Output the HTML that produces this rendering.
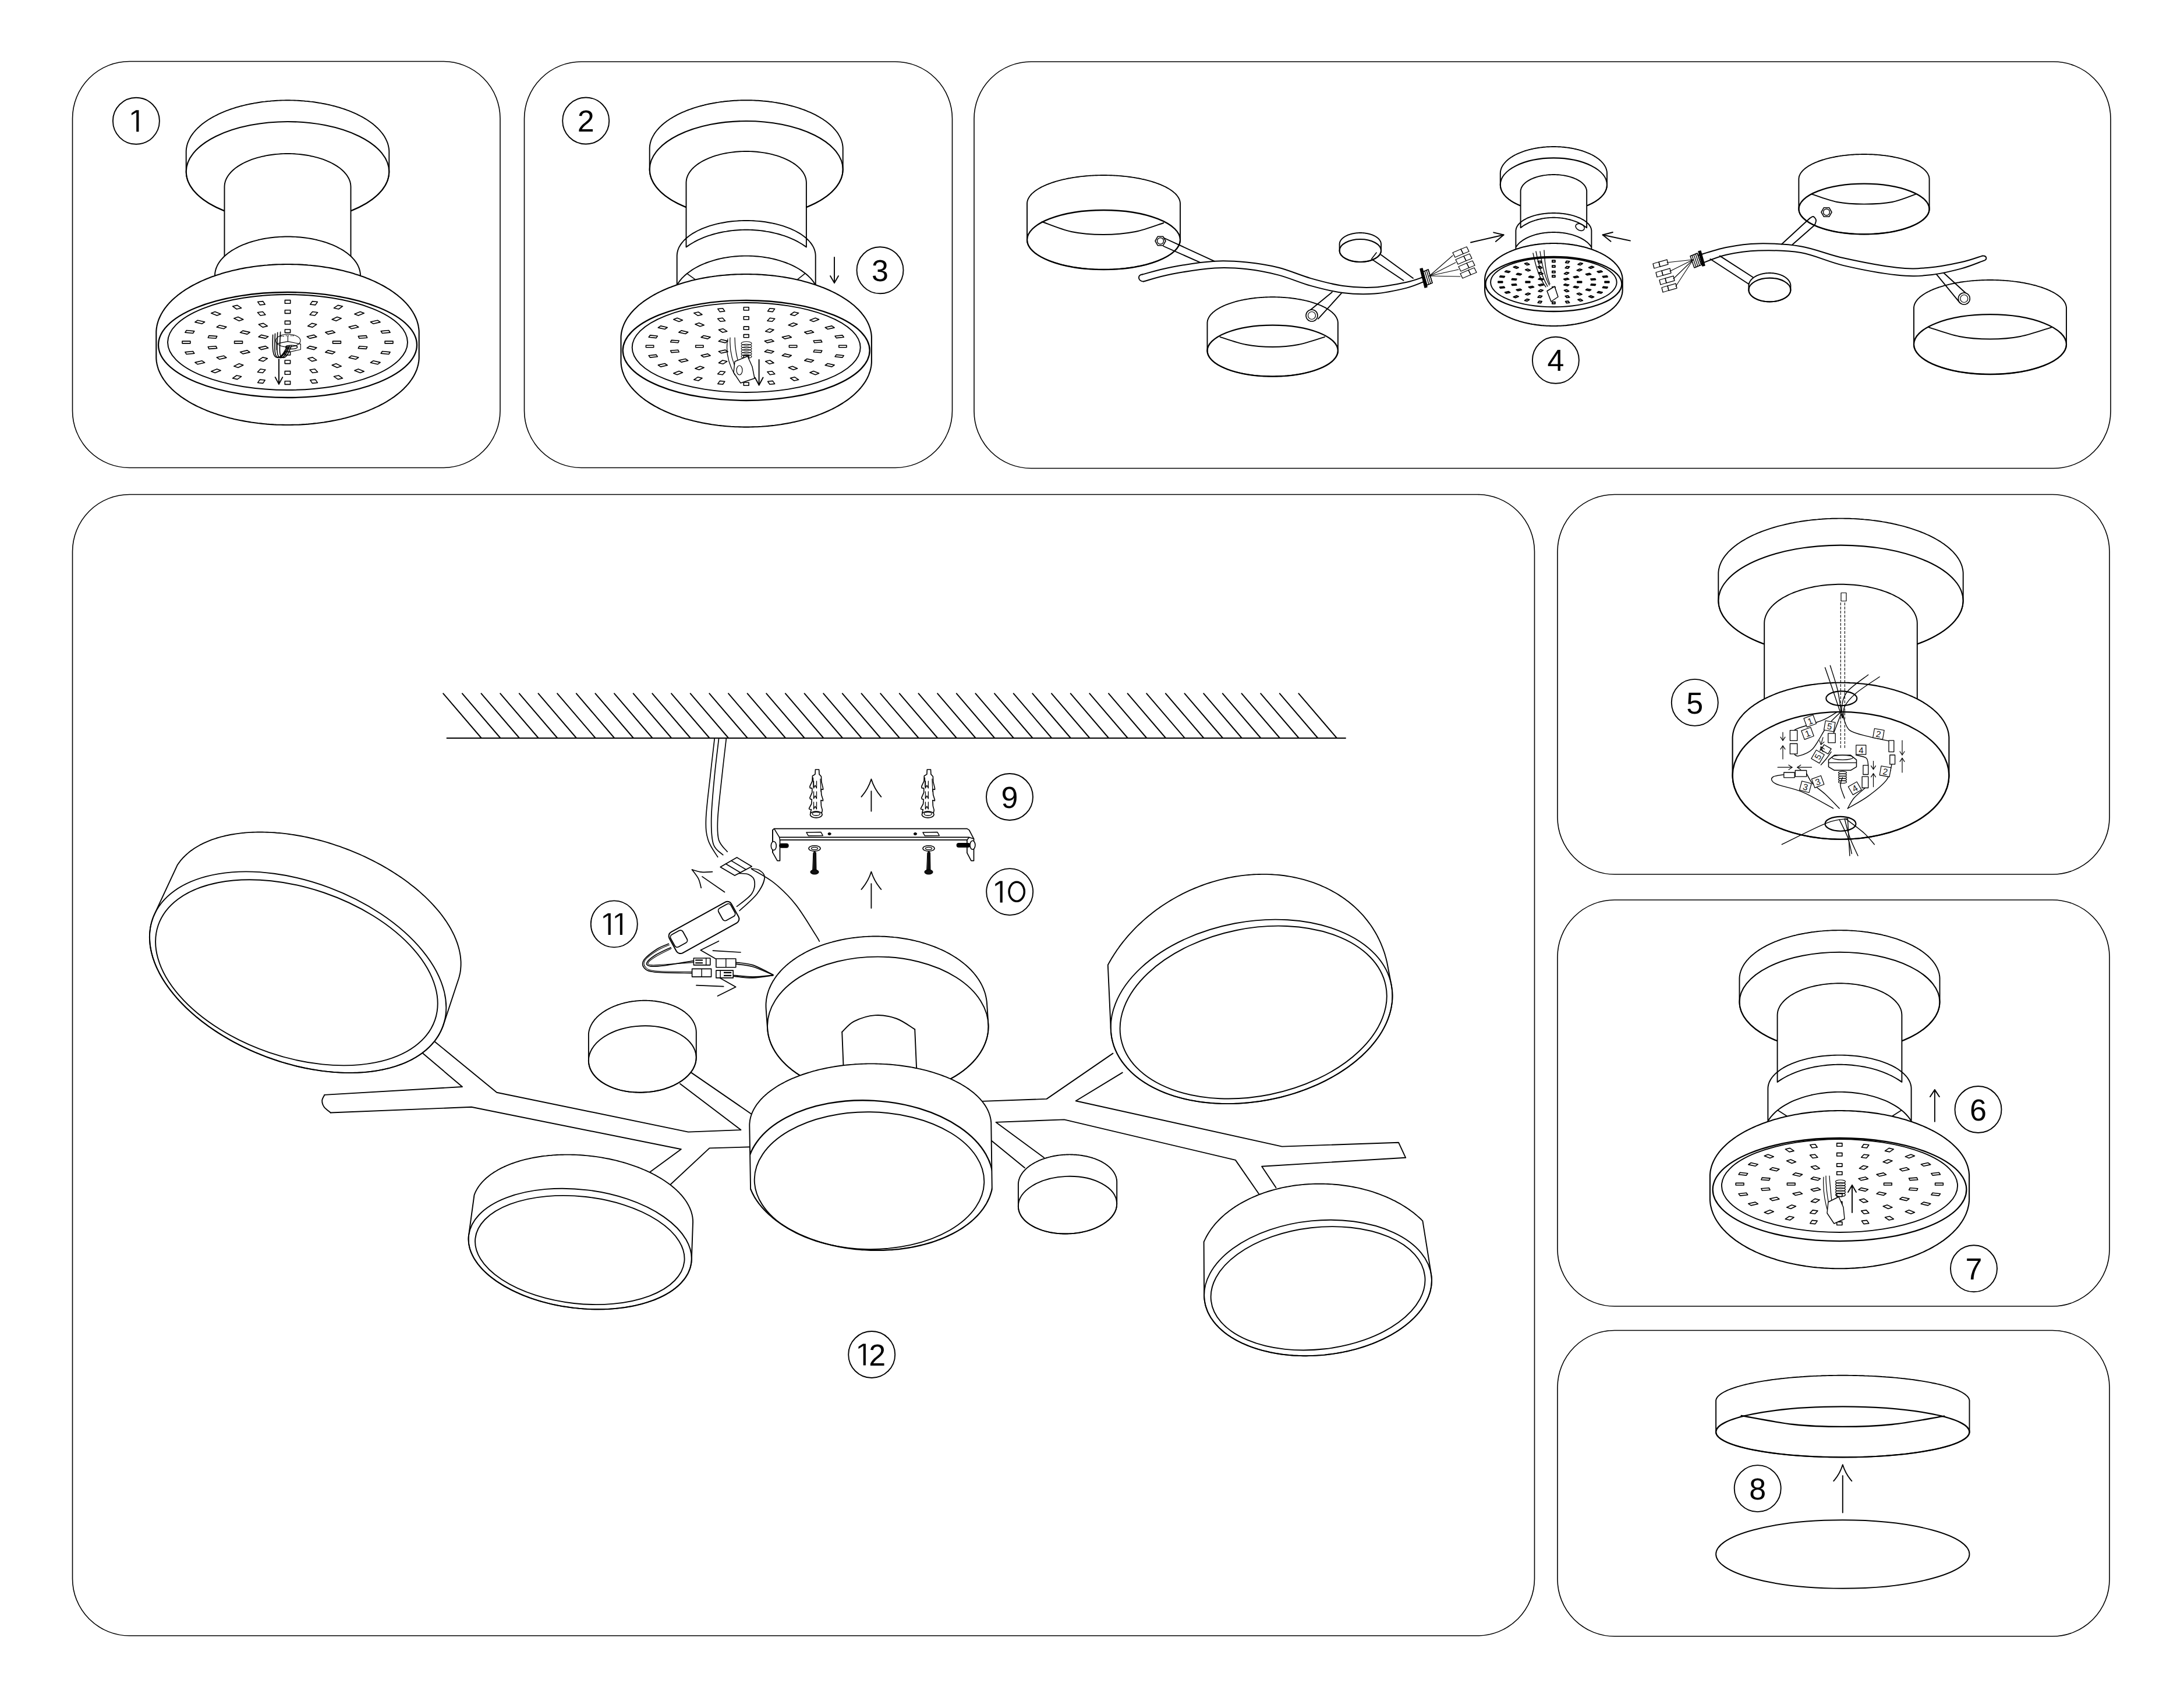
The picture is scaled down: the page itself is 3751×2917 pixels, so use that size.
<!DOCTYPE html><html><head><meta charset="utf-8"><style>html,body{margin:0;padding:0;background:#fff;}svg{display:block;}</style></head><body><svg width="3751" height="2917" viewBox="0 0 3751 2917" fill="none" stroke="#000" stroke-width="1.9" stroke-linecap="round" stroke-linejoin="round" font-family="Liberation Sans, sans-serif">
<rect x="0" y="0" width="3751" height="2917" fill="#fff" stroke="none"/>
<rect x="124.5" y="105.5" width="734.5" height="698" rx="98" stroke-width="1.6"/>
<rect x="900.5" y="106" width="735" height="697.5" rx="98" stroke-width="1.6"/>
<rect x="1673" y="106" width="1952" height="698.5" rx="98" stroke-width="1.6"/>
<rect x="124.5" y="849.5" width="2511" height="1960.5" rx="98" stroke-width="1.6"/>
<rect x="2675" y="849.5" width="948" height="652.5" rx="98" stroke-width="1.6"/>
<rect x="2675" y="1546" width="948" height="698" rx="98" stroke-width="1.6"/>
<rect x="2675" y="2285.5" width="948" height="525.5" rx="98" stroke-width="1.6"/>
<path d="M319.7 295L319.7 261.3 319.7 259.7 319.8 258.2 319.9 256.6 320.1 255.1 320.4 253.5 320.7 252 321 250.5 321.4 248.9 321.8 247.4 322.3 245.8 322.9 244.3 323.5 242.8 324.2 241.3 324.9 239.8 325.6 238.3 326.5 236.8 327.3 235.3 328.2 233.8 329.2 232.3 330.2 230.9 331.3 229.4 332.4 228 333.6 226.5 334.8 225.1 336 223.7 337.3 222.3 338.7 220.9 340.1 219.5 341.6 218.2 343.1 216.8 344.6 215.5 346.2 214.1 347.8 212.8 349.5 211.5 351.2 210.3 353 209 354.8 207.7 356.6 206.5 358.5 205.3 360.5 204.1 362.5 202.9 364.5 201.7 366.5 200.6 368.6 199.5 370.8 198.4 372.9 197.3 375.1 196.2 377.4 195.2 379.6 194.1 382 193.1 384.3 192.1 386.7 191.2 389.1 190.2 391.5 189.3 394 188.4 396.5 187.5 399.1 186.7 401.6 185.8 404.2 185 406.8 184.2 409.5 183.5 412.2 182.7 414.9 182 417.6 181.3 420.3 180.6 423.1 180 425.9 179.4 428.7 178.8 431.5 178.2 434.4 177.7 437.3 177.1 440.1 176.7 443 176.2 446 175.7 448.9 175.3 451.8 174.9 454.8 174.6 457.8 174.2 460.7 173.9 463.7 173.7 466.7 173.4 469.7 173.2 472.8 173 475.8 172.8 478.8 172.6 481.8 172.5 484.9 172.4 487.9 172.4 491 172.3 494 172.3 497 172.3 500.1 172.4 503.1 172.4 506.2 172.5 509.2 172.6 512.2 172.8 515.2 173 518.3 173.2 521.3 173.4 524.3 173.7 527.3 173.9 530.2 174.2 533.2 174.6 536.2 174.9 539.1 175.3 542 175.7 545 176.2 547.9 176.7 550.7 177.1 553.6 177.7 556.5 178.2 559.3 178.8 562.1 179.4 564.9 180 567.7 180.6 570.4 181.3 573.1 182 575.8 182.7 578.5 183.5 581.1 184.2 583.8 185 586.4 185.8 588.9 186.7 591.5 187.5 594 188.4 596.5 189.3 598.9 190.2 601.3 191.2 603.7 192.1 606 193.1 608.4 194.1 610.6 195.2 612.9 196.2 615.1 197.3 617.2 198.4 619.4 199.5 621.5 200.6 623.5 201.7 625.5 202.9 627.5 204.1 629.5 205.3 631.4 206.5 633.2 207.7 635 209 636.8 210.3 638.5 211.5 640.2 212.8 641.8 214.1 643.4 215.5 644.9 216.8 646.4 218.2 647.9 219.5 649.3 220.9 650.7 222.3 652 223.7 653.2 225.1 654.4 226.5 655.6 228 656.7 229.4 657.8 230.9 658.8 232.3 659.8 233.8 660.7 235.3 661.5 236.8 662.4 238.3 663.1 239.8 663.8 241.3 664.5 242.8 665.1 244.3 665.7 245.8 666.2 247.4 666.6 248.9 667 250.5 667.3 252 667.6 253.5 667.9 255.1 668.1 256.6 668.2 258.2 668.3 259.7 668.3 261.3 668.3 295 668.3 296.5 668.2 298 668.1 299.5 667.9 301 667.6 302.5 667.3 304 667 305.5 666.6 307 666.2 308.5 665.7 309.9 665.1 311.4 664.5 312.9 663.8 314.3 663.1 315.8 662.4 317.3 661.5 318.7 660.7 320.1 659.8 321.6 658.8 323 657.8 324.4 656.7 325.8 655.6 327.2 654.4 328.6 653.2 330 652 331.3 650.7 332.7 649.3 334 647.9 335.4 646.4 336.7 644.9 338 643.4 339.3 641.8 340.6 640.2 341.8 638.5 343.1 636.8 344.3 635 345.5 633.2 346.8 631.4 347.9 629.5 349.1 627.5 350.3 625.5 351.4 623.5 352.5 621.5 353.7 619.4 354.7 617.2 355.8 615.1 356.9 612.9 357.9 610.6 358.9 608.4 359.9 606 360.9 603.7 361.8 601.3 362.8 598.9 363.7 596.5 364.6 594 365.4 591.5 366.3 588.9 367.1 586.4 367.9 583.8 368.7 581.1 369.5 578.5 370.2 575.8 370.9 573.1 371.6 570.4 372.3 567.7 372.9 564.9 373.6 562.1 374.2 559.3 374.7 556.5 375.3 553.6 375.8 550.7 376.3 547.9 376.8 545 377.2 542 377.7 539.1 378.1 536.2 378.4 533.2 378.8 530.2 379.1 527.3 379.4 524.3 379.7 521.3 379.9 518.3 380.2 515.2 380.4 512.2 380.5 509.2 380.7 506.2 380.8 503.1 380.9 500.1 380.9 497 381 494 381 491 381 487.9 380.9 484.9 380.9 481.8 380.8 478.8 380.7 475.8 380.5 472.8 380.4 469.7 380.2 466.7 379.9 463.7 379.7 460.7 379.4 457.8 379.1 454.8 378.8 451.8 378.4 448.9 378.1 446 377.7 443 377.2 440.1 376.8 437.3 376.3 434.4 375.8 431.5 375.3 428.7 374.7 425.9 374.2 423.1 373.6 420.3 372.9 417.6 372.3 414.9 371.6 412.2 370.9 409.5 370.2 406.9 369.5 404.2 368.7 401.6 367.9 399.1 367.1 396.5 366.3 394 365.4 391.5 364.6 389.1 363.7 386.7 362.8 384.3 361.8 382 360.9 379.6 359.9 377.4 358.9 375.1 357.9 372.9 356.9 370.8 355.8 368.6 354.7 366.5 353.7 364.5 352.5 362.5 351.4 360.5 350.3 358.5 349.1 356.6 347.9 354.8 346.8 353 345.5 351.2 344.3 349.5 343.1 347.8 341.8 346.2 340.6 344.6 339.3 343.1 338 341.6 336.7 340.1 335.4 338.7 334 337.3 332.7 336 331.3 334.8 330 333.6 328.6 332.4 327.2 331.3 325.8 330.2 324.4 329.2 323 328.2 321.6 327.3 320.1 326.5 318.7 325.6 317.3 324.9 315.8 324.2 314.3 323.5 312.9 322.9 311.4 322.3 309.9 321.8 308.5 321.4 307 321 305.5 320.7 304 320.4 302.5 320.1 301 319.9 299.5 319.8 298 319.7 296.5Z" stroke-width="1.9" fill="#fff"/>
<ellipse cx="494" cy="295" rx="174.3" ry="86" stroke-width="2.1"/>
<path d="M385.5 321L385.6 319 385.8 317 386.1 315 386.6 313.1 387.1 311.1 387.9 309.1 388.7 307.2 389.7 305.3 390.8 303.4 392 301.5 393.4 299.6 394.9 297.8 396.5 296 398.2 294.2 400 292.5 402 290.8 404 289.1 406.2 287.5 408.5 285.9 410.9 284.4 413.4 282.9 416 281.4 418.6 280 421.4 278.6 424.3 277.3 427.2 276.1 430.2 274.9 433.3 273.7 436.5 272.7 439.7 271.6 443.1 270.7 446.4 269.8 449.9 268.9 453.4 268.2 456.9 267.4 460.5 266.8 464.1 266.2 467.8 265.7 471.4 265.2 475.2 264.9 478.9 264.6 482.7 264.3 486.4 264.1 490.2 264 494 264 497.8 264 501.6 264.1 505.3 264.3 509.1 264.6 512.8 264.9 516.6 265.2 520.2 265.7 523.9 266.2 527.5 266.8 531.1 267.4 534.6 268.2 538.1 268.9 541.6 269.8 544.9 270.7 548.2 271.6 551.5 272.7 554.7 273.7 557.8 274.9 560.8 276.1 563.7 277.3 566.6 278.6 569.4 280 572 281.4 574.6 282.9 577.1 284.4 579.5 285.9 581.8 287.5 584 289.1 586 290.8 588 292.5 589.8 294.2 591.5 296 593.1 297.8 594.6 299.6 596 301.5 597.2 303.4 598.3 305.3 599.3 307.2 600.1 309.1 600.9 311.1 601.4 313.1 601.9 315 602.2 317 602.4 319 602.5 321 602.5 470 602.4 472 602.2 474 601.9 476 601.4 477.9 600.9 479.9 600.1 481.9 599.3 483.8 598.3 485.7 597.2 487.6 596 489.5 594.6 491.4 593.1 493.2 591.5 495 589.8 496.8 588 498.5 586 500.2 584 501.9 581.8 503.5 579.5 505.1 577.1 506.6 574.6 508.1 572 509.6 569.4 511 566.6 512.4 563.7 513.7 560.8 514.9 557.8 516.1 554.7 517.3 551.5 518.3 548.2 519.4 544.9 520.3 541.6 521.2 538.1 522.1 534.6 522.8 531.1 523.6 527.5 524.2 523.9 524.8 520.2 525.3 516.6 525.8 512.8 526.1 509.1 526.4 505.3 526.7 501.6 526.9 497.8 527 494 527 490.2 527 486.4 526.9 482.7 526.7 478.9 526.4 475.2 526.1 471.4 525.8 467.8 525.3 464.1 524.8 460.5 524.2 456.9 523.6 453.4 522.8 449.9 522.1 446.4 521.2 443.1 520.3 439.8 519.4 436.5 518.3 433.3 517.3 430.2 516.1 427.2 514.9 424.3 513.7 421.4 512.4 418.6 511 416 509.6 413.4 508.1 410.9 506.6 408.5 505.1 406.2 503.5 404 501.9 402 500.2 400 498.5 398.2 496.8 396.5 495 394.9 493.2 393.4 491.4 392 489.5 390.8 487.6 389.7 485.7 388.7 483.8 387.9 481.9 387.1 479.9 386.6 477.9 386.1 476 385.8 474 385.6 472 385.5 470Z" stroke-width="1.9" fill="#fff"/>
<path d="M369 473.5L369.1 471.2 369.3 468.8 369.7 466.5 370.2 464.2 370.9 461.9 371.7 459.6 372.7 457.3 373.8 455 375.1 452.8 376.5 450.6 378.1 448.4 379.8 446.2 381.7 444.1 383.6 442 385.7 440 388 438 390.4 436 392.9 434.1 395.5 432.3 398.2 430.4 401.1 428.7 404.1 427 407.2 425.3 410.4 423.7 413.7 422.2 417 420.7 420.5 419.3 424.1 418 427.8 416.7 431.5 415.5 435.3 414.3 439.2 413.3 443.2 412.3 447.2 411.4 451.2 410.5 455.4 409.8 459.5 409.1 463.8 408.5 468 408 472.3 407.5 476.6 407.2 480.9 406.9 485.3 406.7 489.6 406.5 494 406.5 498.4 406.5 502.7 406.7 507.1 406.9 511.4 407.2 515.7 407.5 520 408 524.2 408.5 528.5 409.1 532.6 409.8 536.8 410.5 540.8 411.4 544.8 412.3 548.8 413.3 552.7 414.3 556.5 415.5 560.2 416.7 563.9 418 567.5 419.3 571 420.7 574.3 422.2 577.6 423.7 580.8 425.3 583.9 427 586.9 428.7 589.8 430.4 592.5 432.3 595.1 434.1 597.6 436 600 438 602.3 440 604.4 442 606.3 444.1 608.2 446.2 609.9 448.4 611.5 450.6 612.9 452.8 614.2 455 615.3 457.3 616.3 459.6 617.1 461.9 617.8 464.2 618.3 466.5 618.7 468.8 618.9 471.2 619 473.5 619 520 618.9 522.3 618.7 524.7 618.3 527 617.8 529.3 617.1 531.6 616.3 533.9 615.3 536.2 614.2 538.5 612.9 540.7 611.5 542.9 609.9 545.1 608.2 547.3 606.3 549.4 604.4 551.5 602.3 553.5 600 555.5 597.6 557.5 595.1 559.4 592.5 561.2 589.8 563.1 586.9 564.8 583.9 566.5 580.8 568.2 577.6 569.8 574.3 571.3 571 572.8 567.5 574.2 563.9 575.5 560.2 576.8 556.5 578 552.7 579.2 548.8 580.2 544.8 581.2 540.8 582.1 536.8 583 532.6 583.7 528.5 584.4 524.2 585 520 585.5 515.7 586 511.4 586.3 507.1 586.6 502.7 586.8 498.4 587 494 587 489.6 587 485.3 586.8 480.9 586.6 476.6 586.3 472.3 586 468 585.5 463.8 585 459.5 584.4 455.4 583.7 451.2 583 447.2 582.1 443.2 581.2 439.2 580.2 435.3 579.2 431.5 578 427.8 576.8 424.1 575.5 420.5 574.2 417 572.8 413.7 571.3 410.4 569.8 407.2 568.2 404.1 566.5 401.1 564.8 398.2 563.1 395.5 561.2 392.9 559.4 390.4 557.5 388 555.5 385.7 553.5 383.6 551.5 381.7 549.4 379.8 547.3 378.1 545.1 376.5 542.9 375.1 540.7 373.8 538.5 372.7 536.2 371.7 533.9 370.9 531.6 370.2 529.3 369.7 527 369.3 524.7 369.1 522.3 369 520Z" stroke-width="1.9" fill="#fff"/>
<path d="M268.3 613L268.3 572 268.3 569.9 268.4 567.9 268.6 565.8 268.8 563.8 269.2 561.7 269.5 559.7 270 557.6 270.5 555.6 271.1 553.5 271.7 551.5 272.4 549.5 273.2 547.5 274.1 545.5 275 543.5 276 541.5 277 539.5 278.2 537.5 279.3 535.5 280.6 533.6 281.9 531.6 283.3 529.7 284.7 527.8 286.2 525.9 287.8 524 289.4 522.1 291.1 520.3 292.9 518.4 294.7 516.6 296.6 514.8 298.5 513 300.5 511.2 302.6 509.5 304.7 507.7 306.9 506 309.1 504.3 311.4 502.6 313.7 501 316.1 499.4 318.6 497.7 321.1 496.2 323.7 494.6 326.3 493 328.9 491.5 331.6 490 334.4 488.6 337.2 487.1 340.1 485.7 343 484.3 345.9 482.9 348.9 481.6 352 480.3 355 479 358.2 477.8 361.3 476.5 364.5 475.3 367.8 474.2 371.1 473 374.4 471.9 377.8 470.9 381.1 469.8 384.6 468.8 388 467.8 391.5 466.9 395.1 465.9 398.6 465.1 402.2 464.2 405.8 463.4 409.5 462.6 413.1 461.8 416.8 461.1 420.5 460.4 424.3 459.8 428 459.2 431.8 458.6 435.6 458 439.4 457.5 443.2 457 447.1 456.6 450.9 456.2 454.8 455.8 458.7 455.5 462.6 455.1 466.5 454.9 470.4 454.6 474.3 454.4 478.3 454.3 482.2 454.2 486.1 454.1 490.1 454 494 454 497.9 454 501.9 454.1 505.8 454.2 509.7 454.3 513.7 454.4 517.6 454.6 521.5 454.9 525.4 455.1 529.3 455.5 533.2 455.8 537.1 456.2 540.9 456.6 544.8 457 548.6 457.5 552.4 458 556.2 458.6 560 459.2 563.7 459.8 567.5 460.4 571.2 461.1 574.9 461.8 578.5 462.6 582.2 463.4 585.8 464.2 589.4 465.1 592.9 465.9 596.5 466.9 600 467.8 603.4 468.8 606.9 469.8 610.2 470.9 613.6 471.9 616.9 473 620.2 474.2 623.5 475.3 626.7 476.5 629.8 477.8 633 479 636 480.3 639.1 481.6 642.1 482.9 645 484.3 647.9 485.7 650.8 487.1 653.6 488.6 656.4 490 659.1 491.5 661.7 493 664.3 494.6 666.9 496.2 669.4 497.7 671.9 499.4 674.3 501 676.6 502.6 678.9 504.3 681.1 506 683.3 507.7 685.4 509.5 687.5 511.2 689.5 513 691.4 514.8 693.3 516.6 695.1 518.4 696.9 520.3 698.6 522.1 700.2 524 701.8 525.9 703.3 527.8 704.7 529.7 706.1 531.6 707.4 533.6 708.7 535.5 709.8 537.5 711 539.5 712 541.5 713 543.5 713.9 545.5 714.8 547.5 715.6 549.5 716.3 551.5 716.9 553.5 717.5 555.6 718 557.6 718.5 559.7 718.8 561.7 719.2 563.8 719.4 565.8 719.6 567.9 719.7 569.9 719.7 572 719.7 613 719.7 615 719.6 617.1 719.4 619.1 719.2 621.2 718.8 623.2 718.5 625.2 718 627.3 717.5 629.3 716.9 631.3 716.3 633.3 715.6 635.3 714.8 637.3 713.9 639.3 713 641.3 712 643.3 711 645.2 709.8 647.2 708.7 649.2 707.4 651.1 706.1 653 704.7 654.9 703.3 656.8 701.8 658.7 700.2 660.6 698.6 662.4 696.9 664.3 695.1 666.1 693.3 667.9 691.4 669.7 689.5 671.5 687.5 673.3 685.4 675 683.3 676.7 681.1 678.4 678.9 680.1 676.6 681.8 674.3 683.4 671.9 685 669.4 686.6 666.9 688.2 664.3 689.8 661.7 691.3 659.1 692.8 656.4 694.3 653.6 695.7 650.8 697.2 647.9 698.6 645 699.9 642.1 701.3 639.1 702.6 636 703.9 633 705.2 629.8 706.4 626.7 707.7 623.5 708.8 620.2 710 616.9 711.1 613.6 712.2 610.2 713.3 606.9 714.3 603.4 715.3 600 716.3 596.5 717.2 592.9 718.2 589.4 719 585.8 719.9 582.2 720.7 578.5 721.5 574.9 722.2 571.2 722.9 567.5 723.6 563.7 724.3 560 724.9 556.2 725.5 552.4 726 548.6 726.5 544.8 727 540.9 727.4 537.1 727.9 533.2 728.2 529.3 728.6 525.4 728.9 521.5 729.1 517.6 729.4 513.7 729.6 509.7 729.7 505.8 729.8 501.9 729.9 497.9 730 494 730 490.1 730 486.1 729.9 482.2 729.8 478.3 729.7 474.3 729.6 470.4 729.4 466.5 729.1 462.6 728.9 458.7 728.6 454.8 728.2 450.9 727.9 447.1 727.4 443.2 727 439.4 726.5 435.6 726 431.8 725.5 428 724.9 424.3 724.3 420.5 723.6 416.8 722.9 413.1 722.2 409.5 721.5 405.8 720.7 402.2 719.9 398.6 719 395.1 718.2 391.5 717.2 388 716.3 384.6 715.3 381.2 714.3 377.8 713.3 374.4 712.2 371.1 711.1 367.8 710 364.5 708.8 361.3 707.7 358.2 706.4 355 705.2 352 703.9 348.9 702.6 345.9 701.3 343 699.9 340.1 698.6 337.2 697.2 334.4 695.7 331.6 694.3 328.9 692.8 326.3 691.3 323.7 689.8 321.1 688.2 318.6 686.6 316.1 685 313.7 683.4 311.4 681.8 309.1 680.1 306.9 678.4 304.7 676.7 302.6 675 300.5 673.3 298.5 671.5 296.6 669.7 294.7 667.9 292.9 666.1 291.1 664.3 289.4 662.4 287.8 660.6 286.2 658.7 284.7 656.8 283.3 654.9 281.9 653 280.6 651.1 279.3 649.2 278.2 647.2 277 645.2 276 643.3 275 641.3 274.1 639.3 273.2 637.3 272.4 635.3 271.7 633.3 271.1 631.3 270.5 629.3 270 627.3 269.5 625.2 269.2 623.2 268.8 621.2 268.6 619.1 268.4 617.1 268.3 615Z" stroke-width="2.1" fill="#fff"/>
<ellipse cx="494" cy="592.5" rx="222" ry="90.5" stroke-width="2.3"/>
<ellipse cx="494" cy="588" rx="206" ry="82" stroke-width="1.9"/>
<path d="M539.3 575.4L543.9 578.6 531.9 581.4 527.2 578.2ZM489.4 566L498.6 566 498.6 571.6 489.4 571.6ZM444.1 578.6L448.7 575.4 460.8 578.2 456.1 581.4ZM448.7 600.6L444.1 597.4 456.1 594.6 460.8 597.8ZM498.6 610L489.3 610 489.3 604.4 498.6 604.4ZM543.9 597.4L539.3 600.6 527.2 597.8 531.9 594.6ZM585.4 586.1L585.4 589.9 571.5 589.9 571.5 586.1ZM570.9 568.1L575.5 571.3 563.4 574.1 558.8 570.9ZM535.7 555.4L543.7 557.3 536.8 562.1 528.7 560.2ZM489.4 551.4L498.6 551.4 498.6 557 489.4 557ZM444.3 557.3L452.3 555.4 459.3 560.2 451.2 562.1ZM412.5 571.3L417.1 568.1 429.2 570.9 424.6 574.1ZM402.6 589.9L402.6 586.1 416.5 586.1 416.5 589.9ZM417.1 607.9L412.5 604.7 424.6 601.9 429.2 605.1ZM452.3 620.6L444.3 618.7 451.2 613.9 459.3 615.8ZM498.6 624.6L489.3 624.6 489.3 619 498.6 619ZM543.7 618.7L535.7 620.6 528.7 615.8 536.8 613.9ZM575.5 604.7L570.9 607.9 558.8 605.1 563.4 601.9ZM629.1 576.6L630.7 580.2 617 581.2 615.3 577.6ZM611.2 558.8L615.8 562 603.7 564.8 599.1 561.6ZM579.1 544.5L586.3 546.9 577.3 551.2 570.2 548.8ZM536.8 535.5L545.6 536.8 540.8 542 532.1 540.7ZM489.4 532.8L498.7 532.8 498.7 538.4 489.4 538.4ZM442.4 536.8L451.2 535.5 455.9 540.7 447.2 542ZM401.7 546.9L408.9 544.5 417.8 548.8 410.7 551.2ZM372.2 562L376.8 558.8 388.9 561.6 384.3 564.8ZM357.3 580.2L358.9 576.6 372.7 577.6 371 581.2ZM358.9 599.4L357.3 595.8 371 594.8 372.7 598.4ZM376.8 617.2L372.2 614 384.3 611.2 388.9 614.4ZM408.9 631.5L401.7 629.1 410.7 624.8 417.8 627.2ZM451.2 640.5L442.4 639.2 447.2 634 455.9 635.3ZM498.6 643.2L489.3 643.2 489.3 637.6 498.6 637.6ZM545.6 639.2L536.8 640.5 532.1 635.3 540.8 634ZM586.3 629.1L579.1 631.5 570.2 627.2 577.3 624.8ZM615.8 614L611.2 617.2 599.1 614.4 603.7 611.2ZM630.7 595.8L629.1 599.4 615.3 598.4 617 594.8ZM675 586.1L675 589.9 661.1 589.9 661.1 586.1ZM667.7 567.5L670.1 571.1 656.6 572.5 654.2 568.9ZM648.5 550.2L653.1 553.4 641 556.2 636.4 553ZM618.7 535.5L625.3 538.1 615.4 542.1 608.9 539.4ZM580.5 524.4L588.5 526.2 581.6 531 573.5 529.2ZM536.4 517.6L545.3 518.5 541.7 523.9 532.8 523ZM489.4 515.6L498.7 515.6 498.7 521.2 489.4 521.2ZM442.7 518.5L451.6 517.6 455.2 523 446.3 523.9ZM399.5 526.2L407.5 524.4 414.5 529.2 406.4 531ZM362.7 538.1L369.3 535.5 379.1 539.4 372.6 542.1ZM334.9 553.4L339.5 550.2 351.6 553 347 556.2ZM317.9 571.1L320.3 567.5 333.8 568.9 331.4 572.5ZM313 589.9L313 586.1 326.9 586.1 326.9 589.9ZM320.3 608.5L317.9 604.9 331.4 603.5 333.8 607.1ZM339.5 625.8L334.9 622.6 347 619.8 351.6 623ZM369.3 640.5L362.7 637.9 372.6 633.9 379.1 636.6ZM407.5 651.6L399.5 649.8 406.4 645 414.5 646.8ZM451.6 658.4L442.7 657.5 446.3 652.1 455.2 653ZM498.6 660.4L489.3 660.4 489.3 654.8 498.6 654.8ZM545.3 657.5L536.4 658.4 532.8 653 541.7 652.1ZM588.5 649.8L580.5 651.6 573.5 646.8 581.6 645ZM625.3 637.9L618.7 640.5 608.9 636.6 615.4 633.9ZM653.1 622.6L648.5 625.8 636.4 623 641 619.8ZM670.1 604.9L667.7 608.5 654.2 607.1 656.6 603.5Z" stroke-width="1.6"/>
<ellipse cx="494.8" cy="585.3" rx="21.2" ry="11" stroke-width="1.1" fill="#fff"/>
<path d="M475 590.4L494.4 586.6 516.3 591.1" stroke-width="1.1"/>
<path d="M494.4 577.2L494.4 586.6" stroke-width="1.1"/>
<path d="M516.3 591.1L516.3 600.5 496.5 604.7" stroke-width="1.1"/>
<path d="M475 590.4L475 601" stroke-width="1.1"/>
<path d="M482 577.5 h6 M491 576.8 h5 M499 576.8 h6" stroke-width="1" stroke-dasharray="2 1.5"/>
<ellipse cx="500.6" cy="596.3" rx="10.2" ry="3.2" stroke-width="1.4"/>
<path d="M468.6 575.2C467.6 600.2 468.4 614.4 476.4 614.4S490 601.5 493 595.5" stroke-width="1.6"/>
<path d="M472.5 573.3C471.5 598.3 470.5 614.2 478.5 614.2S492.5 601.2 495.5 595.2" stroke-width="1.6"/>
<path d="M476.7 571.3C475.7 596.3 474 614.6 482 614.6S494.5 600.6 497.5 594.6" stroke-width="1.6"/>
<path d="M481.6 570.4C480.6 595.4 478 614.5 486 614.5S497.5 600.2 500.5 594.2" stroke-width="1.6"/>
<path d="M479 617L479 659.7" stroke-width="1.9"/>
<path d="M472.7 648.1L479 659.7 485.3 648.1" stroke-width="1.9"/>
<circle cx="233.9" cy="207.8" r="40" stroke-width="1.9"/>
<path d="M238.4 189.3L238.4 226.3 234.2 226.3 234.2 192.9 225.9 198.1 225.9 194.3 233.6 189.3Z" fill="#000" stroke="none"/>
<path d="M1115.7 291L1115.7 255.8 1115.7 254.3 1115.8 252.9 1115.9 251.4 1116.1 250 1116.3 248.5 1116.6 247.1 1116.9 245.6 1117.3 244.2 1117.7 242.7 1118.2 241.3 1118.7 239.8 1119.3 238.4 1120 237 1120.6 235.6 1121.4 234.2 1122.1 232.8 1123 231.4 1123.8 230 1124.7 228.6 1125.7 227.2 1126.7 225.8 1127.8 224.5 1128.9 223.1 1130.1 221.8 1131.3 220.5 1132.5 219.2 1133.8 217.8 1135.1 216.6 1136.5 215.3 1137.9 214 1139.4 212.7 1140.9 211.5 1142.5 210.3 1144.1 209.1 1145.7 207.8 1147.4 206.7 1149.1 205.5 1150.9 204.3 1152.7 203.2 1154.5 202.1 1156.4 201 1158.3 199.9 1160.3 198.8 1162.3 197.7 1164.3 196.7 1166.4 195.7 1168.5 194.7 1170.6 193.7 1172.8 192.7 1175 191.8 1177.2 190.8 1179.5 189.9 1181.8 189 1184.1 188.2 1186.5 187.3 1188.9 186.5 1191.3 185.7 1193.7 184.9 1196.2 184.1 1198.7 183.4 1201.2 182.7 1203.8 182 1206.3 181.3 1208.9 180.7 1211.5 180 1214.2 179.4 1216.8 178.8 1219.5 178.3 1222.2 177.8 1224.9 177.2 1227.7 176.8 1230.4 176.3 1233.2 175.9 1235.9 175.4 1238.7 175 1241.5 174.7 1244.4 174.3 1247.2 174 1250 173.7 1252.9 173.5 1255.7 173.2 1258.6 173 1261.5 172.8 1264.3 172.7 1267.2 172.5 1270.1 172.4 1273 172.3 1275.9 172.3 1278.8 172.2 1281.7 172.2 1284.6 172.2 1287.5 172.3 1290.4 172.3 1293.3 172.4 1296.2 172.5 1299.1 172.7 1301.9 172.8 1304.8 173 1307.7 173.2 1310.5 173.5 1313.4 173.7 1316.2 174 1319 174.3 1321.9 174.7 1324.7 175 1327.5 175.4 1330.2 175.9 1333 176.3 1335.7 176.8 1338.5 177.2 1341.2 177.8 1343.9 178.3 1346.6 178.8 1349.2 179.4 1351.9 180 1354.5 180.7 1357.1 181.3 1359.6 182 1362.2 182.7 1364.7 183.4 1367.2 184.1 1369.7 184.9 1372.1 185.7 1374.5 186.5 1376.9 187.3 1379.3 188.2 1381.6 189 1383.9 189.9 1386.2 190.8 1388.4 191.8 1390.6 192.7 1392.8 193.7 1394.9 194.7 1397 195.7 1399.1 196.7 1401.1 197.7 1403.1 198.8 1405.1 199.9 1407 201 1408.9 202.1 1410.7 203.2 1412.5 204.3 1414.3 205.5 1416 206.7 1417.7 207.8 1419.3 209.1 1420.9 210.3 1422.5 211.5 1424 212.7 1425.5 214 1426.9 215.3 1428.3 216.6 1429.6 217.8 1430.9 219.2 1432.1 220.5 1433.3 221.8 1434.5 223.1 1435.6 224.5 1436.7 225.8 1437.7 227.2 1438.7 228.6 1439.6 230 1440.4 231.4 1441.3 232.8 1442 234.2 1442.8 235.6 1443.4 237 1444.1 238.4 1444.7 239.8 1445.2 241.3 1445.7 242.7 1446.1 244.2 1446.5 245.6 1446.8 247.1 1447.1 248.5 1447.3 250 1447.5 251.4 1447.6 252.9 1447.7 254.3 1447.7 255.8 1447.7 291 1447.7 292.4 1447.6 293.9 1447.5 295.3 1447.3 296.8 1447.1 298.2 1446.8 299.7 1446.5 301.1 1446.1 302.6 1445.7 304 1445.2 305.4 1444.7 306.8 1444.1 308.3 1443.4 309.7 1442.8 311.1 1442 312.5 1441.3 313.9 1440.4 315.3 1439.6 316.6 1438.7 318 1437.7 319.4 1436.7 320.7 1435.6 322.1 1434.5 323.4 1433.3 324.8 1432.1 326.1 1430.9 327.4 1429.6 328.7 1428.3 330 1426.9 331.2 1425.5 332.5 1424 333.7 1422.5 335 1420.9 336.2 1419.3 337.4 1417.7 338.6 1416 339.8 1414.3 341 1412.5 342.1 1410.7 343.2 1408.9 344.4 1407 345.5 1405.1 346.5 1403.1 347.6 1401.1 348.7 1399.1 349.7 1397 350.7 1394.9 351.7 1392.8 352.7 1390.6 353.6 1388.4 354.6 1386.2 355.5 1383.9 356.4 1381.6 357.3 1379.3 358.1 1376.9 359 1374.5 359.8 1372.1 360.6 1369.7 361.4 1367.2 362.1 1364.7 362.9 1362.2 363.6 1359.6 364.3 1357.1 365 1354.5 365.6 1351.9 366.2 1349.2 366.8 1346.6 367.4 1343.9 368 1341.2 368.5 1338.5 369 1335.7 369.5 1333 369.9 1330.2 370.4 1327.5 370.8 1324.7 371.2 1321.9 371.5 1319 371.9 1316.2 372.2 1313.4 372.5 1310.5 372.7 1307.7 373 1304.8 373.2 1301.9 373.4 1299.1 373.5 1296.2 373.7 1293.3 373.8 1290.4 373.9 1287.5 373.9 1284.6 374 1281.7 374 1278.8 374 1275.9 373.9 1273 373.9 1270.1 373.8 1267.2 373.7 1264.3 373.5 1261.5 373.4 1258.6 373.2 1255.7 373 1252.9 372.7 1250 372.5 1247.2 372.2 1244.4 371.9 1241.5 371.5 1238.7 371.2 1235.9 370.8 1233.2 370.4 1230.4 369.9 1227.7 369.5 1224.9 369 1222.2 368.5 1219.5 368 1216.8 367.4 1214.2 366.8 1211.5 366.2 1208.9 365.6 1206.3 365 1203.8 364.3 1201.2 363.6 1198.7 362.9 1196.2 362.1 1193.7 361.4 1191.3 360.6 1188.9 359.8 1186.5 359 1184.1 358.1 1181.8 357.3 1179.5 356.4 1177.2 355.5 1175 354.6 1172.8 353.6 1170.6 352.7 1168.5 351.7 1166.4 350.7 1164.3 349.7 1162.3 348.7 1160.3 347.6 1158.3 346.5 1156.4 345.5 1154.5 344.4 1152.7 343.2 1150.9 342.1 1149.1 341 1147.4 339.8 1145.7 338.6 1144.1 337.4 1142.5 336.2 1140.9 335 1139.4 333.7 1137.9 332.5 1136.5 331.2 1135.1 330 1133.8 328.7 1132.5 327.4 1131.3 326.1 1130.1 324.8 1128.9 323.4 1127.8 322.1 1126.7 320.7 1125.7 319.4 1124.7 318 1123.8 316.6 1123 315.3 1122.1 313.9 1121.4 312.5 1120.6 311.1 1120 309.7 1119.3 308.3 1118.7 306.8 1118.2 305.4 1117.7 304 1117.3 302.6 1116.9 301.1 1116.6 299.7 1116.3 298.2 1116.1 296.8 1115.9 295.3 1115.8 293.9 1115.7 292.4Z" stroke-width="1.9" fill="#fff"/>
<ellipse cx="1281.7" cy="291" rx="166" ry="83" stroke-width="2.1"/>
<path d="M1178.5 313.7L1178.6 311.8 1178.8 310 1179.1 308.1 1179.5 306.2 1180.1 304.4 1180.8 302.5 1181.6 300.7 1182.5 298.9 1183.6 297.1 1184.7 295.3 1186 293.6 1187.4 291.9 1188.9 290.2 1190.6 288.5 1192.3 286.9 1194.2 285.2 1196.1 283.7 1198.2 282.1 1200.4 280.6 1202.6 279.2 1205 277.8 1207.5 276.4 1210 275.1 1212.6 273.8 1215.4 272.6 1218.2 271.4 1221 270.3 1224 269.2 1227 268.2 1230.1 267.2 1233.3 266.3 1236.5 265.4 1239.7 264.6 1243 263.9 1246.4 263.2 1249.8 262.6 1253.3 262.1 1256.7 261.6 1260.2 261.2 1263.8 260.8 1267.3 260.5 1270.9 260.3 1274.5 260.1 1278.1 260 1281.7 260 1285.3 260 1288.9 260.1 1292.5 260.3 1296.1 260.5 1299.6 260.8 1303.2 261.2 1306.7 261.6 1310.1 262.1 1313.6 262.6 1317 263.2 1320.4 263.9 1323.7 264.6 1326.9 265.4 1330.1 266.3 1333.3 267.2 1336.4 268.2 1339.4 269.2 1342.4 270.3 1345.2 271.4 1348 272.6 1350.8 273.8 1353.4 275.1 1355.9 276.4 1358.4 277.8 1360.8 279.2 1363 280.6 1365.2 282.1 1367.3 283.7 1369.2 285.2 1371.1 286.9 1372.8 288.5 1374.5 290.2 1376 291.9 1377.4 293.6 1378.7 295.3 1379.8 297.1 1380.9 298.9 1381.8 300.7 1382.6 302.5 1383.3 304.4 1383.9 306.2 1384.3 308.1 1384.6 310 1384.8 311.8 1384.9 313.7 1384.9 424.5 1381.5 422.1 1378 419.8 1374.6 417.7 1371.1 415.7 1367.7 413.9 1364.3 412.2 1360.8 410.6 1357.4 409.1 1353.9 407.7 1350.5 406.4 1347.1 405.2 1343.6 404.1 1340.2 403 1336.7 402 1333.3 401.1 1329.9 400.3 1326.4 399.5 1323 398.8 1319.5 398.1 1316.1 397.6 1312.7 397 1309.2 396.5 1305.8 396.1 1302.3 395.8 1298.9 395.5 1295.5 395.2 1292 395 1288.6 394.9 1285.1 394.8 1281.7 394.8 1278.3 394.8 1274.8 394.9 1271.4 395 1267.9 395.2 1264.5 395.5 1261.1 395.8 1257.6 396.1 1254.2 396.5 1250.7 397 1247.3 397.6 1243.9 398.1 1240.4 398.8 1237 399.5 1233.5 400.3 1230.1 401.1 1226.7 402 1223.2 403 1219.8 404.1 1216.3 405.2 1212.9 406.4 1209.5 407.7 1206 409.1 1202.6 410.6 1199.1 412.2 1195.7 413.9 1192.3 415.7 1188.8 417.7 1185.4 419.8 1181.9 422.1 1178.5 424.5Z" stroke-width="1.9" fill="#fff"/>
<path d="M1162.7 439.6L1162.8 437.5 1163 435.4 1163.4 433.3 1163.9 431.2 1164.5 429.1 1165.3 427 1166.2 424.9 1167.3 422.9 1168.5 420.9 1169.9 418.9 1171.4 416.9 1173 415 1174.7 413 1176.6 411.2 1178.6 409.3 1180.8 407.5 1183 405.7 1185.4 404 1187.9 402.3 1190.5 400.6 1193.3 399.1 1196.1 397.5 1199 396 1202.1 394.6 1205.2 393.2 1208.4 391.8 1211.8 390.6 1215.2 389.4 1218.6 388.2 1222.2 387.1 1225.8 386.1 1229.5 385.1 1233.3 384.2 1237.1 383.4 1241 382.7 1244.9 382 1248.9 381.3 1252.9 380.8 1257 380.3 1261 379.9 1265.1 379.6 1269.3 379.3 1273.4 379.1 1277.5 379 1281.7 379 1285.9 379 1290 379.1 1294.1 379.3 1298.3 379.6 1302.4 379.9 1306.4 380.3 1310.5 380.8 1314.5 381.3 1318.5 382 1322.4 382.7 1326.3 383.4 1330.1 384.2 1333.9 385.1 1337.6 386.1 1341.2 387.1 1344.8 388.2 1348.2 389.4 1351.6 390.6 1355 391.8 1358.2 393.2 1361.3 394.6 1364.4 396 1367.3 397.5 1370.1 399.1 1372.9 400.6 1375.5 402.3 1378 404 1380.4 405.7 1382.6 407.5 1384.8 409.3 1386.8 411.2 1388.7 413 1390.4 415 1392 416.9 1393.5 418.9 1394.9 420.9 1396.1 422.9 1397.2 424.9 1398.1 427 1398.9 429.1 1399.5 431.2 1400 433.3 1400.4 435.4 1400.6 437.5 1400.7 439.6 1400.7 500 1400.6 502.1 1400.4 504.2 1400 506.3 1399.5 508.4 1398.9 510.5 1398.1 512.6 1397.2 514.7 1396.1 516.7 1394.9 518.7 1393.5 520.7 1392 522.7 1390.4 524.6 1388.7 526.6 1386.8 528.4 1384.8 530.3 1382.6 532.1 1380.4 533.9 1378 535.6 1375.5 537.3 1372.9 539 1370.1 540.5 1367.3 542.1 1364.4 543.6 1361.3 545 1358.2 546.4 1355 547.8 1351.6 549 1348.2 550.2 1344.8 551.4 1341.2 552.5 1337.6 553.5 1333.9 554.5 1330.1 555.4 1326.3 556.2 1322.4 556.9 1318.5 557.6 1314.5 558.3 1310.5 558.8 1306.4 559.3 1302.4 559.7 1298.3 560 1294.1 560.3 1290 560.5 1285.9 560.6 1281.7 560.6 1277.5 560.6 1273.4 560.5 1269.3 560.3 1265.1 560 1261 559.7 1257 559.3 1252.9 558.8 1248.9 558.3 1244.9 557.6 1241 556.9 1237.1 556.2 1233.3 555.4 1229.5 554.5 1225.8 553.5 1222.2 552.5 1218.6 551.4 1215.2 550.2 1211.8 549 1208.4 547.8 1205.2 546.4 1202.1 545 1199 543.6 1196.1 542.1 1193.3 540.5 1190.5 539 1187.9 537.3 1185.4 535.6 1183 533.9 1180.8 532.1 1178.6 530.3 1176.6 528.4 1174.7 526.6 1173 524.6 1171.4 522.7 1169.9 520.7 1168.5 518.7 1167.3 516.7 1166.2 514.7 1165.3 512.6 1164.5 510.5 1163.9 508.4 1163.4 506.3 1163 504.2 1162.8 502.1 1162.7 500Z" stroke-width="1.9"/>
<path d="M1163.2 488.7L1167.2 482.9 1171.1 478.2 1175 474.3 1179 470.8 1183 467.7 1186.9 464.9 1190.9 462.3 1194.8 460 1198.8 457.9 1202.7 455.9 1206.7 454.2 1210.6 452.5 1214.5 451 1218.5 449.6 1222.5 448.3 1226.4 447.1 1230.4 446 1234.3 445 1238.2 444.1 1242.2 443.3 1246.2 442.6 1250.1 442 1254 441.4 1258 440.9 1262 440.5 1265.9 440.2 1269.9 439.9 1273.8 439.7 1277.8 439.6 1281.7 439.6 1285.7 439.6 1289.6 439.7 1293.5 439.9 1297.5 440.2 1301.5 440.5 1305.4 440.9 1309.4 441.4 1313.3 442 1317.2 442.6 1321.2 443.3 1325.2 444.1 1329.1 445 1333 446 1337 447.1 1341 448.3 1344.9 449.6 1348.9 451 1352.8 452.5 1356.8 454.2 1360.7 455.9 1364.7 457.9 1368.6 460 1372.5 462.3 1376.5 464.9 1380.5 467.7 1384.4 470.8 1388.4 474.3 1392.3 478.2 1396.2 482.9 1400.2 488.7" stroke-width="1.9"/>
<path d="M1179.8 469.8L1193.7 479.9" stroke-width="1.6"/>
<path d="M1370 479.9L1382.6 469.8" stroke-width="1.6"/>
<path d="M1066.5 620L1066.5 581 1066.5 579.1 1066.6 577.2 1066.8 575.2 1067 573.3 1067.3 571.4 1067.7 569.5 1068.1 567.6 1068.6 565.7 1069.1 563.8 1069.8 561.9 1070.5 560 1071.2 558.1 1072 556.3 1072.9 554.4 1073.8 552.5 1074.8 550.7 1075.9 548.8 1077 547 1078.2 545.2 1079.5 543.4 1080.8 541.6 1082.2 539.8 1083.6 538 1085.1 536.3 1086.7 534.5 1088.3 532.8 1090 531.1 1091.7 529.4 1093.5 527.7 1095.3 526 1097.2 524.3 1099.2 522.7 1101.2 521.1 1103.3 519.5 1105.4 517.9 1107.6 516.3 1109.8 514.8 1112.1 513.3 1114.5 511.8 1116.8 510.3 1119.3 508.8 1121.8 507.4 1124.3 506 1126.9 504.6 1129.5 503.2 1132.2 501.9 1134.9 500.6 1137.7 499.3 1140.5 498 1143.4 496.7 1146.3 495.5 1149.2 494.3 1152.2 493.2 1155.2 492 1158.3 490.9 1161.4 489.8 1164.5 488.7 1167.7 487.7 1170.9 486.7 1174.1 485.7 1177.4 484.8 1180.7 483.9 1184 483 1187.4 482.1 1190.8 481.3 1194.2 480.5 1197.6 479.7 1201.1 479 1204.6 478.3 1208.1 477.6 1211.6 477 1215.2 476.4 1218.8 475.8 1222.4 475.3 1226 474.7 1229.6 474.3 1233.3 473.8 1237 473.4 1240.6 473 1244.3 472.7 1248 472.4 1251.7 472.1 1255.5 471.8 1259.2 471.6 1262.9 471.4 1266.7 471.3 1270.4 471.2 1274.2 471.1 1277.9 471 1281.7 471 1285.5 471 1289.2 471.1 1293 471.2 1296.7 471.3 1300.5 471.4 1304.2 471.6 1307.9 471.8 1311.7 472.1 1315.4 472.4 1319.1 472.7 1322.8 473 1326.4 473.4 1330.1 473.8 1333.8 474.3 1337.4 474.7 1341 475.3 1344.6 475.8 1348.2 476.4 1351.8 477 1355.3 477.6 1358.8 478.3 1362.3 479 1365.8 479.7 1369.2 480.5 1372.6 481.3 1376 482.1 1379.4 483 1382.7 483.9 1386 484.8 1389.3 485.7 1392.5 486.7 1395.7 487.7 1398.9 488.7 1402 489.8 1405.1 490.9 1408.2 492 1411.2 493.2 1414.2 494.3 1417.1 495.5 1420 496.7 1422.9 498 1425.7 499.3 1428.5 500.6 1431.2 501.9 1433.9 503.2 1436.5 504.6 1439.1 506 1441.6 507.4 1444.1 508.8 1446.6 510.3 1448.9 511.8 1451.3 513.3 1453.6 514.8 1455.8 516.3 1458 517.9 1460.1 519.5 1462.2 521.1 1464.2 522.7 1466.2 524.3 1468.1 526 1469.9 527.7 1471.7 529.4 1473.4 531.1 1475.1 532.8 1476.7 534.5 1478.3 536.3 1479.8 538 1481.2 539.8 1482.6 541.6 1483.9 543.4 1485.2 545.2 1486.4 547 1487.5 548.8 1488.6 550.7 1489.6 552.5 1490.5 554.4 1491.4 556.3 1492.2 558.1 1492.9 560 1493.6 561.9 1494.3 563.8 1494.8 565.7 1495.3 567.6 1495.7 569.5 1496.1 571.4 1496.4 573.3 1496.6 575.2 1496.8 577.2 1496.9 579.1 1496.9 581 1496.9 620 1496.9 622 1496.8 624 1496.6 625.9 1496.4 627.9 1496.1 629.9 1495.7 631.9 1495.3 633.8 1494.8 635.8 1494.3 637.8 1493.6 639.7 1492.9 641.7 1492.2 643.6 1491.4 645.6 1490.5 647.5 1489.6 649.4 1488.6 651.3 1487.5 653.2 1486.4 655.1 1485.2 657 1483.9 658.9 1482.6 660.7 1481.2 662.6 1479.8 664.4 1478.3 666.2 1476.7 668 1475.1 669.8 1473.4 671.6 1471.7 673.3 1469.9 675.1 1468.1 676.8 1466.2 678.5 1464.2 680.2 1462.2 681.9 1460.1 683.5 1458 685.2 1455.8 686.8 1453.6 688.4 1451.3 689.9 1448.9 691.5 1446.6 693 1444.1 694.5 1441.6 696 1439.1 697.5 1436.5 698.9 1433.9 700.3 1431.2 701.7 1428.5 703.1 1425.7 704.4 1422.9 705.7 1420 707 1417.1 708.3 1414.2 709.5 1411.2 710.7 1408.2 711.9 1405.1 713.1 1402 714.2 1398.9 715.3 1395.7 716.3 1392.5 717.4 1389.3 718.4 1386 719.4 1382.7 720.3 1379.4 721.2 1376 722.1 1372.6 723 1369.2 723.8 1365.8 724.6 1362.3 725.3 1358.8 726.1 1355.3 726.7 1351.8 727.4 1348.2 728 1344.6 728.6 1341 729.2 1337.4 729.7 1333.8 730.2 1330.1 730.7 1326.4 731.1 1322.8 731.5 1319.1 731.9 1315.4 732.2 1311.7 732.5 1307.9 732.8 1304.2 733 1300.5 733.2 1296.7 733.3 1293 733.4 1289.2 733.5 1285.5 733.6 1281.7 733.6 1277.9 733.6 1274.2 733.5 1270.4 733.4 1266.7 733.3 1262.9 733.2 1259.2 733 1255.5 732.8 1251.7 732.5 1248 732.2 1244.3 731.9 1240.6 731.5 1237 731.1 1233.3 730.7 1229.6 730.2 1226 729.7 1222.4 729.2 1218.8 728.6 1215.2 728 1211.6 727.4 1208.1 726.7 1204.6 726.1 1201.1 725.3 1197.6 724.6 1194.2 723.8 1190.8 723 1187.4 722.1 1184 721.2 1180.7 720.3 1177.4 719.4 1174.1 718.4 1170.9 717.4 1167.7 716.3 1164.5 715.3 1161.4 714.2 1158.3 713.1 1155.2 711.9 1152.2 710.7 1149.2 709.5 1146.3 708.3 1143.4 707 1140.5 705.7 1137.7 704.4 1134.9 703.1 1132.2 701.7 1129.5 700.3 1126.9 698.9 1124.3 697.5 1121.8 696 1119.3 694.5 1116.8 693 1114.5 691.5 1112.1 689.9 1109.8 688.4 1107.6 686.8 1105.4 685.2 1103.3 683.5 1101.2 681.9 1099.2 680.2 1097.2 678.5 1095.3 676.8 1093.5 675.1 1091.7 673.3 1090 671.6 1088.3 669.8 1086.7 668 1085.1 666.2 1083.6 664.4 1082.2 662.6 1080.8 660.7 1079.5 658.9 1078.2 657 1077 655.1 1075.9 653.2 1074.8 651.3 1073.8 649.4 1072.9 647.5 1072 645.6 1071.2 643.6 1070.5 641.7 1069.8 639.7 1069.1 637.8 1068.6 635.8 1068.1 633.8 1067.7 631.9 1067.3 629.9 1067 627.9 1066.8 625.9 1066.6 624 1066.5 622Z" stroke-width="2.1" fill="#fff"/>
<ellipse cx="1281.7" cy="602" rx="212" ry="86" stroke-width="2.3"/>
<ellipse cx="1281.7" cy="597" rx="196" ry="77" stroke-width="1.9"/>
<path d="M1324.8 583.3L1329.2 586.3 1317.7 588.9 1313.3 585.9ZM1277.3 574.6L1286.1 574.6 1286.1 579.8 1277.3 579.8ZM1234.2 586.3L1238.6 583.3 1250.1 585.9 1245.7 588.9ZM1238.6 606.7L1234.2 603.7 1245.7 601.1 1250.1 604.1ZM1286.1 615.4L1277.3 615.4 1277.3 610.2 1286.1 610.2ZM1329.2 603.7L1324.8 606.7 1313.3 604.1 1317.7 601.1ZM1368.7 593.3L1368.7 596.7 1355.4 596.7 1355.4 593.3ZM1354.8 576.5L1359.3 579.5 1347.8 582.1 1343.3 579.1ZM1321.4 564.8L1329 566.5 1322.4 571 1314.7 569.2ZM1277.3 561.1L1286.1 561.1 1286.1 566.2 1277.3 566.2ZM1234.4 566.5L1242 564.8 1248.7 569.2 1241 571ZM1204.1 579.5L1208.6 576.5 1220.1 579.1 1215.6 582.1ZM1194.7 596.7L1194.7 593.3 1208 593.3 1208 596.7ZM1208.6 613.5L1204.1 610.5 1215.6 607.9 1220.1 610.9ZM1242 625.2L1234.4 623.5 1241 619 1248.7 620.8ZM1286.1 628.9L1277.3 628.9 1277.3 623.8 1286.1 623.8ZM1329 623.5L1321.4 625.2 1314.7 620.8 1322.4 619ZM1359.3 610.5L1354.8 613.5 1343.3 610.9 1347.8 607.9ZM1410.2 584.4L1411.8 587.8 1398.7 588.7 1397.2 585.3ZM1393.2 567.9L1397.6 570.9 1386.1 573.5 1381.7 570.5ZM1362.7 554.7L1369.5 556.9 1361 560.8 1354.2 558.6ZM1322.4 546.3L1330.8 547.5 1326.2 552.3 1317.9 551.2ZM1277.3 543.8L1286.1 543.8 1286.1 549 1277.3 549ZM1232.6 547.5L1241 546.3 1245.5 551.2 1237.2 552.3ZM1193.9 556.9L1200.7 554.7 1209.2 558.6 1202.4 560.8ZM1165.8 570.9L1170.2 567.9 1181.7 570.5 1177.3 573.5ZM1151.6 587.8L1153.2 584.4 1166.2 585.3 1164.7 588.7ZM1153.2 605.6L1151.6 602.2 1164.7 601.3 1166.2 604.7ZM1170.2 622.1L1165.8 619.1 1177.3 616.5 1181.7 619.5ZM1200.7 635.3L1193.9 633.1 1202.4 629.2 1209.2 631.4ZM1241 643.7L1232.6 642.5 1237.2 637.7 1245.5 638.8ZM1286.1 646.2L1277.3 646.2 1277.3 641 1286.1 641ZM1330.8 642.5L1322.4 643.7 1317.9 638.8 1326.2 637.7ZM1369.5 633.1L1362.7 635.3 1354.2 631.4 1361 629.2ZM1397.6 619.1L1393.2 622.1 1381.7 619.5 1386.1 616.5ZM1411.8 602.2L1410.2 605.6 1397.2 604.7 1398.7 601.3ZM1454 593.3L1454 596.7 1440.7 596.7 1440.7 593.3ZM1446.9 575.9L1449.2 579.3 1436.4 580.6 1434.1 577.3ZM1428.7 559.9L1433.1 562.9 1421.6 565.5 1417.2 562.5ZM1400.4 546.3L1406.6 548.7 1397.2 552.4 1391 549.9ZM1364 536L1371.7 537.7 1365 542.2 1357.4 540.4ZM1322 529.7L1330.6 530.6 1327.1 535.6 1318.6 534.7ZM1277.3 527.8L1286.1 527.8 1286.1 533 1277.3 533ZM1232.8 530.6L1241.4 529.7 1244.8 534.7 1236.3 535.6ZM1191.7 537.7L1199.4 536 1206 540.4 1198.4 542.2ZM1156.8 548.7L1163 546.3 1172.4 549.9 1166.2 552.4ZM1130.3 562.9L1134.7 559.9 1146.2 562.5 1141.8 565.5ZM1114.2 579.3L1116.5 575.9 1129.3 577.3 1127 580.6ZM1109.4 596.7L1109.4 593.3 1122.7 593.3 1122.7 596.7ZM1116.5 614.1L1114.2 610.7 1127 609.4 1129.3 612.7ZM1134.7 630.1L1130.3 627.1 1141.8 624.5 1146.2 627.5ZM1163 643.7L1156.8 641.3 1166.2 637.6 1172.4 640.1ZM1199.4 654L1191.7 652.3 1198.4 647.8 1206 649.6ZM1241.4 660.3L1232.8 659.4 1236.3 654.4 1244.8 655.3ZM1286.1 662.2L1277.3 662.2 1277.3 657 1286.1 657ZM1330.6 659.4L1322 660.3 1318.6 655.3 1327.1 654.4ZM1371.7 652.3L1364 654 1357.4 649.6 1365 647.8ZM1406.6 641.3L1400.4 643.7 1391 640.1 1397.2 637.6ZM1433.1 627.1L1428.7 630.1 1417.2 627.5 1421.6 624.5ZM1449.2 610.7L1446.9 614.1 1434.1 612.7 1436.4 609.4Z" stroke-width="1.6"/>
<path d="M1250 582 q-6 30 12 62 M1254 580 q-2 32 14 62 M1262 580 q0 30 12 60" stroke-width="1.2"/>
<ellipse cx="1282" cy="590" rx="9" ry="3.2" stroke-width="1.1"/>
<ellipse cx="1282" cy="594.5" rx="9" ry="3.2" stroke-width="1.1"/>
<ellipse cx="1282" cy="599" rx="9" ry="3.2" stroke-width="1.1"/>
<ellipse cx="1282" cy="603.5" rx="9" ry="3.2" stroke-width="1.1"/>
<ellipse cx="1282" cy="608" rx="9" ry="3.2" stroke-width="1.1"/>
<ellipse cx="1282" cy="612.5" rx="9" ry="3.2" stroke-width="1.1"/>
<path d="M1262 621L1284 612 1292 630 1296 650 1272 658 1260 640Z" stroke-width="1.4" fill="#fff"/>
<ellipse cx="1270" cy="636" rx="5" ry="8" stroke-width="1.2"/>
<path d="M1303.6 618L1303.6 661.5" stroke-width="1.9"/>
<path d="M1296.6 648.5L1303.6 661.5 1310.6 648.5" stroke-width="1.9"/>
<path d="M1433 442L1433 486" stroke-width="1.9"/>
<path d="M1426 474L1433 486 1440 474" stroke-width="1.9"/>
<circle cx="1006.2" cy="207.5" r="40" stroke-width="1.9"/>
<text x="1006.2" y="226.1" font-size="52" text-anchor="middle" fill="#000" stroke="none">2</text>
<circle cx="1511.5" cy="464.3" r="40" stroke-width="1.9"/>
<text x="1511.5" y="482.9" font-size="52" text-anchor="middle" fill="#000" stroke="none">3</text>
<path d="M2027 350L2027 412 2027 412.9 2026.9 413.8 2026.8 414.7 2026.7 415.6 2026.5 416.4 2026.3 417.3 2026 418.2 2025.7 419.1 2025.4 420 2025 420.9 2024.6 421.7 2024.1 422.6 2023.6 423.5 2023.1 424.3 2022.5 425.2 2021.9 426.1 2021.3 426.9 2020.6 427.8 2019.8 428.6 2019.1 429.4 2018.3 430.3 2017.4 431.1 2016.5 431.9 2015.6 432.7 2014.7 433.6 2013.7 434.4 2012.7 435.2 2011.6 435.9 2010.5 436.7 2009.4 437.5 2008.2 438.3 2007 439 2005.8 439.8 2004.5 440.5 2003.2 441.3 2001.9 442 2000.5 442.7 1999.1 443.4 1997.7 444.1 1996.2 444.8 1994.7 445.5 1993.2 446.1 1991.7 446.8 1990.1 447.4 1988.5 448.1 1986.8 448.7 1985.2 449.3 1983.5 449.9 1981.8 450.5 1980 451.1 1978.3 451.6 1976.5 452.2 1974.6 452.7 1972.8 453.3 1970.9 453.8 1969 454.3 1967.1 454.8 1965.2 455.3 1963.2 455.7 1961.2 456.2 1959.3 456.6 1957.2 457 1955.2 457.4 1953.1 457.8 1951.1 458.2 1949 458.6 1946.9 458.9 1944.8 459.3 1942.6 459.6 1940.5 459.9 1938.3 460.2 1936.1 460.5 1933.9 460.8 1931.7 461 1929.5 461.3 1927.3 461.5 1925.1 461.7 1922.8 461.9 1920.6 462.1 1918.3 462.2 1916.1 462.4 1913.8 462.5 1911.5 462.6 1909.2 462.7 1907 462.8 1904.7 462.9 1902.4 462.9 1900.1 463 1897.8 463 1895.5 463 1893.2 463 1890.9 463 1888.6 462.9 1886.3 462.9 1884 462.8 1881.8 462.7 1879.5 462.6 1877.2 462.5 1874.9 462.4 1872.7 462.2 1870.4 462.1 1868.2 461.9 1865.9 461.7 1863.7 461.5 1861.5 461.3 1859.3 461 1857.1 460.8 1854.9 460.5 1852.7 460.2 1850.5 459.9 1848.4 459.6 1846.2 459.3 1844.1 458.9 1842 458.6 1839.9 458.2 1837.9 457.8 1835.8 457.4 1833.8 457 1831.7 456.6 1829.8 456.2 1827.8 455.7 1825.8 455.3 1823.9 454.8 1822 454.3 1820.1 453.8 1818.2 453.3 1816.4 452.7 1814.5 452.2 1812.7 451.6 1811 451.1 1809.2 450.5 1807.5 449.9 1805.8 449.3 1804.2 448.7 1802.5 448.1 1800.9 447.4 1799.3 446.8 1797.8 446.1 1796.3 445.5 1794.8 444.8 1793.3 444.1 1791.9 443.4 1790.5 442.7 1789.1 442 1787.8 441.3 1786.5 440.5 1785.2 439.8 1784 439 1782.8 438.3 1781.6 437.5 1780.5 436.7 1779.4 435.9 1778.3 435.2 1777.3 434.4 1776.3 433.6 1775.4 432.7 1774.5 431.9 1773.6 431.1 1772.7 430.3 1771.9 429.4 1771.2 428.6 1770.4 427.8 1769.7 426.9 1769.1 426.1 1768.5 425.2 1767.9 424.3 1767.4 423.5 1766.9 422.6 1766.4 421.7 1766 420.9 1765.6 420 1765.3 419.1 1765 418.2 1764.7 417.3 1764.5 416.4 1764.3 415.6 1764.2 414.7 1764.1 413.8 1764 412.9 1764 412 1764 350 1764 349.1 1764.1 348.3 1764.2 347.4 1764.3 346.6 1764.5 345.7 1764.7 344.9 1765 344 1765.3 343.2 1765.6 342.3 1766 341.5 1766.4 340.7 1766.9 339.8 1767.4 339 1767.9 338.1 1768.5 337.3 1769.1 336.5 1769.7 335.7 1770.4 334.9 1771.2 334 1771.9 333.2 1772.7 332.4 1773.6 331.6 1774.5 330.9 1775.4 330.1 1776.3 329.3 1777.3 328.5 1778.3 327.8 1779.4 327 1780.5 326.2 1781.6 325.5 1782.8 324.8 1784 324 1785.2 323.3 1786.5 322.6 1787.8 321.9 1789.1 321.2 1790.5 320.5 1791.9 319.8 1793.3 319.2 1794.8 318.5 1796.3 317.9 1797.8 317.2 1799.3 316.6 1800.9 316 1802.5 315.4 1804.2 314.8 1805.8 314.2 1807.5 313.6 1809.2 313 1811 312.5 1812.7 311.9 1814.5 311.4 1816.4 310.9 1818.2 310.4 1820.1 309.9 1822 309.4 1823.9 308.9 1825.8 308.4 1827.8 308 1829.8 307.6 1831.7 307.1 1833.8 306.7 1835.8 306.3 1837.9 306 1839.9 305.6 1842 305.2 1844.1 304.9 1846.2 304.6 1848.4 304.3 1850.5 304 1852.7 303.7 1854.9 303.4 1857.1 303.1 1859.3 302.9 1861.5 302.7 1863.7 302.5 1865.9 302.3 1868.2 302.1 1870.4 301.9 1872.7 301.7 1874.9 301.6 1877.2 301.5 1879.5 301.4 1881.8 301.3 1884 301.2 1886.3 301.1 1888.6 301.1 1890.9 301 1893.2 301 1895.5 301 1897.8 301 1900.1 301 1902.4 301.1 1904.7 301.1 1907 301.2 1909.2 301.3 1911.5 301.4 1913.8 301.5 1916.1 301.6 1918.3 301.7 1920.6 301.9 1922.8 302.1 1925.1 302.3 1927.3 302.5 1929.5 302.7 1931.7 302.9 1933.9 303.1 1936.1 303.4 1938.3 303.7 1940.5 304 1942.6 304.3 1944.8 304.6 1946.9 304.9 1949 305.2 1951.1 305.6 1953.1 306 1955.2 306.3 1957.2 306.7 1959.3 307.1 1961.2 307.6 1963.2 308 1965.2 308.4 1967.1 308.9 1969 309.4 1970.9 309.9 1972.8 310.4 1974.6 310.9 1976.5 311.4 1978.3 311.9 1980 312.5 1981.8 313 1983.5 313.6 1985.2 314.2 1986.8 314.8 1988.5 315.4 1990.1 316 1991.7 316.6 1993.2 317.2 1994.7 317.9 1996.2 318.5 1997.7 319.2 1999.1 319.8 2000.5 320.5 2001.9 321.2 2003.2 321.9 2004.5 322.6 2005.8 323.3 2007 324 2008.2 324.8 2009.4 325.5 2010.5 326.2 2011.6 327 2012.7 327.8 2013.7 328.5 2014.7 329.3 2015.6 330.1 2016.5 330.9 2017.4 331.6 2018.3 332.4 2019.1 333.2 2019.8 334 2020.6 334.9 2021.3 335.7 2021.9 336.5 2022.5 337.3 2023.1 338.1 2023.6 339 2024.1 339.8 2024.6 340.7 2025 341.5 2025.4 342.3 2025.7 343.2 2026 344 2026.3 344.9 2026.5 345.7 2026.7 346.6 2026.8 347.4 2026.9 348.3 2027 349.1Z" stroke-width="1.9" fill="#fff"/>
<ellipse cx="1895.5" cy="412" rx="131.5" ry="51" stroke-width="2.3"/>
<path d="M1789.6 381C1798 383.8 1822.4 394.3 1840 398C1857.6 401.7 1876.7 403 1895 403C1913.3 403 1932.8 401.3 1950 398C1967.2 394.7 1990.3 385.5 1998.4 383" stroke-width="1.9"/>
<path d="M2002 414L1997.5 421.8 1988.5 421.8 1984 414 1988.5 406.2 1997.5 406.2Z" stroke-width="1.6"/>
<ellipse cx="1993" cy="414" rx="5.5" ry="5.5" stroke-width="1.4"/>
<path d="M1998.4 408.5L2086 448.8"/>
<path d="M1998.4 423L2060.7 450.6"/>
<path d="M2355.5 445L2410.5 481.8"/>
<path d="M2372 437.8L2427 478"/>
<path d="M2300.6 430.5L2300.6 419.5 2300.6 419.2 2300.6 418.8 2300.6 418.5 2300.7 418.1 2300.7 417.8 2300.8 417.5 2300.9 417.1 2300.9 416.8 2301 416.4 2301.1 416.1 2301.3 415.8 2301.4 415.4 2301.5 415.1 2301.7 414.8 2301.8 414.5 2302 414.1 2302.2 413.8 2302.3 413.5 2302.5 413.2 2302.8 412.8 2303 412.5 2303.2 412.2 2303.4 411.9 2303.7 411.6 2303.9 411.3 2304.2 411 2304.5 410.6 2304.8 410.3 2305.1 410 2305.4 409.8 2305.7 409.5 2306 409.2 2306.4 408.9 2306.7 408.6 2307.1 408.3 2307.4 408 2307.8 407.8 2308.2 407.5 2308.6 407.2 2309 407 2309.4 406.7 2309.8 406.5 2310.2 406.2 2310.6 406 2311.1 405.7 2311.5 405.5 2312 405.2 2312.4 405 2312.9 404.8 2313.4 404.6 2313.8 404.3 2314.3 404.1 2314.8 403.9 2315.3 403.7 2315.8 403.5 2316.3 403.3 2316.9 403.1 2317.4 403 2317.9 402.8 2318.5 402.6 2319 402.4 2319.5 402.3 2320.1 402.1 2320.7 402 2321.2 401.8 2321.8 401.7 2322.4 401.6 2322.9 401.4 2323.5 401.3 2324.1 401.2 2324.7 401.1 2325.3 401 2325.9 400.9 2326.5 400.8 2327.1 400.7 2327.7 400.6 2328.3 400.5 2328.9 400.4 2329.5 400.4 2330.1 400.3 2330.7 400.2 2331.3 400.2 2331.9 400.1 2332.6 400.1 2333.2 400.1 2333.8 400 2334.4 400 2335.1 400 2335.7 400 2336.3 400 2336.9 400 2337.5 400 2338.2 400 2338.8 400 2339.4 400.1 2340 400.1 2340.7 400.1 2341.3 400.2 2341.9 400.2 2342.5 400.3 2343.1 400.4 2343.7 400.4 2344.3 400.5 2344.9 400.6 2345.5 400.7 2346.1 400.8 2346.7 400.9 2347.3 401 2347.9 401.1 2348.5 401.2 2349.1 401.3 2349.7 401.4 2350.2 401.6 2350.8 401.7 2351.4 401.8 2351.9 402 2352.5 402.1 2353.1 402.3 2353.6 402.4 2354.2 402.6 2354.7 402.8 2355.2 403 2355.7 403.1 2356.3 403.3 2356.8 403.5 2357.3 403.7 2357.8 403.9 2358.3 404.1 2358.8 404.3 2359.2 404.6 2359.7 404.8 2360.2 405 2360.6 405.2 2361.1 405.5 2361.5 405.7 2362 406 2362.4 406.2 2362.8 406.5 2363.2 406.7 2363.6 407 2364 407.2 2364.4 407.5 2364.8 407.8 2365.2 408 2365.5 408.3 2365.9 408.6 2366.2 408.9 2366.6 409.2 2366.9 409.5 2367.2 409.8 2367.5 410 2367.8 410.3 2368.1 410.6 2368.4 411 2368.7 411.3 2368.9 411.6 2369.2 411.9 2369.4 412.2 2369.6 412.5 2369.8 412.8 2370.1 413.2 2370.3 413.5 2370.4 413.8 2370.6 414.1 2370.8 414.5 2370.9 414.8 2371.1 415.1 2371.2 415.4 2371.3 415.8 2371.5 416.1 2371.6 416.4 2371.7 416.8 2371.7 417.1 2371.8 417.5 2371.9 417.8 2371.9 418.1 2372 418.5 2372 418.8 2372 419.2 2372 419.5 2372 430.5 2372 430.8 2372 431.2 2372 431.5 2371.9 431.9 2371.9 432.2 2371.8 432.5 2371.7 432.9 2371.7 433.2 2371.6 433.6 2371.5 433.9 2371.3 434.2 2371.2 434.6 2371.1 434.9 2370.9 435.2 2370.8 435.5 2370.6 435.9 2370.4 436.2 2370.3 436.5 2370.1 436.8 2369.8 437.2 2369.6 437.5 2369.4 437.8 2369.2 438.1 2368.9 438.4 2368.7 438.7 2368.4 439 2368.1 439.4 2367.8 439.7 2367.5 440 2367.2 440.2 2366.9 440.5 2366.6 440.8 2366.2 441.1 2365.9 441.4 2365.5 441.7 2365.2 442 2364.8 442.2 2364.4 442.5 2364 442.8 2363.6 443 2363.2 443.3 2362.8 443.5 2362.4 443.8 2362 444 2361.5 444.3 2361.1 444.5 2360.6 444.8 2360.2 445 2359.7 445.2 2359.2 445.4 2358.8 445.7 2358.3 445.9 2357.8 446.1 2357.3 446.3 2356.8 446.5 2356.3 446.7 2355.7 446.9 2355.2 447 2354.7 447.2 2354.2 447.4 2353.6 447.6 2353.1 447.7 2352.5 447.9 2351.9 448 2351.4 448.2 2350.8 448.3 2350.2 448.4 2349.7 448.6 2349.1 448.7 2348.5 448.8 2347.9 448.9 2347.3 449 2346.7 449.1 2346.1 449.2 2345.5 449.3 2344.9 449.4 2344.3 449.5 2343.7 449.6 2343.1 449.6 2342.5 449.7 2341.9 449.8 2341.3 449.8 2340.7 449.9 2340 449.9 2339.4 449.9 2338.8 450 2338.2 450 2337.5 450 2336.9 450 2336.3 450 2335.7 450 2335.1 450 2334.4 450 2333.8 450 2333.2 449.9 2332.6 449.9 2331.9 449.9 2331.3 449.8 2330.7 449.8 2330.1 449.7 2329.5 449.6 2328.9 449.6 2328.3 449.5 2327.7 449.4 2327.1 449.3 2326.5 449.2 2325.9 449.1 2325.3 449 2324.7 448.9 2324.1 448.8 2323.5 448.7 2322.9 448.6 2322.4 448.4 2321.8 448.3 2321.2 448.2 2320.7 448 2320.1 447.9 2319.5 447.7 2319 447.6 2318.5 447.4 2317.9 447.2 2317.4 447 2316.9 446.9 2316.3 446.7 2315.8 446.5 2315.3 446.3 2314.8 446.1 2314.3 445.9 2313.8 445.7 2313.4 445.4 2312.9 445.2 2312.4 445 2312 444.8 2311.5 444.5 2311.1 444.3 2310.6 444 2310.2 443.8 2309.8 443.5 2309.4 443.3 2309 443 2308.6 442.8 2308.2 442.5 2307.8 442.2 2307.4 442 2307.1 441.7 2306.7 441.4 2306.4 441.1 2306 440.8 2305.7 440.5 2305.4 440.2 2305.1 440 2304.8 439.7 2304.5 439.4 2304.2 439 2303.9 438.7 2303.7 438.4 2303.4 438.1 2303.2 437.8 2303 437.5 2302.8 437.2 2302.5 436.8 2302.3 436.5 2302.2 436.2 2302 435.9 2301.8 435.5 2301.7 435.2 2301.5 434.9 2301.4 434.6 2301.3 434.2 2301.1 433.9 2301 433.6 2300.9 433.2 2300.9 432.9 2300.8 432.5 2300.7 432.2 2300.7 431.9 2300.6 431.5 2300.6 431.2 2300.6 430.8Z" stroke-width="1.9" fill="#fff"/>
<ellipse cx="2336.3" cy="430.5" rx="35.7" ry="19.5" stroke-width="2.1"/>
<path d="M2355.5 445L2364 434" stroke-width="1.6"/>
<path d="M1961.8 471.5C1970.3 469.4 1992.3 462.5 2013 458.7C2033.8 454.9 2064.9 450.1 2086.3 448.8C2107.7 447.4 2122.9 448.8 2141.2 450.6C2159.6 452.5 2177.9 455.2 2196.2 459.8C2214.5 464.4 2232.8 472.9 2251.1 478.1C2269.5 483.3 2287.8 488.4 2306.1 490.9C2324.4 493.5 2342.7 494.5 2361 493.5C2379.3 492.4 2402.2 487.6 2416 484.7C2429.7 481.8 2438.9 477.7 2443.4 476.3M1963.6 483.6C1971.8 481.5 1992.6 474.6 2013 470.8C2033.5 466.9 2064.9 461.9 2086.3 460.5C2107.7 459.1 2122.9 460.3 2141.2 462.3C2159.6 464.4 2177.9 467.8 2196.2 472.6C2214.5 477.4 2232.8 485.8 2251.1 490.9C2269.5 496 2287.8 500.7 2306.1 503C2324.4 505.3 2342.7 505.9 2361 504.5C2379.3 503.1 2401.3 498.2 2416 494.6C2430.6 490.9 2443.4 484.5 2448.9 482.5" stroke-width="2"/>
<path d="M1961.8 471.5C1952.8 472.5 1954.6 482.6 1963.6 483.6" stroke-width="1.9"/>
<path d="M2073.5 602.6L2073.5 555 2073.5 554.2 2073.6 553.4 2073.7 552.7 2073.8 551.9 2073.9 551.1 2074.1 550.3 2074.3 549.6 2074.6 548.8 2074.9 548 2075.2 547.2 2075.6 546.5 2076 545.7 2076.4 544.9 2076.8 544.2 2077.3 543.4 2077.8 542.7 2078.4 541.9 2079 541.2 2079.6 540.4 2080.3 539.7 2081 539 2081.7 538.3 2082.4 537.5 2083.2 536.8 2084 536.1 2084.9 535.4 2085.7 534.7 2086.6 534 2087.6 533.3 2088.5 532.6 2089.5 532 2090.5 531.3 2091.6 530.7 2092.7 530 2093.8 529.4 2094.9 528.7 2096.1 528.1 2097.3 527.5 2098.5 526.9 2099.7 526.3 2101 525.7 2102.3 525.1 2103.6 524.5 2105 523.9 2106.4 523.4 2107.8 522.8 2109.2 522.3 2110.6 521.8 2112.1 521.3 2113.6 520.8 2115.1 520.3 2116.6 519.8 2118.2 519.3 2119.8 518.8 2121.3 518.4 2123 517.9 2124.6 517.5 2126.2 517.1 2127.9 516.7 2129.6 516.3 2131.3 515.9 2133 515.5 2134.8 515.2 2136.5 514.8 2138.3 514.5 2140.1 514.2 2141.9 513.9 2143.7 513.6 2145.5 513.3 2147.3 513 2149.2 512.7 2151 512.5 2152.9 512.3 2154.8 512 2156.7 511.8 2158.6 511.6 2160.5 511.4 2162.4 511.3 2164.3 511.1 2166.2 511 2168.1 510.9 2170.1 510.7 2172 510.6 2174 510.5 2175.9 510.5 2177.9 510.4 2179.8 510.4 2181.8 510.3 2183.7 510.3 2185.7 510.3 2187.7 510.3 2189.6 510.3 2191.6 510.4 2193.5 510.4 2195.5 510.5 2197.4 510.5 2199.4 510.6 2201.3 510.7 2203.3 510.9 2205.2 511 2207.1 511.1 2209 511.3 2210.9 511.4 2212.8 511.6 2214.7 511.8 2216.6 512 2218.5 512.3 2220.4 512.5 2222.2 512.7 2224.1 513 2225.9 513.3 2227.7 513.6 2229.5 513.9 2231.3 514.2 2233.1 514.5 2234.9 514.8 2236.6 515.2 2238.4 515.5 2240.1 515.9 2241.8 516.3 2243.5 516.7 2245.2 517.1 2246.8 517.5 2248.4 517.9 2250.1 518.4 2251.6 518.8 2253.2 519.3 2254.8 519.8 2256.3 520.3 2257.8 520.8 2259.3 521.3 2260.8 521.8 2262.2 522.3 2263.6 522.8 2265 523.4 2266.4 523.9 2267.8 524.5 2269.1 525.1 2270.4 525.7 2271.7 526.3 2272.9 526.9 2274.1 527.5 2275.3 528.1 2276.5 528.7 2277.6 529.4 2278.7 530 2279.8 530.7 2280.9 531.3 2281.9 532 2282.9 532.6 2283.8 533.3 2284.8 534 2285.7 534.7 2286.5 535.4 2287.4 536.1 2288.2 536.8 2289 537.5 2289.7 538.3 2290.4 539 2291.1 539.7 2291.8 540.4 2292.4 541.2 2293 541.9 2293.6 542.7 2294.1 543.4 2294.6 544.2 2295 544.9 2295.4 545.7 2295.8 546.5 2296.2 547.2 2296.5 548 2296.8 548.8 2297.1 549.6 2297.3 550.3 2297.5 551.1 2297.6 551.9 2297.7 552.7 2297.8 553.4 2297.9 554.2 2297.9 555 2297.9 602.6 2297.9 603.4 2297.8 604.1 2297.7 604.9 2297.6 605.7 2297.5 606.4 2297.3 607.2 2297.1 608 2296.8 608.7 2296.5 609.5 2296.2 610.2 2295.8 611 2295.4 611.7 2295 612.5 2294.6 613.2 2294.1 614 2293.6 614.7 2293 615.5 2292.4 616.2 2291.8 616.9 2291.1 617.6 2290.4 618.4 2289.7 619.1 2289 619.8 2288.2 620.5 2287.4 621.2 2286.5 621.9 2285.7 622.6 2284.8 623.3 2283.8 623.9 2282.9 624.6 2281.9 625.3 2280.9 625.9 2279.8 626.6 2278.7 627.2 2277.6 627.8 2276.5 628.5 2275.3 629.1 2274.1 629.7 2272.9 630.3 2271.7 630.9 2270.4 631.5 2269.1 632 2267.8 632.6 2266.4 633.2 2265 633.7 2263.6 634.3 2262.2 634.8 2260.8 635.3 2259.3 635.8 2257.8 636.3 2256.3 636.8 2254.8 637.3 2253.2 637.7 2251.6 638.2 2250.1 638.6 2248.4 639.1 2246.8 639.5 2245.2 639.9 2243.5 640.3 2241.8 640.7 2240.1 641.1 2238.4 641.4 2236.6 641.8 2234.9 642.1 2233.1 642.5 2231.3 642.8 2229.5 643.1 2227.7 643.4 2225.9 643.7 2224.1 643.9 2222.2 644.2 2220.4 644.4 2218.5 644.7 2216.6 644.9 2214.7 645.1 2212.8 645.3 2210.9 645.5 2209 645.6 2207.1 645.8 2205.2 645.9 2203.3 646.1 2201.3 646.2 2199.4 646.3 2197.4 646.4 2195.5 646.4 2193.5 646.5 2191.6 646.5 2189.6 646.6 2187.7 646.6 2185.7 646.6 2183.7 646.6 2181.8 646.6 2179.8 646.5 2177.9 646.5 2175.9 646.4 2174 646.4 2172 646.3 2170.1 646.2 2168.1 646.1 2166.2 645.9 2164.3 645.8 2162.4 645.6 2160.5 645.5 2158.6 645.3 2156.7 645.1 2154.8 644.9 2152.9 644.7 2151 644.4 2149.2 644.2 2147.3 643.9 2145.5 643.7 2143.7 643.4 2141.9 643.1 2140.1 642.8 2138.3 642.5 2136.5 642.1 2134.8 641.8 2133 641.4 2131.3 641.1 2129.6 640.7 2127.9 640.3 2126.2 639.9 2124.6 639.5 2123 639.1 2121.3 638.6 2119.8 638.2 2118.2 637.7 2116.6 637.3 2115.1 636.8 2113.6 636.3 2112.1 635.8 2110.6 635.3 2109.2 634.8 2107.8 634.3 2106.4 633.7 2105 633.2 2103.6 632.6 2102.3 632 2101 631.5 2099.7 630.9 2098.5 630.3 2097.3 629.7 2096.1 629.1 2094.9 628.5 2093.8 627.8 2092.7 627.2 2091.6 626.6 2090.5 625.9 2089.5 625.3 2088.5 624.6 2087.6 623.9 2086.6 623.3 2085.7 622.6 2084.9 621.9 2084 621.2 2083.2 620.5 2082.4 619.8 2081.7 619.1 2081 618.4 2080.3 617.6 2079.6 616.9 2079 616.2 2078.4 615.5 2077.8 614.7 2077.3 614 2076.8 613.2 2076.4 612.5 2076 611.7 2075.6 611 2075.2 610.2 2074.9 609.5 2074.6 608.7 2074.3 608 2074.1 607.2 2073.9 606.4 2073.8 605.7 2073.7 604.9 2073.6 604.1 2073.5 603.4Z" stroke-width="1.9" fill="#fff"/>
<ellipse cx="2185.7" cy="602.6" rx="112.2" ry="44" stroke-width="2.3"/>
<path d="M2095.5 578.8C2102.9 581 2125 589.1 2140 592C2155 594.9 2170.7 596 2185.7 596C2200.7 596 2215.1 594.9 2230 592C2244.9 589.1 2267.5 581 2275 578.8" stroke-width="1.9"/>
<path d="M2247.5 535L2287.8 502"/>
<path d="M2264 547.7L2304 503.7"/>
<ellipse cx="2253" cy="542" rx="10" ry="10" stroke-width="1.6" fill="#fff"/>
<ellipse cx="2253" cy="542" rx="6.5" ry="6.5" stroke-width="1.2"/>
<path d="M2441 468L2453 463 2460 486 2448 491Z" stroke-width="1.5" fill="#fff"/>
<path d="M2444 466.8L2451 489.8" stroke-width="1.3"/>
<path d="M2447 465.5L2454 488.5" stroke-width="1.3"/>
<path d="M2450 464.2L2457 487.2" stroke-width="1.3"/>
<path d="M2453 463L2460 486" stroke-width="1.3"/>
<path d="M2439 462L2443 461 2451 493 2447 494Z" stroke-width="1.4" fill="#000"/>
<path d="M2455 474L2495 439" stroke-width="1.1"/>
<path d="M2495 434L2509 428 2513 436 2499 442Z" stroke-width="1.3"/>
<path d="M2509 428L2519 424 2523 432 2513 436Z" stroke-width="1.3"/>
<path d="M2455 474L2500 451" stroke-width="1.1"/>
<path d="M2500 446L2514 440 2518 448 2504 454Z" stroke-width="1.3"/>
<path d="M2514 440L2524 436 2528 444 2518 448Z" stroke-width="1.3"/>
<path d="M2455 474L2505 463" stroke-width="1.1"/>
<path d="M2505 458L2519 452 2523 460 2509 466Z" stroke-width="1.3"/>
<path d="M2519 452L2529 448 2533 456 2523 460Z" stroke-width="1.3"/>
<path d="M2455 474L2508 475" stroke-width="1.1"/>
<path d="M2508 470L2522 464 2526 472 2512 478Z" stroke-width="1.3"/>
<path d="M2522 464L2532 460 2536 468 2526 472Z" stroke-width="1.3"/>
<path d="M2576.8 317.4L2576.8 298 2576.8 297.2 2576.9 296.4 2576.9 295.6 2577 294.8 2577.1 294 2577.3 293.2 2577.5 292.4 2577.7 291.6 2577.9 290.8 2578.2 290 2578.5 289.2 2578.8 288.4 2579.1 287.7 2579.5 286.9 2579.9 286.1 2580.3 285.3 2580.8 284.6 2581.3 283.8 2581.8 283 2582.3 282.3 2582.9 281.5 2583.5 280.8 2584.1 280 2584.7 279.3 2585.4 278.6 2586.1 277.8 2586.8 277.1 2587.5 276.4 2588.3 275.7 2589.1 275 2589.9 274.3 2590.7 273.6 2591.6 272.9 2592.5 272.3 2593.4 271.6 2594.3 271 2595.2 270.3 2596.2 269.7 2597.2 269.1 2598.2 268.4 2599.3 267.8 2600.3 267.2 2601.4 266.6 2602.5 266 2603.6 265.5 2604.8 264.9 2605.9 264.4 2607.1 263.8 2608.3 263.3 2609.5 262.8 2610.8 262.3 2612 261.8 2613.3 261.3 2614.6 260.8 2615.9 260.3 2617.2 259.9 2618.5 259.4 2619.9 259 2621.2 258.6 2622.6 258.2 2624 257.8 2625.4 257.4 2626.8 257 2628.2 256.7 2629.7 256.3 2631.1 256 2632.6 255.7 2634.1 255.3 2635.6 255.1 2637.1 254.8 2638.6 254.5 2640.1 254.3 2641.6 254 2643.2 253.8 2644.7 253.6 2646.2 253.4 2647.8 253.2 2649.4 253 2650.9 252.8 2652.5 252.7 2654.1 252.6 2655.7 252.4 2657.2 252.3 2658.8 252.3 2660.4 252.2 2662 252.1 2663.6 252.1 2665.2 252 2666.8 252 2668.4 252 2670 252 2671.6 252 2673.2 252.1 2674.8 252.1 2676.4 252.2 2678 252.3 2679.6 252.3 2681.1 252.4 2682.7 252.6 2684.3 252.7 2685.9 252.8 2687.4 253 2689 253.2 2690.6 253.4 2692.1 253.6 2693.6 253.8 2695.2 254 2696.7 254.3 2698.2 254.5 2699.7 254.8 2701.2 255.1 2702.7 255.3 2704.2 255.7 2705.7 256 2707.1 256.3 2708.6 256.7 2710 257 2711.4 257.4 2712.8 257.8 2714.2 258.2 2715.6 258.6 2716.9 259 2718.3 259.4 2719.6 259.9 2720.9 260.3 2722.2 260.8 2723.5 261.3 2724.8 261.8 2726 262.3 2727.3 262.8 2728.5 263.3 2729.7 263.8 2730.9 264.4 2732 264.9 2733.2 265.5 2734.3 266 2735.4 266.6 2736.5 267.2 2737.5 267.8 2738.6 268.4 2739.6 269.1 2740.6 269.7 2741.6 270.3 2742.5 271 2743.4 271.6 2744.3 272.3 2745.2 272.9 2746.1 273.6 2746.9 274.3 2747.7 275 2748.5 275.7 2749.3 276.4 2750 277.1 2750.7 277.8 2751.4 278.6 2752.1 279.3 2752.7 280 2753.3 280.8 2753.9 281.5 2754.5 282.3 2755 283 2755.5 283.8 2756 284.6 2756.5 285.3 2756.9 286.1 2757.3 286.9 2757.7 287.7 2758 288.4 2758.3 289.2 2758.6 290 2758.9 290.8 2759.1 291.6 2759.3 292.4 2759.5 293.2 2759.7 294 2759.8 294.8 2759.9 295.6 2759.9 296.4 2760 297.2 2760 298 2760 317.4 2760 318.2 2759.9 319 2759.9 319.8 2759.8 320.6 2759.7 321.4 2759.5 322.2 2759.3 323 2759.1 323.8 2758.9 324.6 2758.6 325.4 2758.3 326.2 2758 327 2757.7 327.7 2757.3 328.5 2756.9 329.3 2756.5 330.1 2756 330.8 2755.5 331.6 2755 332.4 2754.5 333.1 2753.9 333.9 2753.3 334.6 2752.7 335.4 2752.1 336.1 2751.4 336.8 2750.7 337.6 2750 338.3 2749.3 339 2748.5 339.7 2747.7 340.4 2746.9 341.1 2746.1 341.8 2745.2 342.5 2744.3 343.1 2743.4 343.8 2742.5 344.4 2741.6 345.1 2740.6 345.7 2739.6 346.3 2738.6 347 2737.5 347.6 2736.5 348.2 2735.4 348.8 2734.3 349.4 2733.2 349.9 2732 350.5 2730.9 351 2729.7 351.6 2728.5 352.1 2727.3 352.6 2726 353.1 2724.8 353.6 2723.5 354.1 2722.2 354.6 2720.9 355.1 2719.6 355.5 2718.3 356 2716.9 356.4 2715.6 356.8 2714.2 357.2 2712.8 357.6 2711.4 358 2710 358.4 2708.6 358.7 2707.1 359.1 2705.7 359.4 2704.2 359.7 2702.7 360.1 2701.2 360.3 2699.7 360.6 2698.2 360.9 2696.7 361.1 2695.2 361.4 2693.6 361.6 2692.1 361.8 2690.6 362 2689 362.2 2687.4 362.4 2685.9 362.6 2684.3 362.7 2682.7 362.8 2681.1 363 2679.6 363.1 2678 363.1 2676.4 363.2 2674.8 363.3 2673.2 363.3 2671.6 363.4 2670 363.4 2668.4 363.4 2666.8 363.4 2665.2 363.4 2663.6 363.3 2662 363.3 2660.4 363.2 2658.8 363.1 2657.2 363.1 2655.7 363 2654.1 362.8 2652.5 362.7 2650.9 362.6 2649.4 362.4 2647.8 362.2 2646.2 362 2644.7 361.8 2643.2 361.6 2641.6 361.4 2640.1 361.1 2638.6 360.9 2637.1 360.6 2635.6 360.3 2634.1 360.1 2632.6 359.7 2631.1 359.4 2629.7 359.1 2628.2 358.7 2626.8 358.4 2625.4 358 2624 357.6 2622.6 357.2 2621.2 356.8 2619.9 356.4 2618.5 356 2617.2 355.5 2615.9 355.1 2614.6 354.6 2613.3 354.1 2612 353.6 2610.8 353.1 2609.5 352.6 2608.3 352.1 2607.1 351.6 2605.9 351 2604.8 350.5 2603.6 349.9 2602.5 349.4 2601.4 348.8 2600.3 348.2 2599.3 347.6 2598.2 347 2597.2 346.3 2596.2 345.7 2595.2 345.1 2594.3 344.4 2593.4 343.8 2592.5 343.1 2591.6 342.5 2590.7 341.8 2589.9 341.1 2589.1 340.4 2588.3 339.7 2587.5 339 2586.8 338.3 2586.1 337.6 2585.4 336.8 2584.7 336.1 2584.1 335.4 2583.5 334.6 2582.9 333.9 2582.3 333.1 2581.8 332.4 2581.3 331.6 2580.8 330.8 2580.3 330.1 2579.9 329.3 2579.5 328.5 2579.1 327.7 2578.8 327 2578.5 326.2 2578.2 325.4 2577.9 324.6 2577.7 323.8 2577.5 323 2577.3 322.2 2577.1 321.4 2577 320.6 2576.9 319.8 2576.9 319 2576.8 318.2Z" stroke-width="1.9" fill="#fff"/>
<ellipse cx="2668.4" cy="317.4" rx="91.6" ry="46" stroke-width="2.1"/>
<path d="M2611.6 329L2611.6 328 2611.7 327 2611.9 326 2612.2 325 2612.5 324 2612.8 323 2613.3 322 2613.8 321 2614.4 320 2615 319.1 2615.7 318.1 2616.5 317.2 2617.3 316.3 2618.2 315.4 2619.2 314.5 2620.2 313.6 2621.3 312.8 2622.4 312 2623.6 311.1 2624.9 310.4 2626.2 309.6 2627.5 308.9 2628.9 308.1 2630.4 307.4 2631.9 306.8 2633.4 306.1 2635 305.5 2636.6 305 2638.3 304.4 2640 303.9 2641.7 303.4 2643.5 302.9 2645.3 302.5 2647.1 302.1 2649 301.7 2650.8 301.4 2652.7 301.1 2654.7 300.9 2656.6 300.6 2658.5 300.4 2660.5 300.3 2662.5 300.2 2664.4 300.1 2666.4 300 2668.4 300 2670.4 300 2672.4 300.1 2674.3 300.2 2676.3 300.3 2678.3 300.4 2680.2 300.6 2682.1 300.9 2684.1 301.1 2686 301.4 2687.8 301.7 2689.7 302.1 2691.5 302.5 2693.3 302.9 2695.1 303.4 2696.8 303.9 2698.5 304.4 2700.2 305 2701.8 305.5 2703.4 306.1 2704.9 306.8 2706.4 307.4 2707.9 308.1 2709.3 308.9 2710.6 309.6 2711.9 310.4 2713.2 311.1 2714.4 312 2715.5 312.8 2716.6 313.6 2717.6 314.5 2718.6 315.4 2719.5 316.3 2720.3 317.2 2721.1 318.1 2721.8 319.1 2722.4 320 2723 321 2723.5 322 2724 323 2724.3 324 2724.6 325 2724.9 326 2725.1 327 2725.2 328 2725.2 329 2725.2 391.3 2723.3 389.9 2721.4 388.5 2719.5 387.3 2717.6 386.1 2715.7 385.1 2713.8 384.1 2711.9 383.1 2710.1 382.2 2708.2 381.4 2706.3 380.7 2704.4 379.9 2702.5 379.3 2700.6 378.6 2698.7 378.1 2696.8 377.5 2694.9 377 2693 376.6 2691.1 376.2 2689.2 375.8 2687.3 375.4 2685.4 375.1 2683.5 374.8 2681.7 374.6 2679.8 374.4 2677.9 374.2 2676 374.1 2674.1 373.9 2672.2 373.9 2670.3 373.8 2668.4 373.8 2666.5 373.8 2664.6 373.9 2662.7 373.9 2660.8 374.1 2658.9 374.2 2657 374.4 2655.1 374.6 2653.3 374.8 2651.4 375.1 2649.5 375.4 2647.6 375.8 2645.7 376.2 2643.8 376.6 2641.9 377 2640 377.5 2638.1 378.1 2636.2 378.6 2634.3 379.3 2632.4 379.9 2630.5 380.7 2628.6 381.4 2626.7 382.2 2624.9 383.1 2623 384.1 2621.1 385.1 2619.2 386.1 2617.3 387.3 2615.4 388.5 2613.5 389.9 2611.6 391.3Z" stroke-width="1.9" fill="#fff"/>
<path d="M2603.4 397L2603.4 395.9 2603.6 394.8 2603.8 393.8 2604 392.7 2604.4 391.6 2604.8 390.6 2605.3 389.5 2605.9 388.5 2606.6 387.4 2607.3 386.4 2608.1 385.4 2609 384.4 2610 383.4 2611 382.4 2612.1 381.5 2613.3 380.6 2614.5 379.7 2615.8 378.8 2617.2 377.9 2618.6 377.1 2620.1 376.3 2621.6 375.5 2623.2 374.7 2624.9 374 2626.6 373.3 2628.4 372.6 2630.2 371.9 2632.1 371.3 2634 370.7 2635.9 370.2 2637.9 369.6 2639.9 369.1 2642 368.7 2644.1 368.3 2646.2 367.9 2648.3 367.5 2650.5 367.2 2652.7 366.9 2654.9 366.7 2657.1 366.5 2659.4 366.3 2661.6 366.2 2663.9 366.1 2666.1 366 2668.4 366 2670.7 366 2672.9 366.1 2675.2 366.2 2677.4 366.3 2679.7 366.5 2681.9 366.7 2684.1 366.9 2686.3 367.2 2688.5 367.5 2690.6 367.9 2692.7 368.3 2694.8 368.7 2696.9 369.1 2698.9 369.6 2700.9 370.2 2702.8 370.7 2704.7 371.3 2706.6 371.9 2708.4 372.6 2710.2 373.3 2711.9 374 2713.6 374.7 2715.2 375.5 2716.7 376.3 2718.2 377.1 2719.6 377.9 2721 378.8 2722.3 379.7 2723.5 380.6 2724.7 381.5 2725.8 382.4 2726.8 383.4 2727.8 384.4 2728.7 385.4 2729.5 386.4 2730.2 387.4 2730.9 388.5 2731.5 389.5 2732 390.6 2732.4 391.6 2732.8 392.7 2733 393.8 2733.2 394.8 2733.4 395.9 2733.4 397 2733.4 440 2733.4 441.1 2733.2 442.2 2733 443.2 2732.8 444.3 2732.4 445.4 2732 446.4 2731.5 447.5 2730.9 448.5 2730.2 449.6 2729.5 450.6 2728.7 451.6 2727.8 452.6 2726.8 453.6 2725.8 454.6 2724.7 455.5 2723.5 456.4 2722.3 457.3 2721 458.2 2719.6 459.1 2718.2 459.9 2716.7 460.7 2715.2 461.5 2713.6 462.3 2711.9 463 2710.2 463.7 2708.4 464.4 2706.6 465.1 2704.7 465.7 2702.8 466.3 2700.9 466.8 2698.9 467.4 2696.9 467.9 2694.8 468.3 2692.7 468.7 2690.6 469.1 2688.5 469.5 2686.3 469.8 2684.1 470.1 2681.9 470.3 2679.7 470.5 2677.4 470.7 2675.2 470.8 2672.9 470.9 2670.7 471 2668.4 471 2666.1 471 2663.9 470.9 2661.6 470.8 2659.4 470.7 2657.1 470.5 2654.9 470.3 2652.7 470.1 2650.5 469.8 2648.3 469.5 2646.2 469.1 2644.1 468.7 2642 468.3 2639.9 467.9 2637.9 467.4 2635.9 466.8 2634 466.3 2632.1 465.7 2630.2 465.1 2628.4 464.4 2626.6 463.7 2624.9 463 2623.2 462.3 2621.6 461.5 2620.1 460.7 2618.6 459.9 2617.2 459.1 2615.8 458.2 2614.5 457.3 2613.3 456.4 2612.1 455.5 2611 454.6 2610 453.6 2609 452.6 2608.1 451.6 2607.3 450.6 2606.6 449.6 2605.9 448.5 2605.3 447.5 2604.8 446.4 2604.4 445.4 2604 444.3 2603.8 443.2 2603.6 442.2 2603.4 441.1 2603.4 440Z" stroke-width="1.9"/>
<path d="M2603.9 424L2606.1 421.1 2608.2 418.7 2610.3 416.6 2612.5 414.9 2614.7 413.3 2616.8 411.9 2619 410.6 2621.1 409.4 2623.2 408.3 2625.4 407.3 2627.6 406.4 2629.7 405.6 2631.8 404.8 2634 404.1 2636.2 403.4 2638.3 402.8 2640.5 402.3 2642.6 401.8 2644.8 401.3 2646.9 400.9 2649.1 400.5 2651.2 400.2 2653.3 399.9 2655.5 399.7 2657.7 399.5 2659.8 399.3 2662 399.2 2664.1 399.1 2666.2 399 2668.4 399 2670.6 399 2672.7 399.1 2674.8 399.2 2677 399.3 2679.2 399.5 2681.3 399.7 2683.5 399.9 2685.6 400.2 2687.8 400.5 2689.9 400.9 2692.1 401.3 2694.2 401.8 2696.3 402.3 2698.5 402.8 2700.7 403.4 2702.8 404.1 2705 404.8 2707.1 405.6 2709.2 406.4 2711.4 407.3 2713.6 408.3 2715.7 409.4 2717.8 410.6 2720 411.9 2722.2 413.3 2724.3 414.9 2726.5 416.6 2728.6 418.7 2730.8 421.1 2732.9 424" stroke-width="1.9"/>
<ellipse cx="0" cy="0" rx="8" ry="5.5" transform="translate(2713.7 390.3) rotate(25.00)" stroke-width="1.6"/>
<path d="M2550.1 498L2550.1 480.6 2550.1 479.5 2550.2 478.4 2550.3 477.3 2550.4 476.2 2550.6 475.1 2550.7 474.1 2551 473 2551.3 471.9 2551.6 470.8 2551.9 469.7 2552.3 468.7 2552.7 467.6 2553.1 466.5 2553.6 465.5 2554.1 464.4 2554.7 463.3 2555.3 462.3 2555.9 461.3 2556.5 460.2 2557.2 459.2 2558 458.2 2558.7 457.1 2559.5 456.1 2560.3 455.1 2561.2 454.1 2562.1 453.2 2563 452.2 2563.9 451.2 2564.9 450.3 2565.9 449.3 2567 448.4 2568.1 447.4 2569.2 446.5 2570.3 445.6 2571.5 444.7 2572.7 443.8 2573.9 442.9 2575.2 442.1 2576.5 441.2 2577.8 440.4 2579.1 439.5 2580.5 438.7 2581.9 437.9 2583.3 437.1 2584.7 436.3 2586.2 435.6 2587.7 434.8 2589.2 434.1 2590.8 433.4 2592.4 432.6 2594 432 2595.6 431.3 2597.2 430.6 2598.9 430 2600.5 429.3 2602.2 428.7 2604 428.1 2605.7 427.5 2607.5 426.9 2609.2 426.4 2611 425.8 2612.9 425.3 2614.7 424.8 2616.5 424.3 2618.4 423.9 2620.3 423.4 2622.2 423 2624.1 422.6 2626 422.2 2627.9 421.8 2629.9 421.4 2631.8 421.1 2633.8 420.7 2635.8 420.4 2637.8 420.1 2639.8 419.9 2641.8 419.6 2643.8 419.4 2645.8 419.2 2647.9 419 2649.9 418.8 2651.9 418.6 2654 418.5 2656 418.3 2658.1 418.2 2660.1 418.2 2662.2 418.1 2664.3 418 2666.3 418 2668.4 418 2670.5 418 2672.5 418 2674.6 418.1 2676.7 418.2 2678.7 418.2 2680.8 418.3 2682.8 418.5 2684.9 418.6 2686.9 418.8 2688.9 419 2691 419.2 2693 419.4 2695 419.6 2697 419.9 2699 420.1 2701 420.4 2703 420.7 2705 421.1 2706.9 421.4 2708.9 421.8 2710.8 422.2 2712.7 422.6 2714.6 423 2716.5 423.4 2718.4 423.9 2720.3 424.3 2722.1 424.8 2723.9 425.3 2725.8 425.8 2727.6 426.4 2729.3 426.9 2731.1 427.5 2732.8 428.1 2734.6 428.7 2736.3 429.3 2737.9 430 2739.6 430.6 2741.2 431.3 2742.8 432 2744.4 432.6 2746 433.4 2747.6 434.1 2749.1 434.8 2750.6 435.6 2752.1 436.3 2753.5 437.1 2754.9 437.9 2756.3 438.7 2757.7 439.5 2759 440.4 2760.3 441.2 2761.6 442.1 2762.9 442.9 2764.1 443.8 2765.3 444.7 2766.5 445.6 2767.6 446.5 2768.7 447.4 2769.8 448.4 2770.9 449.3 2771.9 450.3 2772.9 451.2 2773.8 452.2 2774.7 453.2 2775.6 454.1 2776.5 455.1 2777.3 456.1 2778.1 457.1 2778.8 458.2 2779.6 459.2 2780.3 460.2 2780.9 461.3 2781.5 462.3 2782.1 463.3 2782.7 464.4 2783.2 465.5 2783.7 466.5 2784.1 467.6 2784.5 468.7 2784.9 469.7 2785.2 470.8 2785.5 471.9 2785.8 473 2786.1 474.1 2786.2 475.1 2786.4 476.2 2786.5 477.3 2786.6 478.4 2786.7 479.5 2786.7 480.6 2786.7 498 2786.7 499.1 2786.6 500.2 2786.5 501.2 2786.4 502.3 2786.2 503.4 2786.1 504.5 2785.8 505.6 2785.5 506.6 2785.2 507.7 2784.9 508.8 2784.5 509.8 2784.1 510.9 2783.7 511.9 2783.2 513 2782.7 514 2782.1 515.1 2781.5 516.1 2780.9 517.2 2780.3 518.2 2779.6 519.2 2778.8 520.2 2778.1 521.2 2777.3 522.2 2776.5 523.2 2775.6 524.2 2774.7 525.2 2773.8 526.1 2772.9 527.1 2771.9 528.1 2770.9 529 2769.8 529.9 2768.7 530.9 2767.6 531.8 2766.5 532.7 2765.3 533.6 2764.1 534.4 2762.9 535.3 2761.6 536.2 2760.3 537 2759 537.9 2757.7 538.7 2756.3 539.5 2754.9 540.3 2753.5 541.1 2752.1 541.8 2750.6 542.6 2749.1 543.3 2747.6 544.1 2746 544.8 2744.4 545.5 2742.8 546.2 2741.2 546.9 2739.6 547.5 2737.9 548.2 2736.3 548.8 2734.6 549.4 2732.8 550 2731.1 550.6 2729.3 551.1 2727.6 551.7 2725.8 552.2 2723.9 552.7 2722.1 553.2 2720.3 553.7 2718.4 554.2 2716.5 554.6 2714.6 555.1 2712.7 555.5 2710.8 555.9 2708.9 556.3 2706.9 556.6 2705 557 2703 557.3 2701 557.6 2699 557.9 2697 558.2 2695 558.4 2693 558.6 2691 558.9 2688.9 559.1 2686.9 559.2 2684.9 559.4 2682.8 559.5 2680.8 559.7 2678.7 559.8 2676.7 559.8 2674.6 559.9 2672.5 560 2670.5 560 2668.4 560 2666.3 560 2664.3 560 2662.2 559.9 2660.1 559.8 2658.1 559.8 2656 559.7 2654 559.5 2651.9 559.4 2649.9 559.2 2647.9 559.1 2645.8 558.9 2643.8 558.6 2641.8 558.4 2639.8 558.2 2637.8 557.9 2635.8 557.6 2633.8 557.3 2631.8 557 2629.9 556.6 2627.9 556.3 2626 555.9 2624.1 555.5 2622.2 555.1 2620.3 554.6 2618.4 554.2 2616.5 553.7 2614.7 553.2 2612.9 552.7 2611 552.2 2609.2 551.7 2607.5 551.1 2605.7 550.6 2604 550 2602.2 549.4 2600.5 548.8 2598.9 548.2 2597.2 547.5 2595.6 546.9 2594 546.2 2592.4 545.5 2590.8 544.8 2589.2 544.1 2587.7 543.3 2586.2 542.6 2584.7 541.8 2583.3 541.1 2581.9 540.3 2580.5 539.5 2579.1 538.7 2577.8 537.9 2576.5 537 2575.2 536.2 2573.9 535.3 2572.7 534.4 2571.5 533.6 2570.3 532.7 2569.2 531.8 2568.1 530.9 2567 529.9 2565.9 529 2564.9 528.1 2563.9 527.1 2563 526.1 2562.1 525.2 2561.2 524.2 2560.3 523.2 2559.5 522.2 2558.7 521.2 2558 520.2 2557.2 519.2 2556.5 518.2 2555.9 517.2 2555.3 516.1 2554.7 515.1 2554.1 514 2553.6 513 2553.1 511.9 2552.7 510.9 2552.3 509.8 2551.9 508.8 2551.6 507.7 2551.3 506.6 2551 505.6 2550.7 504.5 2550.6 503.4 2550.4 502.3 2550.3 501.2 2550.2 500.2 2550.1 499.1Z" stroke-width="2.1" fill="#fff"/>
<ellipse cx="2668.4" cy="488" rx="117" ry="47" stroke-width="2.3"/>
<ellipse cx="2668.4" cy="485" rx="108.3" ry="42.3" stroke-width="1.9"/>
<path d="M2692.2 478L2694.7 479.7 2688.3 481.2 2685.8 479.5ZM2665.9 473.2L2670.9 473.2 2670.9 476.1 2665.9 476.1ZM2642.1 479.7L2644.6 478 2651 479.5 2648.5 481.2ZM2644.6 491L2642.1 489.3 2648.5 487.8 2651 489.5ZM2670.9 495.8L2665.9 495.8 2665.9 492.9 2670.9 492.9ZM2694.7 489.3L2692.2 491 2685.8 489.5 2688.3 487.8ZM2716.5 483.5L2716.5 485.5 2709.1 485.5 2709.1 483.5ZM2708.8 474.3L2711.3 476 2704.9 477.4 2702.4 475.7ZM2690.3 467.8L2694.6 468.7 2690.9 471.3 2686.6 470.3ZM2665.9 465.7L2670.9 465.7 2670.9 468.6 2665.9 468.6ZM2642.2 468.7L2646.5 467.8 2650.2 470.3 2645.9 471.3ZM2625.5 476L2628 474.3 2634.4 475.7 2631.9 477.4ZM2620.3 485.5L2620.3 483.5 2627.7 483.5 2627.7 485.5ZM2628 494.7L2625.5 493 2631.9 491.6 2634.4 493.3ZM2646.5 501.2L2642.2 500.3 2645.9 497.7 2650.2 498.7ZM2670.9 503.3L2665.9 503.3 2665.9 500.4 2670.9 500.4ZM2694.6 500.3L2690.3 501.2 2686.6 498.7 2690.9 497.7ZM2711.3 493L2708.8 494.7 2702.4 493.3 2704.9 491.6ZM2739.5 478.6L2740.4 480.5 2733 481 2732.1 479.1ZM2730 469.5L2732.5 471.2 2726.1 472.6 2723.6 471ZM2713.2 462.2L2717 463.4 2712.2 465.7 2708.4 464.4ZM2690.9 457.6L2695.6 458.2 2693 461 2688.3 460.3ZM2665.9 456.2L2670.9 456.2 2670.9 459.1 2665.9 459.1ZM2641.2 458.2L2645.9 457.6 2648.5 460.3 2643.8 461ZM2619.8 463.4L2623.6 462.2 2628.4 464.4 2624.6 465.7ZM2604.3 471.2L2606.8 469.5 2613.2 471 2610.7 472.6ZM2596.4 480.5L2597.3 478.6 2604.7 479.1 2603.8 481ZM2597.3 490.4L2596.4 488.5 2603.8 488 2604.7 489.9ZM2606.8 499.5L2604.3 497.8 2610.7 496.4 2613.2 498ZM2623.6 506.8L2619.8 505.6 2624.6 503.3 2628.4 504.6ZM2645.9 511.4L2641.2 510.8 2643.8 508 2648.5 508.7ZM2670.9 512.8L2665.9 512.8 2665.9 509.9 2670.9 509.9ZM2695.6 510.8L2690.9 511.4 2688.3 508.7 2693 508ZM2717 505.6L2713.2 506.8 2708.4 504.6 2712.2 503.3ZM2732.5 497.8L2730 499.5 2723.6 498 2726.1 496.4ZM2740.4 488.5L2739.5 490.4 2732.1 489.9 2733 488ZM2763.7 483.5L2763.7 485.5 2756.2 485.5 2756.2 483.5ZM2759.8 473.9L2761.1 475.8 2753.8 476.6 2752.5 474.7ZM2749.6 465.1L2752.1 466.8 2745.7 468.2 2743.2 466.5ZM2734 457.5L2737.5 458.9 2732.2 461 2728.7 459.6ZM2713.9 451.8L2718.2 452.8 2714.4 455.3 2710.1 454.4ZM2690.6 448.4L2695.5 448.9 2693.5 451.7 2688.7 451.2ZM2665.9 447.3L2670.9 447.3 2670.9 450.3 2665.9 450.3ZM2641.3 448.9L2646.2 448.4 2648.1 451.2 2643.3 451.7ZM2618.6 452.8L2622.9 451.8 2626.7 454.4 2622.4 455.3ZM2599.3 458.9L2602.8 457.5 2608.1 459.6 2604.6 461ZM2584.7 466.8L2587.2 465.1 2593.6 466.5 2591.1 468.2ZM2575.7 475.8L2577 473.9 2584.3 474.7 2583 476.6ZM2573.1 485.5L2573.1 483.5 2580.6 483.5 2580.6 485.5ZM2577 495.1L2575.7 493.2 2583 492.4 2584.3 494.3ZM2587.2 503.9L2584.7 502.2 2591.1 500.8 2593.6 502.5ZM2602.8 511.5L2599.3 510.1 2604.6 508 2608.1 509.4ZM2622.9 517.2L2618.6 516.2 2622.4 513.7 2626.7 514.6ZM2646.2 520.6L2641.3 520.1 2643.3 517.3 2648.1 517.8ZM2670.9 521.7L2665.9 521.7 2665.9 518.7 2670.9 518.7ZM2695.5 520.1L2690.6 520.6 2688.7 517.8 2693.5 517.3ZM2718.2 516.2L2713.9 517.2 2710.1 514.6 2714.4 513.7ZM2737.5 510.1L2734 511.5 2728.7 509.4 2732.2 508ZM2752.1 502.2L2749.6 503.9 2743.2 502.5 2745.7 500.8ZM2761.1 493.2L2759.8 495.1 2752.5 494.3 2753.8 492.4Z" stroke-width="1.9"/>
<path d="M2633 435 q8 40 22 58 M2638 432 q8 40 20 60 M2645 432 q6 40 16 58 M2652 430 q2 40 10 58" stroke-width="1.3"/>
<path d="M2657 500L2670 492 2676 510 2664 518Z" stroke-width="1.5" fill="#fff"/>
<path d="M2526 416.5L2582.6 403.5" stroke-width="1.9"/>
<path d="M2568.8 414.9L2582.6 403.5 2565.2 399.3" stroke-width="1.9"/>
<path d="M2800 413.6L2752.6 403.5" stroke-width="1.9"/>
<path d="M2769.9 399L2752.6 403.5 2766.6 414.7" stroke-width="1.9"/>
<circle cx="2671.9" cy="618.8" r="40" stroke-width="1.9"/>
<text x="2671.9" y="637.4" font-size="52" text-anchor="middle" fill="#000" stroke="none">4</text>
<path d="M3089.4 359L3089.4 307.8 3089.4 307.1 3089.5 306.3 3089.6 305.6 3089.7 304.8 3089.8 304.1 3090 303.3 3090.2 302.6 3090.5 301.8 3090.8 301.1 3091.1 300.4 3091.5 299.6 3091.8 298.9 3092.3 298.2 3092.7 297.4 3093.2 296.7 3093.7 296 3094.3 295.3 3094.9 294.6 3095.5 293.9 3096.2 293.2 3096.8 292.5 3097.6 291.8 3098.3 291.1 3099.1 290.4 3099.9 289.7 3100.7 289 3101.6 288.4 3102.5 287.7 3103.5 287.1 3104.4 286.4 3105.4 285.8 3106.4 285.1 3107.5 284.5 3108.6 283.9 3109.7 283.3 3110.8 282.6 3112 282 3113.2 281.4 3114.4 280.9 3115.6 280.3 3116.9 279.7 3118.2 279.2 3119.5 278.6 3120.9 278.1 3122.2 277.5 3123.6 277 3125 276.5 3126.5 276 3128 275.5 3129.4 275 3131 274.5 3132.5 274.1 3134 273.6 3135.6 273.2 3137.2 272.7 3138.8 272.3 3140.4 271.9 3142.1 271.5 3143.8 271.1 3145.4 270.7 3147.2 270.4 3148.9 270 3150.6 269.7 3152.4 269.3 3154.1 269 3155.9 268.7 3157.7 268.4 3159.5 268.1 3161.3 267.8 3163.2 267.6 3165 267.3 3166.9 267.1 3168.7 266.9 3170.6 266.7 3172.5 266.5 3174.4 266.3 3176.3 266.1 3178.2 265.9 3180.1 265.8 3182 265.7 3184 265.5 3185.9 265.4 3187.8 265.3 3189.8 265.2 3191.7 265.2 3193.7 265.1 3195.6 265.1 3197.6 265 3199.5 265 3201.5 265 3203.5 265 3205.4 265 3207.4 265.1 3209.3 265.1 3211.3 265.2 3213.2 265.2 3215.2 265.3 3217.1 265.4 3219 265.5 3221 265.7 3222.9 265.8 3224.8 265.9 3226.7 266.1 3228.6 266.3 3230.5 266.5 3232.4 266.7 3234.3 266.9 3236.1 267.1 3238 267.3 3239.8 267.6 3241.7 267.8 3243.5 268.1 3245.3 268.4 3247.1 268.7 3248.9 269 3250.6 269.3 3252.4 269.7 3254.1 270 3255.8 270.4 3257.6 270.7 3259.2 271.1 3260.9 271.5 3262.6 271.9 3264.2 272.3 3265.8 272.7 3267.4 273.2 3269 273.6 3270.5 274.1 3272 274.5 3273.6 275 3275 275.5 3276.5 276 3278 276.5 3279.4 277 3280.8 277.5 3282.1 278.1 3283.5 278.6 3284.8 279.2 3286.1 279.7 3287.4 280.3 3288.6 280.9 3289.8 281.4 3291 282 3292.2 282.6 3293.3 283.3 3294.4 283.9 3295.5 284.5 3296.6 285.1 3297.6 285.8 3298.6 286.4 3299.5 287.1 3300.5 287.7 3301.4 288.4 3302.3 289 3303.1 289.7 3303.9 290.4 3304.7 291.1 3305.4 291.8 3306.2 292.5 3306.8 293.2 3307.5 293.9 3308.1 294.6 3308.7 295.3 3309.3 296 3309.8 296.7 3310.3 297.4 3310.7 298.2 3311.2 298.9 3311.5 299.6 3311.9 300.4 3312.2 301.1 3312.5 301.8 3312.8 302.6 3313 303.3 3313.2 304.1 3313.3 304.8 3313.4 305.6 3313.5 306.3 3313.6 307.1 3313.6 307.8 3313.6 359 3313.6 359.8 3313.5 360.5 3313.4 361.3 3313.3 362 3313.2 362.8 3313 363.5 3312.8 364.3 3312.5 365 3312.2 365.8 3311.9 366.5 3311.5 367.3 3311.2 368 3310.7 368.7 3310.3 369.5 3309.8 370.2 3309.3 370.9 3308.7 371.7 3308.1 372.4 3307.5 373.1 3306.8 373.8 3306.2 374.5 3305.4 375.2 3304.7 375.9 3303.9 376.6 3303.1 377.3 3302.3 378 3301.4 378.7 3300.5 379.3 3299.5 380 3298.6 380.6 3297.6 381.3 3296.6 381.9 3295.5 382.6 3294.4 383.2 3293.3 383.8 3292.2 384.5 3291 385.1 3289.8 385.7 3288.6 386.2 3287.4 386.8 3286.1 387.4 3284.8 388 3283.5 388.5 3282.1 389.1 3280.8 389.6 3279.4 390.1 3278 390.7 3276.5 391.2 3275 391.7 3273.6 392.2 3272 392.7 3270.5 393.1 3269 393.6 3267.4 394 3265.8 394.5 3264.2 394.9 3262.6 395.3 3260.9 395.7 3259.2 396.1 3257.6 396.5 3255.8 396.9 3254.1 397.2 3252.4 397.6 3250.6 397.9 3248.9 398.2 3247.1 398.6 3245.3 398.9 3243.5 399.1 3241.7 399.4 3239.8 399.7 3238 399.9 3236.1 400.2 3234.3 400.4 3232.4 400.6 3230.5 400.8 3228.6 401 3226.7 401.2 3224.8 401.4 3222.9 401.5 3221 401.6 3219 401.8 3217.1 401.9 3215.2 402 3213.2 402.1 3211.3 402.1 3209.3 402.2 3207.4 402.2 3205.4 402.3 3203.5 402.3 3201.5 402.3 3199.5 402.3 3197.6 402.3 3195.6 402.2 3193.7 402.2 3191.7 402.1 3189.8 402.1 3187.8 402 3185.9 401.9 3184 401.8 3182 401.6 3180.1 401.5 3178.2 401.4 3176.3 401.2 3174.4 401 3172.5 400.8 3170.6 400.6 3168.7 400.4 3166.9 400.2 3165 399.9 3163.2 399.7 3161.3 399.4 3159.5 399.1 3157.7 398.9 3155.9 398.6 3154.1 398.2 3152.4 397.9 3150.6 397.6 3148.9 397.2 3147.2 396.9 3145.4 396.5 3143.8 396.1 3142.1 395.7 3140.4 395.3 3138.8 394.9 3137.2 394.5 3135.6 394 3134 393.6 3132.5 393.1 3131 392.7 3129.4 392.2 3128 391.7 3126.5 391.2 3125 390.7 3123.6 390.1 3122.2 389.6 3120.9 389.1 3119.5 388.5 3118.2 388 3116.9 387.4 3115.6 386.8 3114.4 386.2 3113.2 385.7 3112 385.1 3110.8 384.5 3109.7 383.8 3108.6 383.2 3107.5 382.6 3106.4 381.9 3105.4 381.3 3104.4 380.6 3103.5 380 3102.5 379.3 3101.6 378.7 3100.7 378 3099.9 377.3 3099.1 376.6 3098.3 375.9 3097.6 375.2 3096.8 374.5 3096.2 373.8 3095.5 373.1 3094.9 372.4 3094.3 371.7 3093.7 370.9 3093.2 370.2 3092.7 369.5 3092.3 368.7 3091.8 368 3091.5 367.3 3091.1 366.5 3090.8 365.8 3090.5 365 3090.2 364.3 3090 363.5 3089.8 362.8 3089.7 362 3089.6 361.3 3089.5 360.5 3089.4 359.8Z" stroke-width="1.9" fill="#fff"/>
<ellipse cx="3201.5" cy="359" rx="112.1" ry="43.3" stroke-width="2.3"/>
<path d="M3111.4 333.4C3118.7 335.7 3140 344.1 3155 347C3170 349.9 3185.7 350.6 3201.5 350.6C3217.3 350.6 3235.1 349.9 3250 347C3264.9 344.1 3284 335.7 3290.8 333.4" stroke-width="1.9"/>
<path d="M3146 364.5L3141.5 372.3 3132.5 372.3 3128 364.5 3132.5 356.7 3141.5 356.7Z" stroke-width="1.6"/>
<ellipse cx="3137" cy="364.5" rx="5.5" ry="5.5" stroke-width="1.4"/>
<path d="M3107.7 375.5L3060 419.5"/>
<path d="M3116.8 386.5L3078.4 420.2"/>
<path d="M3107.7 375.5C3108.8 374.9 3112.1 371.6 3114 372C3115.9 372.4 3118.5 375.6 3119 378C3119.5 380.4 3117.2 385.1 3116.8 386.5" stroke-width="1.9"/>
<path d="M2937.4 445L3005 489"/>
<path d="M2953.8 439.6L3010.6 476.3"/>
<path d="M2913.6 439.6C2922.1 437.2 2947.1 428.5 2964.8 425C2982.5 421.4 2998.4 418.7 3019.8 418.4C3041.1 418.1 3068.6 419 3093 423.2C3117.5 427.3 3138.8 437.2 3166.3 443.3C3193.8 449.4 3233.5 457 3257.9 459.8C3282.3 462.5 3294.5 461.3 3312.8 459.8C3331.1 458.3 3352.5 454 3367.8 450.6C3383 447.3 3398.3 441.5 3404.4 439.6M2922.7 452.5C2929.7 450 2948.7 441.5 2964.8 437.8C2981 434.1 2998.4 431.1 3019.8 430.5C3041.1 429.9 3068.6 429.9 3093 434.1C3117.5 438.4 3138.8 449.7 3166.3 456.1C3193.8 462.5 3233.5 469.9 3257.9 472.6C3282.3 475.3 3294.5 474.4 3312.8 472.6C3331.1 470.8 3352.2 465.7 3367.8 461.6C3383.3 457.5 3399.8 450.3 3406.2 448.1" stroke-width="2"/>
<path d="M3404.4 439.6C3412.4 438.6 3414.2 446.1 3406.2 448.1" stroke-width="1.9"/>
<path d="M3003.4 498L3003.4 491 3003.4 490.6 3003.4 490.2 3003.4 489.8 3003.5 489.5 3003.5 489.1 3003.6 488.7 3003.7 488.3 3003.8 487.9 3003.8 487.6 3003.9 487.2 3004.1 486.8 3004.2 486.4 3004.3 486.1 3004.5 485.7 3004.6 485.3 3004.8 484.9 3005 484.6 3005.2 484.2 3005.4 483.8 3005.6 483.5 3005.8 483.1 3006 482.8 3006.3 482.4 3006.5 482.1 3006.8 481.7 3007 481.4 3007.3 481 3007.6 480.7 3007.9 480.3 3008.2 480 3008.5 479.7 3008.9 479.3 3009.2 479 3009.6 478.7 3009.9 478.4 3010.3 478.1 3010.6 477.8 3011 477.5 3011.4 477.2 3011.8 476.9 3012.2 476.6 3012.6 476.3 3013.1 476 3013.5 475.7 3013.9 475.4 3014.4 475.2 3014.8 474.9 3015.3 474.7 3015.8 474.4 3016.3 474.1 3016.7 473.9 3017.2 473.7 3017.7 473.4 3018.2 473.2 3018.8 473 3019.3 472.8 3019.8 472.5 3020.3 472.3 3020.9 472.1 3021.4 471.9 3021.9 471.8 3022.5 471.6 3023.1 471.4 3023.6 471.2 3024.2 471.1 3024.8 470.9 3025.3 470.7 3025.9 470.6 3026.5 470.5 3027.1 470.3 3027.7 470.2 3028.3 470.1 3028.9 470 3029.5 469.9 3030.1 469.7 3030.7 469.7 3031.3 469.6 3031.9 469.5 3032.5 469.4 3033.1 469.3 3033.8 469.3 3034.4 469.2 3035 469.2 3035.6 469.1 3036.3 469.1 3036.9 469.1 3037.5 469 3038.1 469 3038.8 469 3039.4 469 3040 469 3040.7 469 3041.3 469 3041.9 469.1 3042.5 469.1 3043.2 469.1 3043.8 469.2 3044.4 469.2 3045 469.3 3045.7 469.3 3046.3 469.4 3046.9 469.5 3047.5 469.6 3048.1 469.7 3048.7 469.7 3049.3 469.9 3049.9 470 3050.5 470.1 3051.1 470.2 3051.7 470.3 3052.3 470.5 3052.9 470.6 3053.5 470.7 3054 470.9 3054.6 471.1 3055.2 471.2 3055.7 471.4 3056.3 471.6 3056.9 471.8 3057.4 471.9 3057.9 472.1 3058.5 472.3 3059 472.5 3059.5 472.8 3060 473 3060.6 473.2 3061.1 473.4 3061.6 473.7 3062.1 473.9 3062.5 474.1 3063 474.4 3063.5 474.7 3064 474.9 3064.4 475.2 3064.9 475.4 3065.3 475.7 3065.7 476 3066.2 476.3 3066.6 476.6 3067 476.9 3067.4 477.2 3067.8 477.5 3068.2 477.8 3068.5 478.1 3068.9 478.4 3069.2 478.7 3069.6 479 3069.9 479.3 3070.3 479.7 3070.6 480 3070.9 480.3 3071.2 480.7 3071.5 481 3071.8 481.4 3072 481.7 3072.3 482.1 3072.5 482.4 3072.8 482.8 3073 483.1 3073.2 483.5 3073.4 483.8 3073.6 484.2 3073.8 484.6 3074 484.9 3074.2 485.3 3074.3 485.7 3074.5 486.1 3074.6 486.4 3074.7 486.8 3074.9 487.2 3075 487.6 3075 487.9 3075.1 488.3 3075.2 488.7 3075.3 489.1 3075.3 489.5 3075.4 489.8 3075.4 490.2 3075.4 490.6 3075.4 491 3075.4 498 3075.4 498.4 3075.4 498.7 3075.4 499.1 3075.3 499.4 3075.3 499.8 3075.2 500.1 3075.1 500.5 3075 500.8 3075 501.2 3074.9 501.5 3074.7 501.9 3074.6 502.2 3074.5 502.6 3074.3 502.9 3074.2 503.3 3074 503.6 3073.8 504 3073.6 504.3 3073.4 504.6 3073.2 505 3073 505.3 3072.8 505.6 3072.5 506 3072.3 506.3 3072 506.6 3071.8 506.9 3071.5 507.3 3071.2 507.6 3070.9 507.9 3070.6 508.2 3070.3 508.5 3069.9 508.8 3069.6 509.1 3069.2 509.4 3068.9 509.7 3068.5 510 3068.2 510.3 3067.8 510.6 3067.4 510.8 3067 511.1 3066.6 511.4 3066.2 511.7 3065.7 511.9 3065.3 512.2 3064.9 512.4 3064.4 512.7 3064 512.9 3063.5 513.2 3063 513.4 3062.5 513.6 3062.1 513.9 3061.6 514.1 3061.1 514.3 3060.6 514.5 3060 514.7 3059.5 514.9 3059 515.1 3058.5 515.3 3057.9 515.5 3057.4 515.7 3056.9 515.8 3056.3 516 3055.7 516.2 3055.2 516.3 3054.6 516.5 3054 516.6 3053.5 516.8 3052.9 516.9 3052.3 517 3051.7 517.2 3051.1 517.3 3050.5 517.4 3049.9 517.5 3049.3 517.6 3048.7 517.7 3048.1 517.8 3047.5 517.9 3046.9 518 3046.3 518 3045.7 518.1 3045 518.1 3044.4 518.2 3043.8 518.2 3043.2 518.3 3042.5 518.3 3041.9 518.4 3041.3 518.4 3040.7 518.4 3040 518.4 3039.4 518.4 3038.8 518.4 3038.1 518.4 3037.5 518.4 3036.9 518.4 3036.3 518.3 3035.6 518.3 3035 518.2 3034.4 518.2 3033.8 518.1 3033.1 518.1 3032.5 518 3031.9 518 3031.3 517.9 3030.7 517.8 3030.1 517.7 3029.5 517.6 3028.9 517.5 3028.3 517.4 3027.7 517.3 3027.1 517.2 3026.5 517 3025.9 516.9 3025.3 516.8 3024.8 516.6 3024.2 516.5 3023.6 516.3 3023.1 516.2 3022.5 516 3021.9 515.8 3021.4 515.7 3020.9 515.5 3020.3 515.3 3019.8 515.1 3019.3 514.9 3018.8 514.7 3018.2 514.5 3017.7 514.3 3017.2 514.1 3016.7 513.9 3016.3 513.6 3015.8 513.4 3015.3 513.2 3014.8 512.9 3014.4 512.7 3013.9 512.4 3013.5 512.2 3013.1 511.9 3012.6 511.7 3012.2 511.4 3011.8 511.1 3011.4 510.8 3011 510.6 3010.6 510.3 3010.3 510 3009.9 509.7 3009.6 509.4 3009.2 509.1 3008.9 508.8 3008.5 508.5 3008.2 508.2 3007.9 507.9 3007.6 507.6 3007.3 507.3 3007 506.9 3006.8 506.6 3006.5 506.3 3006.3 506 3006 505.6 3005.8 505.3 3005.6 505 3005.4 504.6 3005.2 504.3 3005 504 3004.8 503.6 3004.6 503.3 3004.5 502.9 3004.3 502.6 3004.2 502.2 3004.1 501.9 3003.9 501.5 3003.8 501.2 3003.8 500.8 3003.7 500.5 3003.6 500.1 3003.5 499.8 3003.5 499.4 3003.4 499.1 3003.4 498.7 3003.4 498.4Z" stroke-width="1.9" fill="#fff"/>
<ellipse cx="3039.4" cy="498" rx="36" ry="20.4" stroke-width="2.1"/>
<path d="M3549 529.4L3549 591.6 3549 592.5 3548.9 593.4 3548.8 594.3 3548.7 595.2 3548.5 596.1 3548.3 597 3548 597.9 3547.7 598.8 3547.4 599.6 3547 600.5 3546.6 601.4 3546.1 602.3 3545.6 603.2 3545.1 604 3544.5 604.9 3543.9 605.8 3543.3 606.6 3542.6 607.5 3541.9 608.3 3541.1 609.2 3540.3 610 3539.5 610.9 3538.6 611.7 3537.7 612.5 3536.7 613.3 3535.7 614.1 3534.7 614.9 3533.7 615.7 3532.6 616.5 3531.4 617.3 3530.3 618.1 3529.1 618.8 3527.9 619.6 3526.6 620.3 3525.3 621.1 3524 621.8 3522.6 622.5 3521.2 623.2 3519.8 623.9 3518.4 624.6 3516.9 625.3 3515.4 626 3513.8 626.7 3512.2 627.3 3510.6 627.9 3509 628.6 3507.3 629.2 3505.7 629.8 3503.9 630.4 3502.2 631 3500.4 631.5 3498.7 632.1 3496.8 632.6 3495 633.2 3493.1 633.7 3491.3 634.2 3489.3 634.7 3487.4 635.2 3485.5 635.7 3483.5 636.1 3481.5 636.6 3479.5 637 3477.5 637.4 3475.4 637.8 3473.4 638.2 3471.3 638.6 3469.2 638.9 3467.1 639.3 3464.9 639.6 3462.8 639.9 3460.6 640.2 3458.5 640.5 3456.3 640.8 3454.1 641 3451.9 641.2 3449.7 641.5 3447.5 641.7 3445.2 641.9 3443 642.1 3440.7 642.2 3438.5 642.4 3436.2 642.5 3434 642.6 3431.7 642.7 3429.4 642.8 3427.1 642.9 3424.9 642.9 3422.6 643 3420.3 643 3418 643 3415.7 643 3413.4 643 3411.1 642.9 3408.9 642.9 3406.6 642.8 3404.3 642.7 3402 642.6 3399.8 642.5 3397.5 642.4 3395.3 642.2 3393 642.1 3390.8 641.9 3388.5 641.7 3386.3 641.5 3384.1 641.2 3381.9 641 3379.7 640.8 3377.5 640.5 3375.4 640.2 3373.2 639.9 3371.1 639.6 3368.9 639.3 3366.8 638.9 3364.7 638.6 3362.6 638.2 3360.6 637.8 3358.5 637.4 3356.5 637 3354.5 636.6 3352.5 636.1 3350.5 635.7 3348.6 635.2 3346.7 634.7 3344.7 634.2 3342.9 633.7 3341 633.2 3339.2 632.6 3337.3 632.1 3335.6 631.5 3333.8 631 3332.1 630.4 3330.3 629.8 3328.7 629.2 3327 628.6 3325.4 627.9 3323.8 627.3 3322.2 626.7 3320.6 626 3319.1 625.3 3317.6 624.6 3316.2 623.9 3314.8 623.2 3313.4 622.5 3312 621.8 3310.7 621.1 3309.4 620.3 3308.1 619.6 3306.9 618.8 3305.7 618.1 3304.6 617.3 3303.4 616.5 3302.3 615.7 3301.3 614.9 3300.3 614.1 3299.3 613.3 3298.3 612.5 3297.4 611.7 3296.5 610.9 3295.7 610 3294.9 609.2 3294.1 608.3 3293.4 607.5 3292.7 606.6 3292.1 605.8 3291.5 604.9 3290.9 604 3290.4 603.2 3289.9 602.3 3289.4 601.4 3289 600.5 3288.6 599.6 3288.3 598.8 3288 597.9 3287.7 597 3287.5 596.1 3287.3 595.2 3287.2 594.3 3287.1 593.4 3287 592.5 3287 591.6 3287 529.4 3287 528.6 3287.1 527.7 3287.2 526.9 3287.3 526 3287.5 525.2 3287.7 524.3 3288 523.5 3288.3 522.7 3288.6 521.8 3289 521 3289.4 520.2 3289.9 519.3 3290.4 518.5 3290.9 517.7 3291.5 516.9 3292.1 516.1 3292.7 515.2 3293.4 514.4 3294.1 513.6 3294.9 512.8 3295.7 512.1 3296.5 511.3 3297.4 510.5 3298.3 509.7 3299.3 508.9 3300.3 508.2 3301.3 507.4 3302.3 506.7 3303.4 505.9 3304.6 505.2 3305.7 504.5 3306.9 503.8 3308.1 503 3309.4 502.3 3310.7 501.6 3312 501 3313.4 500.3 3314.8 499.6 3316.2 498.9 3317.6 498.3 3319.1 497.6 3320.6 497 3322.2 496.4 3323.8 495.8 3325.4 495.2 3327 494.6 3328.7 494 3330.3 493.4 3332.1 492.9 3333.8 492.3 3335.6 491.8 3337.3 491.3 3339.2 490.7 3341 490.2 3342.9 489.8 3344.7 489.3 3346.7 488.8 3348.6 488.4 3350.5 487.9 3352.5 487.5 3354.5 487.1 3356.5 486.7 3358.5 486.3 3360.6 485.9 3362.6 485.5 3364.7 485.2 3366.8 484.8 3368.9 484.5 3371.1 484.2 3373.2 483.9 3375.4 483.6 3377.5 483.4 3379.7 483.1 3381.9 482.9 3384.1 482.6 3386.3 482.4 3388.5 482.2 3390.8 482.1 3393 481.9 3395.3 481.7 3397.5 481.6 3399.8 481.5 3402 481.4 3404.3 481.3 3406.6 481.2 3408.9 481.1 3411.1 481.1 3413.4 481 3415.7 481 3418 481 3420.3 481 3422.6 481 3424.9 481.1 3427.1 481.1 3429.4 481.2 3431.7 481.3 3434 481.4 3436.2 481.5 3438.5 481.6 3440.7 481.7 3443 481.9 3445.2 482.1 3447.5 482.2 3449.7 482.4 3451.9 482.6 3454.1 482.9 3456.3 483.1 3458.5 483.4 3460.6 483.6 3462.8 483.9 3464.9 484.2 3467.1 484.5 3469.2 484.8 3471.3 485.2 3473.4 485.5 3475.4 485.9 3477.5 486.3 3479.5 486.7 3481.5 487.1 3483.5 487.5 3485.5 487.9 3487.4 488.4 3489.3 488.8 3491.3 489.3 3493.1 489.8 3495 490.2 3496.8 490.7 3498.7 491.3 3500.4 491.8 3502.2 492.3 3503.9 492.9 3505.7 493.4 3507.3 494 3509 494.6 3510.6 495.2 3512.2 495.8 3513.8 496.4 3515.4 497 3516.9 497.6 3518.4 498.3 3519.8 498.9 3521.2 499.6 3522.6 500.3 3524 501 3525.3 501.6 3526.6 502.3 3527.9 503 3529.1 503.8 3530.3 504.5 3531.4 505.2 3532.6 505.9 3533.7 506.7 3534.7 507.4 3535.7 508.2 3536.7 508.9 3537.7 509.7 3538.6 510.5 3539.5 511.3 3540.3 512.1 3541.1 512.8 3541.9 513.6 3542.6 514.4 3543.3 515.2 3543.9 516.1 3544.5 516.9 3545.1 517.7 3545.6 518.5 3546.1 519.3 3546.6 520.2 3547 521 3547.4 521.8 3547.7 522.7 3548 523.5 3548.3 524.3 3548.5 525.2 3548.7 526 3548.8 526.9 3548.9 527.7 3549 528.6Z" stroke-width="1.9" fill="#fff"/>
<ellipse cx="3418" cy="591.6" rx="131" ry="51.4" stroke-width="2.3"/>
<path d="M3312.8 562.3C3321.5 564.9 3347.5 574.6 3365 578C3382.5 581.4 3400.5 582.5 3418 582.5C3435.5 582.5 3452.4 581.4 3470 578C3487.6 574.6 3514.5 564.9 3523.4 562.3" stroke-width="1.9"/>
<path d="M3325.6 470.8L3366 520.2"/>
<path d="M3338.5 469L3382.4 509.2"/>
<ellipse cx="3373.3" cy="513" rx="10" ry="10" stroke-width="1.6" fill="#fff"/>
<ellipse cx="3373.3" cy="513" rx="6.5" ry="6.5" stroke-width="1.2"/>
<path d="M2903 440L2915 435 2922 455 2910 460Z" stroke-width="1.5" fill="#fff"/>
<path d="M2906 438.8L2913 458.8" stroke-width="1.3"/>
<path d="M2909 437.5L2916 457.5" stroke-width="1.3"/>
<path d="M2912 436.2L2919 456.2" stroke-width="1.3"/>
<path d="M2915 435L2922 455" stroke-width="1.3"/>
<path d="M2917 432L2921 431 2928 456 2924 457Z" stroke-width="1.4" fill="#000"/>
<path d="M2908 446L2863 451" stroke-width="1.1"/>
<path d="M2863 446L2849 450 2851 458 2865 454Z" stroke-width="1.3"/>
<path d="M2849 450L2839 453 2841 461 2851 458Z" stroke-width="1.3"/>
<path d="M2908 446L2868 466" stroke-width="1.1"/>
<path d="M2868 461L2854 465 2856 473 2870 469Z" stroke-width="1.3"/>
<path d="M2854 465L2844 468 2846 476 2856 473Z" stroke-width="1.3"/>
<path d="M2908 446L2874 479" stroke-width="1.1"/>
<path d="M2874 474L2860 478 2862 486 2876 482Z" stroke-width="1.3"/>
<path d="M2860 478L2850 481 2852 489 2862 486Z" stroke-width="1.3"/>
<path d="M2908 446L2878 492" stroke-width="1.1"/>
<path d="M2878 487L2864 491 2866 499 2880 495Z" stroke-width="1.3"/>
<path d="M2864 491L2854 494 2856 502 2866 499Z" stroke-width="1.3"/>
<path d="M2951.3 1032L2951.3 986 2951.3 984.3 2951.4 982.7 2951.6 981 2951.8 979.3 2952.1 977.7 2952.5 976 2952.9 974.4 2953.3 972.7 2953.9 971.1 2954.5 969.4 2955.2 967.8 2955.9 966.2 2956.7 964.5 2957.5 962.9 2958.5 961.3 2959.4 959.7 2960.5 958.1 2961.6 956.5 2962.8 954.9 2964 953.4 2965.3 951.8 2966.6 950.3 2968 948.7 2969.5 947.2 2971 945.7 2972.6 944.2 2974.2 942.7 2975.9 941.2 2977.7 939.7 2979.5 938.3 2981.3 936.9 2983.2 935.4 2985.2 934 2987.2 932.7 2989.3 931.3 2991.4 929.9 2993.6 928.6 2995.9 927.3 2998.1 926 3000.5 924.7 3002.9 923.4 3005.3 922.2 3007.8 920.9 3010.3 919.7 3012.9 918.5 3015.5 917.4 3018.1 916.2 3020.8 915.1 3023.6 914 3026.4 912.9 3029.2 911.9 3032.1 910.8 3035 909.8 3037.9 908.8 3040.9 907.9 3044 906.9 3047 906 3050.1 905.1 3053.2 904.2 3056.4 903.4 3059.6 902.6 3062.8 901.8 3066.1 901 3069.4 900.3 3072.7 899.5 3076 898.8 3079.4 898.2 3082.8 897.5 3086.2 896.9 3089.6 896.4 3093.1 895.8 3096.5 895.3 3100 894.8 3103.6 894.3 3107.1 893.9 3110.6 893.4 3114.2 893 3117.8 892.7 3121.4 892.4 3125 892 3128.6 891.8 3132.2 891.5 3135.9 891.3 3139.5 891.1 3143.2 891 3146.8 890.8 3150.5 890.7 3154.2 890.7 3157.8 890.6 3161.5 890.6 3165.2 890.6 3168.8 890.7 3172.5 890.7 3176.2 890.8 3179.8 891 3183.5 891.1 3187.1 891.3 3190.8 891.5 3194.4 891.8 3198 892 3201.6 892.4 3205.2 892.7 3208.8 893 3212.4 893.4 3215.9 893.9 3219.4 894.3 3223 894.8 3226.5 895.3 3229.9 895.8 3233.4 896.4 3236.8 896.9 3240.2 897.5 3243.6 898.2 3247 898.8 3250.3 899.5 3253.6 900.3 3256.9 901 3260.2 901.8 3263.4 902.6 3266.6 903.4 3269.8 904.2 3272.9 905.1 3276 906 3279 906.9 3282.1 907.9 3285.1 908.8 3288 909.8 3290.9 910.8 3293.8 911.9 3296.6 912.9 3299.4 914 3302.2 915.1 3304.9 916.2 3307.5 917.4 3310.1 918.5 3312.7 919.7 3315.2 920.9 3317.7 922.2 3320.1 923.4 3322.5 924.7 3324.9 926 3327.1 927.3 3329.4 928.6 3331.6 929.9 3333.7 931.3 3335.8 932.7 3337.8 934 3339.8 935.4 3341.7 936.9 3343.5 938.3 3345.3 939.7 3347.1 941.2 3348.8 942.7 3350.4 944.2 3352 945.7 3353.5 947.2 3355 948.7 3356.4 950.3 3357.7 951.8 3359 953.4 3360.2 954.9 3361.4 956.5 3362.5 958.1 3363.6 959.7 3364.5 961.3 3365.5 962.9 3366.3 964.5 3367.1 966.2 3367.8 967.8 3368.5 969.4 3369.1 971.1 3369.7 972.7 3370.1 974.4 3370.5 976 3370.9 977.7 3371.2 979.3 3371.4 981 3371.6 982.7 3371.7 984.3 3371.7 986 3371.7 1032 3371.7 1033.7 3371.6 1035.3 3371.4 1037 3371.2 1038.7 3370.9 1040.3 3370.5 1042 3370.1 1043.6 3369.7 1045.3 3369.1 1046.9 3368.5 1048.6 3367.8 1050.2 3367.1 1051.8 3366.3 1053.5 3365.5 1055.1 3364.5 1056.7 3363.6 1058.3 3362.5 1059.9 3361.4 1061.5 3360.2 1063.1 3359 1064.6 3357.7 1066.2 3356.4 1067.7 3355 1069.3 3353.5 1070.8 3352 1072.3 3350.4 1073.8 3348.8 1075.3 3347.1 1076.8 3345.3 1078.3 3343.5 1079.7 3341.7 1081.1 3339.8 1082.6 3337.8 1084 3335.8 1085.3 3333.7 1086.7 3331.6 1088.1 3329.4 1089.4 3327.1 1090.7 3324.9 1092 3322.5 1093.3 3320.1 1094.6 3317.7 1095.8 3315.2 1097.1 3312.7 1098.3 3310.1 1099.5 3307.5 1100.6 3304.9 1101.8 3302.2 1102.9 3299.4 1104 3296.6 1105.1 3293.8 1106.1 3290.9 1107.2 3288 1108.2 3285.1 1109.2 3282.1 1110.1 3279 1111.1 3276 1112 3272.9 1112.9 3269.8 1113.8 3266.6 1114.6 3263.4 1115.4 3260.2 1116.2 3256.9 1117 3253.6 1117.7 3250.3 1118.5 3247 1119.2 3243.6 1119.8 3240.2 1120.5 3236.8 1121.1 3233.4 1121.6 3229.9 1122.2 3226.5 1122.7 3223 1123.2 3219.4 1123.7 3215.9 1124.1 3212.4 1124.6 3208.8 1125 3205.2 1125.3 3201.6 1125.6 3198 1126 3194.4 1126.2 3190.8 1126.5 3187.1 1126.7 3183.5 1126.9 3179.8 1127 3176.2 1127.2 3172.5 1127.3 3168.8 1127.3 3165.2 1127.4 3161.5 1127.4 3157.8 1127.4 3154.2 1127.3 3150.5 1127.3 3146.8 1127.2 3143.2 1127 3139.5 1126.9 3135.9 1126.7 3132.2 1126.5 3128.6 1126.2 3125 1126 3121.4 1125.6 3117.8 1125.3 3114.2 1125 3110.6 1124.6 3107.1 1124.1 3103.6 1123.7 3100 1123.2 3096.5 1122.7 3093.1 1122.2 3089.6 1121.6 3086.2 1121.1 3082.8 1120.5 3079.4 1119.8 3076 1119.2 3072.7 1118.5 3069.4 1117.7 3066.1 1117 3062.8 1116.2 3059.6 1115.4 3056.4 1114.6 3053.2 1113.8 3050.1 1112.9 3047 1112 3044 1111.1 3040.9 1110.1 3037.9 1109.2 3035 1108.2 3032.1 1107.2 3029.2 1106.1 3026.4 1105.1 3023.6 1104 3020.8 1102.9 3018.1 1101.8 3015.5 1100.6 3012.9 1099.5 3010.3 1098.3 3007.8 1097.1 3005.3 1095.8 3002.9 1094.6 3000.5 1093.3 2998.1 1092 2995.9 1090.7 2993.6 1089.4 2991.4 1088.1 2989.3 1086.7 2987.2 1085.3 2985.2 1084 2983.2 1082.6 2981.3 1081.1 2979.5 1079.7 2977.7 1078.3 2975.9 1076.8 2974.2 1075.3 2972.6 1073.8 2971 1072.3 2969.5 1070.8 2968 1069.3 2966.6 1067.7 2965.3 1066.2 2964 1064.6 2962.8 1063.1 2961.6 1061.5 2960.5 1059.9 2959.4 1058.3 2958.5 1056.7 2957.5 1055.1 2956.7 1053.5 2955.9 1051.8 2955.2 1050.2 2954.5 1048.6 2953.9 1046.9 2953.3 1045.3 2952.9 1043.6 2952.5 1042 2952.1 1040.3 2951.8 1038.7 2951.6 1037 2951.4 1035.3 2951.3 1033.7Z" stroke-width="1.9" fill="#fff"/>
<ellipse cx="3161.5" cy="1032" rx="210.2" ry="95.4" stroke-width="2.1"/>
<path d="M3030.2 1070.8L3030.3 1068.5 3030.5 1066.1 3030.9 1063.8 3031.5 1061.5 3032.2 1059.2 3033.1 1056.9 3034.1 1054.6 3035.3 1052.3 3036.6 1050.1 3038.1 1047.9 3039.8 1045.7 3041.6 1043.5 3043.5 1041.4 3045.6 1039.3 3047.8 1037.3 3050.2 1035.3 3052.6 1033.3 3055.3 1031.4 3058 1029.6 3060.9 1027.7 3063.9 1026 3067.1 1024.3 3070.3 1022.6 3073.6 1021 3077.1 1019.5 3080.7 1018 3084.3 1016.6 3088.1 1015.3 3091.9 1014 3095.8 1012.8 3099.9 1011.6 3103.9 1010.6 3108.1 1009.6 3112.3 1008.7 3116.6 1007.8 3120.9 1007.1 3125.3 1006.4 3129.7 1005.8 3134.2 1005.3 3138.7 1004.8 3143.2 1004.5 3147.8 1004.2 3152.3 1004 3156.9 1003.8 3161.5 1003.8 3166.1 1003.8 3170.7 1004 3175.2 1004.2 3179.8 1004.5 3184.3 1004.8 3188.8 1005.3 3193.3 1005.8 3197.7 1006.4 3202.1 1007.1 3206.4 1007.8 3210.7 1008.7 3214.9 1009.6 3219.1 1010.6 3223.1 1011.6 3227.2 1012.8 3231.1 1014 3234.9 1015.3 3238.7 1016.6 3242.3 1018 3245.9 1019.5 3249.4 1021 3252.7 1022.6 3255.9 1024.3 3259.1 1026 3262.1 1027.7 3265 1029.6 3267.7 1031.4 3270.4 1033.3 3272.8 1035.3 3275.2 1037.3 3277.4 1039.3 3279.5 1041.4 3281.4 1043.5 3283.2 1045.7 3284.9 1047.9 3286.4 1050.1 3287.7 1052.3 3288.9 1054.6 3289.9 1056.9 3290.8 1059.2 3291.5 1061.5 3292.1 1063.8 3292.5 1066.1 3292.7 1068.5 3292.8 1070.8 3292.8 1260 3292.7 1262.3 3292.5 1264.7 3292.1 1267 3291.5 1269.3 3290.8 1271.6 3289.9 1273.9 3288.9 1276.2 3287.7 1278.5 3286.4 1280.7 3284.9 1282.9 3283.2 1285.1 3281.4 1287.3 3279.5 1289.4 3277.4 1291.5 3275.2 1293.5 3272.8 1295.5 3270.4 1297.5 3267.7 1299.4 3265 1301.2 3262.1 1303.1 3259.1 1304.8 3255.9 1306.5 3252.7 1308.2 3249.4 1309.8 3245.9 1311.3 3242.3 1312.8 3238.7 1314.2 3234.9 1315.5 3231.1 1316.8 3227.2 1318 3223.1 1319.2 3219.1 1320.2 3214.9 1321.2 3210.7 1322.1 3206.4 1323 3202.1 1323.7 3197.7 1324.4 3193.3 1325 3188.8 1325.5 3184.3 1326 3179.8 1326.3 3175.2 1326.6 3170.7 1326.8 3166.1 1327 3161.5 1327 3156.9 1327 3152.3 1326.8 3147.8 1326.6 3143.2 1326.3 3138.7 1326 3134.2 1325.5 3129.7 1325 3125.3 1324.4 3120.9 1323.7 3116.6 1323 3112.3 1322.1 3108.1 1321.2 3103.9 1320.2 3099.9 1319.2 3095.8 1318 3091.9 1316.8 3088.1 1315.5 3084.3 1314.2 3080.7 1312.8 3077.1 1311.3 3073.6 1309.8 3070.3 1308.2 3067.1 1306.5 3063.9 1304.8 3060.9 1303.1 3058 1301.2 3055.3 1299.4 3052.6 1297.5 3050.2 1295.5 3047.8 1293.5 3045.6 1291.5 3043.5 1289.4 3041.6 1287.3 3039.8 1285.1 3038.1 1282.9 3036.6 1280.7 3035.3 1278.5 3034.1 1276.2 3033.1 1273.9 3032.2 1271.6 3031.5 1269.3 3030.9 1267 3030.5 1264.7 3030.3 1262.3 3030.2 1260Z" stroke-width="1.9" fill="#fff"/>
<path d="M2975.6 1332.3L2975.6 1268.7 2975.6 1267 2975.7 1265.3 2975.9 1263.7 2976.1 1262 2976.3 1260.3 2976.6 1258.7 2977 1257 2977.4 1255.3 2977.9 1253.7 2978.4 1252 2979 1250.4 2979.7 1248.7 2980.4 1247.1 2981.1 1245.5 2981.9 1243.9 2982.8 1242.2 2983.7 1240.6 2984.7 1239 2985.7 1237.4 2986.8 1235.9 2987.9 1234.3 2989.1 1232.7 2990.4 1231.2 2991.7 1229.7 2993 1228.1 2994.4 1226.6 2995.9 1225.1 2997.4 1223.6 2998.9 1222.2 3000.5 1220.7 3002.2 1219.3 3003.8 1217.8 3005.6 1216.4 3007.4 1215 3009.2 1213.6 3011.1 1212.3 3013 1210.9 3015 1209.6 3017 1208.3 3019.1 1207 3021.2 1205.7 3023.3 1204.5 3025.5 1203.2 3027.8 1202 3030 1200.8 3032.4 1199.6 3034.7 1198.5 3037.1 1197.4 3039.5 1196.2 3042 1195.2 3044.5 1194.1 3047 1193.1 3049.6 1192 3052.2 1191 3054.9 1190.1 3057.5 1189.1 3060.3 1188.2 3063 1187.3 3065.8 1186.4 3068.5 1185.6 3071.4 1184.7 3074.2 1183.9 3077.1 1183.2 3080 1182.4 3082.9 1181.7 3085.9 1181 3088.9 1180.3 3091.9 1179.7 3094.9 1179.1 3097.9 1178.5 3101 1177.9 3104.1 1177.4 3107.1 1176.9 3110.3 1176.4 3113.4 1176 3116.5 1175.6 3119.7 1175.2 3122.8 1174.8 3126 1174.5 3129.2 1174.2 3132.4 1173.9 3135.6 1173.6 3138.8 1173.4 3142.1 1173.2 3145.3 1173.1 3148.5 1172.9 3151.8 1172.8 3155 1172.8 3158.3 1172.7 3161.5 1172.7 3164.7 1172.7 3168 1172.8 3171.2 1172.8 3174.5 1172.9 3177.7 1173.1 3180.9 1173.2 3184.2 1173.4 3187.4 1173.6 3190.6 1173.9 3193.8 1174.2 3197 1174.5 3200.2 1174.8 3203.3 1175.2 3206.5 1175.6 3209.6 1176 3212.7 1176.4 3215.9 1176.9 3218.9 1177.4 3222 1177.9 3225.1 1178.5 3228.1 1179.1 3231.1 1179.7 3234.1 1180.3 3237.1 1181 3240.1 1181.7 3243 1182.4 3245.9 1183.2 3248.8 1183.9 3251.6 1184.7 3254.4 1185.6 3257.2 1186.4 3260 1187.3 3262.7 1188.2 3265.5 1189.1 3268.1 1190.1 3270.8 1191 3273.4 1192 3276 1193.1 3278.5 1194.1 3281 1195.2 3283.5 1196.2 3285.9 1197.4 3288.3 1198.5 3290.6 1199.6 3293 1200.8 3295.2 1202 3297.5 1203.2 3299.7 1204.5 3301.8 1205.7 3303.9 1207 3306 1208.3 3308 1209.6 3310 1210.9 3311.9 1212.3 3313.8 1213.6 3315.6 1215 3317.4 1216.4 3319.2 1217.8 3320.8 1219.3 3322.5 1220.7 3324.1 1222.2 3325.6 1223.6 3327.1 1225.1 3328.6 1226.6 3330 1228.1 3331.3 1229.7 3332.6 1231.2 3333.9 1232.7 3335.1 1234.3 3336.2 1235.9 3337.3 1237.4 3338.3 1239 3339.3 1240.6 3340.2 1242.2 3341.1 1243.9 3341.9 1245.5 3342.6 1247.1 3343.3 1248.7 3344 1250.4 3344.6 1252 3345.1 1253.7 3345.6 1255.3 3346 1257 3346.4 1258.7 3346.7 1260.3 3346.9 1262 3347.1 1263.7 3347.3 1265.3 3347.4 1267 3347.4 1268.7 3347.4 1332.3 3347.4 1334.2 3347.3 1336.1 3347.1 1338 3346.9 1339.9 3346.7 1341.8 3346.4 1343.7 3346 1345.6 3345.6 1347.5 3345.1 1349.4 3344.6 1351.3 3344 1353.2 3343.3 1355.1 3342.6 1356.9 3341.9 1358.8 3341.1 1360.6 3340.2 1362.5 3339.3 1364.3 3338.3 1366.1 3337.3 1367.9 3336.2 1369.8 3335.1 1371.5 3333.9 1373.3 3332.6 1375.1 3331.3 1376.8 3330 1378.6 3328.6 1380.3 3327.1 1382 3325.6 1383.7 3324.1 1385.4 3322.5 1387 3320.8 1388.7 3319.2 1390.3 3317.4 1391.9 3315.6 1393.5 3313.8 1395.1 3311.9 1396.7 3310 1398.2 3308 1399.7 3306 1401.2 3303.9 1402.7 3301.8 1404.1 3299.7 1405.6 3297.5 1407 3295.2 1408.4 3293 1409.7 3290.6 1411.1 3288.3 1412.4 3285.9 1413.7 3283.5 1414.9 3281 1416.2 3278.5 1417.4 3276 1418.6 3273.4 1419.8 3270.8 1420.9 3268.1 1422 3265.5 1423.1 3262.7 1424.1 3260 1425.2 3257.2 1426.2 3254.4 1427.1 3251.6 1428.1 3248.8 1429 3245.9 1429.9 3243 1430.7 3240.1 1431.5 3237.1 1432.3 3234.1 1433.1 3231.1 1433.8 3228.1 1434.5 3225.1 1435.2 3222 1435.8 3218.9 1436.4 3215.9 1437 3212.7 1437.6 3209.6 1438.1 3206.5 1438.5 3203.3 1439 3200.2 1439.4 3197 1439.8 3193.8 1440.1 3190.6 1440.5 3187.4 1440.7 3184.2 1441 3180.9 1441.2 3177.7 1441.4 3174.5 1441.5 3171.2 1441.6 3168 1441.7 3164.7 1441.8 3161.5 1441.8 3158.3 1441.8 3155 1441.7 3151.8 1441.6 3148.5 1441.5 3145.3 1441.4 3142.1 1441.2 3138.8 1441 3135.6 1440.7 3132.4 1440.5 3129.2 1440.1 3126 1439.8 3122.8 1439.4 3119.7 1439 3116.5 1438.5 3113.4 1438.1 3110.3 1437.6 3107.1 1437 3104.1 1436.4 3101 1435.8 3097.9 1435.2 3094.9 1434.5 3091.9 1433.8 3088.9 1433.1 3085.9 1432.3 3082.9 1431.5 3080 1430.7 3077.1 1429.9 3074.2 1429 3071.4 1428.1 3068.6 1427.1 3065.8 1426.2 3063 1425.2 3060.3 1424.1 3057.5 1423.1 3054.9 1422 3052.2 1420.9 3049.6 1419.8 3047 1418.6 3044.5 1417.4 3042 1416.2 3039.5 1414.9 3037.1 1413.7 3034.7 1412.4 3032.4 1411.1 3030 1409.7 3027.8 1408.4 3025.5 1407 3023.3 1405.6 3021.2 1404.1 3019.1 1402.7 3017 1401.2 3015 1399.7 3013 1398.2 3011.1 1396.7 3009.2 1395.1 3007.4 1393.5 3005.6 1391.9 3003.8 1390.3 3002.2 1388.7 3000.5 1387 2998.9 1385.4 2997.4 1383.7 2995.9 1382 2994.4 1380.3 2993 1378.6 2991.7 1376.8 2990.4 1375.1 2989.1 1373.3 2987.9 1371.5 2986.8 1369.8 2985.7 1367.9 2984.7 1366.1 2983.7 1364.3 2982.8 1362.5 2981.9 1360.6 2981.1 1358.8 2980.4 1356.9 2979.7 1355.1 2979 1353.2 2978.4 1351.3 2977.9 1349.4 2977.4 1347.5 2977 1345.6 2976.6 1343.7 2976.3 1341.8 2976.1 1339.9 2975.9 1338 2975.7 1336.1 2975.6 1334.2Z" stroke-width="2.1" fill="#fff"/>
<ellipse cx="3161.5" cy="1332.3" rx="185.9" ry="109.5" stroke-width="2.3"/>
<ellipse cx="3162.8" cy="1199.8" rx="26.5" ry="12.4" stroke-width="2.1"/>
<ellipse cx="3161" cy="1415.3" rx="26.5" ry="12.4" stroke-width="2.1"/>
<path d="M3161.3 1035.5L3161.3 1286.4M3168.4 1035.5L3168.4 1286.4" stroke-width="1.1" stroke-dasharray="4 3"/>
<rect x="3162" y="1018.5" width="9" height="14" stroke-width="1.2"/>
<path d="M3134.5 1146.8C3136.8 1153.6 3144.5 1175.3 3148.6 1187.4C3152.7 1199.5 3156.6 1211.6 3159.2 1219.2C3161.9 1226.9 3163.6 1231 3164.5 1233.4" stroke-width="1.4"/>
<path d="M3143.3 1143.3C3145.4 1150 3152.6 1171.2 3155.7 1183.9C3158.8 1196.5 3160.3 1211 3162 1219.2C3163.8 1227.5 3165.6 1231 3166.3 1233.4" stroke-width="1.4"/>
<path d="M3208.7 1159.2C3202.8 1163.9 3180.9 1178.6 3173.4 1187.4C3165.8 1196.3 3164.9 1204.5 3163.5 1212.2C3162 1219.8 3164.3 1229.8 3164.5 1233.4" stroke-width="1.4"/>
<path d="M3228.1 1162.7C3221.4 1167.4 3197.5 1182.4 3187.5 1191C3177.5 1199.5 3171.6 1206.9 3168.1 1213.9C3164.5 1221 3166.6 1230.1 3166.3 1233.4" stroke-width="1.4"/>
<path d="M3155.7 1222.8C3151.6 1225.1 3142.1 1232.2 3131 1236.9C3119.8 1241.6 3096.9 1248 3088.6 1251C3080.2 1254.1 3082.1 1254.6 3080.8 1255.3" stroke-width="1.4"/>
<path d="M3159.9 1224.5C3156.3 1228.4 3145.8 1237.2 3138 1247.5C3130.2 1257.8 3121.5 1277.8 3113.3 1286.4C3105 1294.9 3094 1297.4 3088.6 1298.7C3083.1 1300 3082.1 1294.9 3080.8 1294.1" stroke-width="1.4"/>
<path d="M3161.3 1228.1C3160.1 1231.3 3156 1242 3153.9 1247.5C3151.8 1253 3149.5 1258.7 3148.6 1260.9" stroke-width="1.4"/>
<path d="M3145.1 1291.7C3143.6 1293.7 3139.2 1300.3 3136.3 1304C3133.3 1307.7 3128.9 1312.3 3127.4 1313.9" stroke-width="1.4"/>
<path d="M3166.3 1233.4C3168.1 1236.9 3169.8 1249.3 3176.9 1254.6C3184 1259.9 3197.5 1262.1 3208.7 1265.2C3219.9 1268.2 3238.1 1271.6 3244 1272.9" stroke-width="1.4"/>
<path d="M3173.4 1388.8C3179.2 1385.3 3197.5 1375.9 3208.7 1367.6C3219.9 1359.4 3233.7 1348.7 3240.5 1339.4C3247.3 1330.1 3247.9 1316.4 3249.3 1311.8" stroke-width="1.4"/>
<path d="M3187.5 1297C3190.4 1297.8 3201.6 1299.3 3205.2 1302.3C3208.7 1305.2 3208.1 1312.6 3208.7 1314.6" stroke-width="1.4"/>
<path d="M3173.4 1388.8C3175.1 1385.9 3179 1377.1 3184 1371.2C3189 1365.3 3200.2 1356.4 3203.4 1353.5" stroke-width="1.4"/>
<path d="M3083.3 1328.8C3077.1 1329.6 3051.7 1331.1 3046.1 1334.1C3040.6 1337 3041.4 1342 3049.7 1346.4C3057.9 1350.8 3079.1 1353.5 3095.6 1360.6C3112.1 1367.6 3139.8 1384.1 3148.6 1388.8" stroke-width="1.4"/>
<path d="M3102.7 1328.8C3104.5 1331.7 3108 1340.5 3113.3 1346.4C3118.6 1352.3 3126.8 1357 3134.5 1364.1C3142.1 1371.2 3155.1 1384.7 3159.2 1388.8" stroke-width="1.4"/>
<path d="M3164.5 1335.8C3163.9 1338.2 3160.4 1344.1 3161 1350C3161.6 1355.9 3166.9 1367.6 3168.1 1371.2" stroke-width="1.4"/>
<path d="M3060.3 1450.7C3073.2 1444.5 3119.2 1420.9 3138 1413.6C3156.9 1406.2 3167.5 1407.7 3173.4 1406.5" stroke-width="1.4"/>
<path d="M3173.4 1406.5C3173.7 1411.8 3174.5 1427.7 3175.1 1438.3C3175.7 1448.9 3176.6 1464.8 3176.9 1470.1" stroke-width="1.4"/>
<path d="M3168.1 1406.5C3169.5 1411.8 3173.1 1427.7 3176.9 1438.3C3180.7 1448.9 3188.7 1464.8 3191 1470.1" stroke-width="1.4"/>
<path d="M3169.8 1406.5C3175.1 1410.6 3193.4 1423.9 3201.6 1431.2C3209.9 1438.6 3216.3 1447.4 3219.3 1450.7" stroke-width="1.4"/>
<path d="M3159.2 1408.3C3161.6 1413.3 3169.8 1428.6 3173.4 1438.3C3176.9 1448 3179.2 1461.9 3180.4 1466.6" stroke-width="1.4"/>
<rect x="3074.4" y="1254.6" width="12.4" height="17.7" stroke-width="1.3" fill="#fff"/>
<rect x="3074.4" y="1277.5" width="12.4" height="17.7" stroke-width="1.3" fill="#fff"/>
<rect x="3139.8" y="1259.9" width="12.4" height="15.9" stroke-width="1.3" fill="#fff"/>
<rect x="3244" y="1272.2" width="8.8" height="19.4" stroke-width="1.3" fill="#fff"/>
<rect x="3245.8" y="1297" width="8.8" height="15.9" stroke-width="1.3" fill="#fff"/>
<rect x="3199.9" y="1314.6" width="8.8" height="15.9" stroke-width="1.3" fill="#fff"/>
<rect x="3198.1" y="1334.1" width="10.6" height="19.4" stroke-width="1.3" fill="#fff"/>
<rect x="3083.3" y="1323.5" width="19.4" height="10.6" stroke-width="1.3" fill="#fff"/>
<rect x="3063.8" y="1327" width="18.4" height="8.8" stroke-width="1.3" fill="#fff"/>
<path d="M3132.7 1279.3L3145.1 1286.4 3139.8 1295.2 3127.4 1288.1Z" stroke-width="1.3" fill="#fff"/>
<g transform="translate(3108.7 1238.7) rotate(-20)"><rect x="-8.5" y="-8" width="17" height="16" stroke-width="1.2" fill="#fff"/><text x="0" y="5.5" font-size="15" text-anchor="middle" fill="#111" stroke="none">1</text></g>
<g transform="translate(3104.5 1259.9) rotate(-20)"><rect x="-8.5" y="-8" width="17" height="16" stroke-width="1.2" fill="#fff"/><text x="0" y="5.5" font-size="15" text-anchor="middle" fill="#111" stroke="none">1</text></g>
<g transform="translate(3142.3 1247.5) rotate(10)"><rect x="-8.5" y="-8" width="17" height="16" stroke-width="1.2" fill="#fff"/><text x="0" y="5.5" font-size="15" text-anchor="middle" fill="#111" stroke="none">5</text></g>
<g transform="translate(3122.1 1299.8) rotate(-60)"><rect x="-8.5" y="-8" width="17" height="16" stroke-width="1.2" fill="#fff"/><text x="0" y="5.5" font-size="15" text-anchor="middle" fill="#111" stroke="none">5</text></g>
<g transform="translate(3226.4 1260.9) rotate(10)"><rect x="-8.5" y="-8" width="17" height="16" stroke-width="1.2" fill="#fff"/><text x="0" y="5.5" font-size="15" text-anchor="middle" fill="#111" stroke="none">2</text></g>
<g transform="translate(3238 1325.2) rotate(10)"><rect x="-8.5" y="-8" width="17" height="16" stroke-width="1.2" fill="#fff"/><text x="0" y="5.5" font-size="15" text-anchor="middle" fill="#111" stroke="none">2</text></g>
<g transform="translate(3196.3 1288.1) rotate(0)"><rect x="-8.5" y="-8" width="17" height="16" stroke-width="1.2" fill="#fff"/><text x="0" y="5.5" font-size="15" text-anchor="middle" fill="#111" stroke="none">4</text></g>
<g transform="translate(3185.7 1354.2) rotate(-30)"><rect x="-8.5" y="-8" width="17" height="16" stroke-width="1.2" fill="#fff"/><text x="0" y="5.5" font-size="15" text-anchor="middle" fill="#111" stroke="none">4</text></g>
<g transform="translate(3100.9 1351.7) rotate(15)"><rect x="-8.5" y="-8" width="17" height="16" stroke-width="1.2" fill="#fff"/><text x="0" y="5.5" font-size="15" text-anchor="middle" fill="#111" stroke="none">3</text></g>
<g transform="translate(3122.1 1342.9) rotate(-20)"><rect x="-8.5" y="-8" width="17" height="16" stroke-width="1.2" fill="#fff"/><text x="0" y="5.5" font-size="15" text-anchor="middle" fill="#111" stroke="none">3</text></g>
<path d="M3140.5 1305.3L3150.5 1297.3 3178.5 1297.3 3188.5 1305.3 3188.5 1317.3 3178.5 1323.3 3150.5 1323.3 3140.5 1317.3Z" stroke-width="1.5" fill="#fff"/>
<path d="M3140.5 1310.3L3188.5 1310.3" stroke-width="1.2"/>
<ellipse cx="3164.5" cy="1301.3" rx="18" ry="4" stroke-width="1.2"/>
<ellipse cx="3164.5" cy="1327.3" rx="7" ry="2.2" stroke-width="1.2"/>
<ellipse cx="3164.5" cy="1331.3" rx="7" ry="2.2" stroke-width="1.2"/>
<ellipse cx="3164.5" cy="1335.3" rx="7" ry="2.2" stroke-width="1.2"/>
<ellipse cx="3164.5" cy="1339.3" rx="7" ry="2.2" stroke-width="1.2"/>
<ellipse cx="3164.5" cy="1343.3" rx="7" ry="2.2" stroke-width="1.2"/>
<path d="M3062 1258.1L3062 1272.2" stroke-width="1.2"/>
<path d="M3058 1266.2L3062 1272.2 3066 1266.2" stroke-width="1.2"/>
<path d="M3062 1304L3062 1281.1" stroke-width="1.2"/>
<path d="M3066 1287.1L3062 1281.1 3058 1287.1" stroke-width="1.2"/>
<path d="M3267 1272.2L3267 1297" stroke-width="1.2"/>
<path d="M3263 1291L3267 1297 3271 1291" stroke-width="1.2"/>
<path d="M3267 1327L3267 1302.3" stroke-width="1.2"/>
<path d="M3271 1308.3L3267 1302.3 3263 1308.3" stroke-width="1.2"/>
<path d="M3217.5 1307.6L3217.5 1321.7" stroke-width="1.2"/>
<path d="M3213.5 1315.7L3217.5 1321.7 3221.5 1315.7" stroke-width="1.2"/>
<path d="M3217.5 1351.7L3217.5 1328.8" stroke-width="1.2"/>
<path d="M3221.5 1334.8L3217.5 1328.8 3213.5 1334.8" stroke-width="1.2"/>
<path d="M3053.2 1318.2L3078 1318.2" stroke-width="1.2"/>
<path d="M3072 1322.2L3078 1318.2 3072 1314.2" stroke-width="1.2"/>
<path d="M3111.5 1318.2L3086.8 1318.2" stroke-width="1.2"/>
<path d="M3092.8 1314.2L3086.8 1318.2 3092.8 1322.2" stroke-width="1.2"/>
<path d="M3131 1266.9L3127.4 1279.3" stroke-width="1.2"/>
<path d="M3125.2 1272.4L3127.4 1279.3 3132.9 1274.6" stroke-width="1.2"/>
<path d="M3131 1291.7L3127.4 1282.8" stroke-width="1.2"/>
<path d="M3133.4 1286.9L3127.4 1282.8 3125.9 1289.9" stroke-width="1.2"/>
<circle cx="2910.8" cy="1206.9" r="40" stroke-width="1.9"/>
<text x="2910.8" y="1225.5" font-size="52" text-anchor="middle" fill="#000" stroke="none">5</text>
<path d="M2987.5 1721.3L2987.5 1681.8 2987.5 1680.3 2987.6 1678.9 2987.7 1677.4 2987.9 1676 2988.2 1674.5 2988.4 1673.1 2988.8 1671.6 2989.2 1670.2 2989.6 1668.7 2990.1 1667.3 2990.7 1665.8 2991.3 1664.4 2991.9 1663 2992.6 1661.6 2993.4 1660.1 2994.2 1658.7 2995 1657.3 2995.9 1655.9 2996.9 1654.5 2997.9 1653.2 2998.9 1651.8 3000 1650.4 3001.2 1649.1 3002.4 1647.8 3003.6 1646.4 3004.9 1645.1 3006.2 1643.8 3007.6 1642.5 3009.1 1641.2 3010.5 1640 3012.1 1638.7 3013.6 1637.4 3015.2 1636.2 3016.9 1635 3018.6 1633.8 3020.3 1632.6 3022.1 1631.4 3024 1630.3 3025.8 1629.1 3027.7 1628 3029.7 1626.9 3031.7 1625.8 3033.7 1624.7 3035.8 1623.7 3037.9 1622.6 3040 1621.6 3042.2 1620.6 3044.4 1619.6 3046.7 1618.6 3048.9 1617.7 3051.3 1616.8 3053.6 1615.8 3056 1615 3058.4 1614.1 3060.8 1613.2 3063.3 1612.4 3065.8 1611.6 3068.4 1610.8 3070.9 1610.1 3073.5 1609.3 3076.1 1608.6 3078.8 1607.9 3081.4 1607.2 3084.1 1606.6 3086.8 1605.9 3089.5 1605.3 3092.3 1604.8 3095.1 1604.2 3097.9 1603.7 3100.7 1603.1 3103.5 1602.7 3106.3 1602.2 3109.2 1601.8 3112.1 1601.3 3115 1601 3117.9 1600.6 3120.8 1600.2 3123.7 1599.9 3126.7 1599.6 3129.6 1599.4 3132.6 1599.1 3135.6 1598.9 3138.5 1598.7 3141.5 1598.6 3144.5 1598.4 3147.5 1598.3 3150.5 1598.2 3153.5 1598.2 3156.5 1598.1 3159.5 1598.1 3162.5 1598.1 3165.5 1598.2 3168.5 1598.2 3171.5 1598.3 3174.5 1598.4 3177.5 1598.6 3180.5 1598.7 3183.4 1598.9 3186.4 1599.1 3189.4 1599.4 3192.3 1599.6 3195.3 1599.9 3198.2 1600.2 3201.1 1600.6 3204 1601 3206.9 1601.3 3209.8 1601.8 3212.7 1602.2 3215.5 1602.7 3218.3 1603.1 3221.1 1603.7 3223.9 1604.2 3226.7 1604.8 3229.5 1605.3 3232.2 1605.9 3234.9 1606.6 3237.6 1607.2 3240.2 1607.9 3242.9 1608.6 3245.5 1609.3 3248.1 1610.1 3250.6 1610.8 3253.2 1611.6 3255.7 1612.4 3258.2 1613.2 3260.6 1614.1 3263 1615 3265.4 1615.8 3267.7 1616.8 3270.1 1617.7 3272.3 1618.6 3274.6 1619.6 3276.8 1620.6 3279 1621.6 3281.1 1622.6 3283.2 1623.7 3285.3 1624.7 3287.3 1625.8 3289.3 1626.9 3291.3 1628 3293.2 1629.1 3295 1630.3 3296.9 1631.4 3298.7 1632.6 3300.4 1633.8 3302.1 1635 3303.8 1636.2 3305.4 1637.4 3306.9 1638.7 3308.5 1639.9 3309.9 1641.2 3311.4 1642.5 3312.8 1643.8 3314.1 1645.1 3315.4 1646.4 3316.6 1647.8 3317.8 1649.1 3319 1650.4 3320.1 1651.8 3321.1 1653.2 3322.1 1654.5 3323.1 1655.9 3324 1657.3 3324.8 1658.7 3325.6 1660.1 3326.4 1661.6 3327.1 1663 3327.7 1664.4 3328.3 1665.8 3328.9 1667.3 3329.4 1668.7 3329.8 1670.2 3330.2 1671.6 3330.6 1673.1 3330.8 1674.5 3331.1 1676 3331.3 1677.4 3331.4 1678.9 3331.5 1680.3 3331.5 1681.8 3331.5 1721.3 3331.5 1722.8 3331.4 1724.3 3331.3 1725.8 3331.1 1727.3 3330.8 1728.8 3330.6 1730.2 3330.2 1731.7 3329.8 1733.2 3329.4 1734.7 3328.9 1736.1 3328.3 1737.6 3327.7 1739.1 3327.1 1740.5 3326.4 1742 3325.6 1743.4 3324.8 1744.9 3324 1746.3 3323.1 1747.7 3322.1 1749.1 3321.1 1750.5 3320.1 1751.9 3319 1753.3 3317.8 1754.7 3316.6 1756.1 3315.4 1757.4 3314.1 1758.8 3312.8 1760.1 3311.4 1761.4 3309.9 1762.8 3308.5 1764 3306.9 1765.3 3305.4 1766.6 3303.8 1767.9 3302.1 1769.1 3300.4 1770.3 3298.7 1771.6 3296.9 1772.8 3295 1773.9 3293.2 1775.1 3291.3 1776.3 3289.3 1777.4 3287.3 1778.5 3285.3 1779.6 3283.2 1780.7 3281.1 1781.8 3279 1782.8 3276.8 1783.8 3274.6 1784.8 3272.3 1785.8 3270.1 1786.8 3267.7 1787.7 3265.4 1788.7 3263 1789.6 3260.6 1790.5 3258.2 1791.3 3255.7 1792.2 3253.2 1793 3250.6 1793.8 3248.1 1794.6 3245.5 1795.3 3242.9 1796.1 3240.2 1796.8 3237.6 1797.5 3234.9 1798.1 3232.2 1798.8 3229.5 1799.4 3226.7 1800 3223.9 1800.6 3221.1 1801.1 3218.3 1801.6 3215.5 1802.1 3212.7 1802.6 3209.8 1803.1 3206.9 1803.5 3204 1803.9 3201.1 1804.3 3198.2 1804.6 3195.3 1804.9 3192.3 1805.2 3189.4 1805.5 3186.4 1805.7 3183.4 1806 3180.5 1806.2 3177.5 1806.3 3174.5 1806.5 3171.5 1806.6 3168.5 1806.7 3165.5 1806.7 3162.5 1806.8 3159.5 1806.8 3156.5 1806.8 3153.5 1806.7 3150.5 1806.7 3147.5 1806.6 3144.5 1806.5 3141.5 1806.3 3138.5 1806.2 3135.6 1806 3132.6 1805.7 3129.6 1805.5 3126.7 1805.2 3123.7 1804.9 3120.8 1804.6 3117.9 1804.3 3115 1803.9 3112.1 1803.5 3109.2 1803.1 3106.3 1802.6 3103.5 1802.1 3100.7 1801.6 3097.9 1801.1 3095.1 1800.6 3092.3 1800 3089.5 1799.4 3086.8 1798.8 3084.1 1798.1 3081.4 1797.5 3078.8 1796.8 3076.1 1796.1 3073.5 1795.3 3070.9 1794.6 3068.4 1793.8 3065.8 1793 3063.3 1792.2 3060.8 1791.3 3058.4 1790.5 3056 1789.6 3053.6 1788.7 3051.3 1787.7 3048.9 1786.8 3046.7 1785.8 3044.4 1784.8 3042.2 1783.8 3040 1782.8 3037.9 1781.8 3035.8 1780.7 3033.7 1779.6 3031.7 1778.5 3029.7 1777.4 3027.7 1776.3 3025.8 1775.1 3024 1773.9 3022.1 1772.8 3020.3 1771.6 3018.6 1770.3 3016.9 1769.1 3015.2 1767.9 3013.6 1766.6 3012.1 1765.3 3010.5 1764 3009.1 1762.8 3007.6 1761.4 3006.2 1760.1 3004.9 1758.8 3003.6 1757.4 3002.4 1756.1 3001.2 1754.7 3000 1753.3 2998.9 1751.9 2997.9 1750.5 2996.9 1749.1 2995.9 1747.7 2995 1746.3 2994.2 1744.9 2993.4 1743.4 2992.6 1742 2991.9 1740.5 2991.3 1739.1 2990.7 1737.6 2990.1 1736.1 2989.6 1734.7 2989.2 1733.2 2988.8 1731.7 2988.4 1730.2 2988.2 1728.8 2987.9 1727.3 2987.7 1725.8 2987.6 1724.3 2987.5 1722.8Z" stroke-width="1.9" fill="#fff"/>
<ellipse cx="3159.5" cy="1721.3" rx="172" ry="85.5" stroke-width="2.1"/>
<path d="M3052.6 1744L3052.7 1742.1 3052.9 1740.2 3053.2 1738.3 3053.6 1736.4 3054.2 1734.5 3054.9 1732.6 3055.8 1730.8 3056.7 1728.9 3057.8 1727.1 3059 1725.3 3060.4 1723.5 3061.8 1721.8 3063.4 1720 3065.1 1718.3 3066.9 1716.7 3068.8 1715 3070.9 1713.4 3073 1711.8 3075.3 1710.3 3077.6 1708.8 3080.1 1707.4 3082.6 1706 3085.2 1704.7 3088 1703.3 3090.8 1702.1 3093.7 1700.9 3096.7 1699.7 3099.7 1698.7 3102.9 1697.6 3106 1696.6 3109.3 1695.7 3112.6 1694.8 3116 1694 3119.5 1693.3 3122.9 1692.6 3126.5 1692 3130 1691.4 3133.6 1690.9 3137.3 1690.5 3140.9 1690.1 3144.6 1689.8 3148.3 1689.6 3152 1689.4 3155.8 1689.3 3159.5 1689.3 3163.2 1689.3 3167 1689.4 3170.7 1689.6 3174.4 1689.8 3178.1 1690.1 3181.7 1690.5 3185.4 1690.9 3189 1691.4 3192.5 1692 3196.1 1692.6 3199.5 1693.3 3203 1694 3206.4 1694.8 3209.7 1695.7 3212.9 1696.6 3216.1 1697.6 3219.3 1698.7 3222.3 1699.7 3225.3 1700.9 3228.2 1702.1 3231 1703.3 3233.8 1704.7 3236.4 1706 3238.9 1707.4 3241.4 1708.8 3243.7 1710.3 3246 1711.8 3248.1 1713.4 3250.2 1715 3252.1 1716.7 3253.9 1718.3 3255.6 1720 3257.2 1721.8 3258.6 1723.5 3260 1725.3 3261.2 1727.1 3262.3 1728.9 3263.2 1730.8 3264.1 1732.6 3264.8 1734.5 3265.4 1736.4 3265.8 1738.3 3266.1 1740.2 3266.3 1742.1 3266.4 1744 3266.4 1858.9 3262.8 1856.4 3259.3 1854.1 3255.7 1852 3252.1 1850 3248.6 1848.2 3245 1846.5 3241.5 1844.8 3237.9 1843.3 3234.3 1841.9 3230.8 1840.6 3227.2 1839.4 3223.6 1838.2 3220.1 1837.1 3216.5 1836.1 3212.9 1835.2 3209.4 1834.4 3205.8 1833.6 3202.3 1832.8 3198.7 1832.2 3195.1 1831.6 3191.6 1831.1 3188 1830.6 3184.4 1830.2 3180.9 1829.8 3177.3 1829.5 3173.8 1829.2 3170.2 1829 3166.6 1828.9 3163.1 1828.8 3159.5 1828.8 3155.9 1828.8 3152.4 1828.9 3148.8 1829 3145.2 1829.2 3141.7 1829.5 3138.1 1829.8 3134.6 1830.2 3131 1830.6 3127.4 1831.1 3123.9 1831.6 3120.3 1832.2 3116.7 1832.8 3113.2 1833.6 3109.6 1834.4 3106.1 1835.2 3102.5 1836.1 3098.9 1837.1 3095.4 1838.2 3091.8 1839.4 3088.2 1840.6 3084.7 1841.9 3081.1 1843.3 3077.5 1844.8 3074 1846.5 3070.4 1848.2 3066.9 1850 3063.3 1852 3059.7 1854.1 3056.2 1856.4 3052.6 1858.9Z" stroke-width="1.9" fill="#fff"/>
<path d="M3036.4 1870.2L3036.5 1868.2 3036.7 1866.2 3037.1 1864.2 3037.6 1862.2 3038.3 1860.2 3039.1 1858.2 3040.1 1856.3 3041.2 1854.3 3042.4 1852.4 3043.8 1850.5 3045.4 1848.6 3047 1846.8 3048.9 1844.9 3050.8 1843.2 3052.9 1841.4 3055.1 1839.7 3057.4 1838 3059.9 1836.3 3062.5 1834.7 3065.2 1833.2 3068 1831.7 3070.9 1830.2 3074 1828.8 3077.1 1827.4 3080.4 1826.1 3083.7 1824.8 3087.1 1823.6 3090.7 1822.4 3094.3 1821.4 3097.9 1820.3 3101.7 1819.3 3105.5 1818.4 3109.4 1817.6 3113.4 1816.8 3117.4 1816.1 3121.5 1815.4 3125.6 1814.8 3129.7 1814.3 3133.9 1813.9 3138.1 1813.5 3142.4 1813.2 3146.6 1812.9 3150.9 1812.7 3155.2 1812.6 3159.5 1812.6 3163.8 1812.6 3168.1 1812.7 3172.4 1812.9 3176.6 1813.2 3180.9 1813.5 3185.1 1813.9 3189.3 1814.3 3193.4 1814.8 3197.5 1815.4 3201.6 1816.1 3205.6 1816.8 3209.6 1817.6 3213.5 1818.4 3217.3 1819.3 3221 1820.3 3224.7 1821.4 3228.3 1822.4 3231.9 1823.6 3235.3 1824.8 3238.6 1826.1 3241.9 1827.4 3245 1828.8 3248.1 1830.2 3251 1831.7 3253.8 1833.2 3256.5 1834.7 3259.1 1836.3 3261.6 1838 3263.9 1839.7 3266.1 1841.4 3268.2 1843.2 3270.1 1844.9 3272 1846.8 3273.6 1848.6 3275.2 1850.5 3276.6 1852.4 3277.8 1854.3 3278.9 1856.3 3279.9 1858.2 3280.7 1860.2 3281.4 1862.2 3281.9 1864.2 3282.3 1866.2 3282.5 1868.2 3282.6 1870.2 3282.6 1930 3282.5 1932 3282.3 1934 3281.9 1936 3281.4 1938 3280.7 1940 3279.9 1942 3278.9 1943.9 3277.8 1945.9 3276.6 1947.8 3275.2 1949.7 3273.6 1951.6 3272 1953.4 3270.1 1955.3 3268.2 1957 3266.1 1958.8 3263.9 1960.5 3261.6 1962.2 3259.1 1963.9 3256.5 1965.5 3253.8 1967 3251 1968.5 3248.1 1970 3245 1971.4 3241.9 1972.8 3238.6 1974.1 3235.3 1975.4 3231.9 1976.6 3228.3 1977.8 3224.7 1978.8 3221.1 1979.9 3217.3 1980.9 3213.5 1981.8 3209.6 1982.6 3205.6 1983.4 3201.6 1984.1 3197.5 1984.8 3193.4 1985.4 3189.3 1985.9 3185.1 1986.3 3180.9 1986.7 3176.6 1987 3172.4 1987.3 3168.1 1987.5 3163.8 1987.6 3159.5 1987.6 3155.2 1987.6 3150.9 1987.5 3146.6 1987.3 3142.4 1987 3138.1 1986.7 3133.9 1986.3 3129.7 1985.9 3125.6 1985.4 3121.5 1984.8 3117.4 1984.1 3113.4 1983.4 3109.4 1982.6 3105.5 1981.8 3101.7 1980.9 3097.9 1979.9 3094.3 1978.8 3090.7 1977.8 3087.1 1976.6 3083.7 1975.4 3080.4 1974.1 3077.1 1972.8 3074 1971.4 3070.9 1970 3068 1968.5 3065.2 1967 3062.5 1965.5 3059.9 1963.9 3057.4 1962.2 3055.1 1960.5 3052.9 1958.8 3050.8 1957 3048.9 1955.3 3047 1953.4 3045.4 1951.6 3043.8 1949.7 3042.4 1947.8 3041.2 1945.9 3040.1 1943.9 3039.1 1942 3038.3 1940 3037.6 1938 3037.1 1936 3036.7 1934 3036.5 1932 3036.4 1930Z" stroke-width="1.9"/>
<path d="M3037 1924.9L3041.1 1919.1 3045.2 1914.5 3049.2 1910.5 3053.3 1907 3057.4 1903.9 3061.5 1901.1 3065.6 1898.6 3069.7 1896.3 3073.8 1894.2 3077.8 1892.2 3081.9 1890.4 3086 1888.8 3090.1 1887.3 3094.2 1885.9 3098.2 1884.6 3102.3 1883.4 3106.4 1882.3 3110.5 1881.3 3114.6 1880.4 3118.7 1879.6 3122.8 1878.9 3126.8 1878.3 3130.9 1877.7 3135 1877.2 3139.1 1876.8 3143.2 1876.5 3147.2 1876.2 3151.3 1876 3155.4 1875.9 3159.5 1875.9 3163.6 1875.9 3167.7 1876 3171.8 1876.2 3175.8 1876.5 3179.9 1876.8 3184 1877.2 3188.1 1877.7 3192.2 1878.3 3196.2 1878.9 3200.3 1879.6 3204.4 1880.4 3208.5 1881.3 3212.6 1882.3 3216.7 1883.4 3220.8 1884.6 3224.8 1885.9 3228.9 1887.3 3233 1888.8 3237.1 1890.4 3241.2 1892.2 3245.2 1894.2 3249.3 1896.3 3253.4 1898.6 3257.5 1901.1 3261.6 1903.9 3265.7 1907 3269.8 1910.5 3273.8 1914.5 3277.9 1919.1 3282 1924.9" stroke-width="1.9"/>
<path d="M3053.6 1907.5L3068.9 1917.2" stroke-width="1.6"/>
<path d="M3250.1 1917.2L3265.4 1907.5" stroke-width="1.6"/>
<path d="M2936.9 2058.7L2936.9 2021 2936.9 2019 2937 2017.1 2937.2 2015.1 2937.4 2013.1 2937.7 2011.2 2938.1 2009.2 2938.6 2007.2 2939.1 2005.3 2939.6 2003.3 2940.3 2001.4 2941 1999.4 2941.8 1997.5 2942.6 1995.6 2943.5 1993.7 2944.5 1991.8 2945.5 1989.9 2946.6 1988 2947.8 1986.1 2949 1984.2 2950.3 1982.4 2951.7 1980.5 2953.1 1978.7 2954.6 1976.8 2956.1 1975 2957.8 1973.2 2959.4 1971.5 2961.2 1969.7 2963 1967.9 2964.8 1966.2 2966.7 1964.5 2968.7 1962.8 2970.7 1961.1 2972.8 1959.5 2975 1957.8 2977.2 1956.2 2979.4 1954.6 2981.7 1953 2984.1 1951.4 2986.5 1949.9 2989 1948.4 2991.5 1946.9 2994.1 1945.4 2996.7 1943.9 2999.4 1942.5 3002.1 1941.1 3004.9 1939.7 3007.7 1938.4 3010.6 1937 3013.5 1935.7 3016.4 1934.4 3019.4 1933.2 3022.5 1932 3025.5 1930.8 3028.7 1929.6 3031.8 1928.4 3035 1927.3 3038.3 1926.2 3041.5 1925.2 3044.9 1924.1 3048.2 1923.1 3051.6 1922.2 3055 1921.2 3058.4 1920.3 3061.9 1919.4 3065.4 1918.6 3069 1917.8 3072.5 1917 3076.1 1916.2 3079.7 1915.5 3083.4 1914.8 3087 1914.2 3090.7 1913.5 3094.4 1912.9 3098.1 1912.4 3101.9 1911.9 3105.6 1911.4 3109.4 1910.9 3113.2 1910.5 3117 1910.1 3120.8 1909.7 3124.7 1909.4 3128.5 1909.1 3132.4 1908.8 3136.2 1908.6 3140.1 1908.4 3144 1908.3 3147.9 1908.2 3151.7 1908.1 3155.6 1908 3159.5 1908 3163.4 1908 3167.3 1908.1 3171.1 1908.2 3175 1908.3 3178.9 1908.4 3182.8 1908.6 3186.6 1908.8 3190.5 1909.1 3194.3 1909.4 3198.2 1909.7 3202 1910.1 3205.8 1910.5 3209.6 1910.9 3213.4 1911.4 3217.1 1911.9 3220.9 1912.4 3224.6 1912.9 3228.3 1913.5 3232 1914.2 3235.6 1914.8 3239.3 1915.5 3242.9 1916.2 3246.5 1917 3250 1917.8 3253.6 1918.6 3257.1 1919.4 3260.6 1920.3 3264 1921.2 3267.4 1922.2 3270.8 1923.1 3274.1 1924.1 3277.5 1925.2 3280.7 1926.2 3284 1927.3 3287.2 1928.4 3290.3 1929.6 3293.5 1930.8 3296.5 1932 3299.6 1933.2 3302.6 1934.4 3305.5 1935.7 3308.4 1937 3311.3 1938.4 3314.1 1939.7 3316.9 1941.1 3319.6 1942.5 3322.3 1943.9 3324.9 1945.4 3327.5 1946.9 3330 1948.4 3332.5 1949.9 3334.9 1951.4 3337.3 1953 3339.6 1954.6 3341.8 1956.2 3344 1957.8 3346.2 1959.5 3348.3 1961.1 3350.3 1962.8 3352.3 1964.5 3354.2 1966.2 3356 1967.9 3357.8 1969.7 3359.6 1971.5 3361.2 1973.2 3362.9 1975 3364.4 1976.8 3365.9 1978.7 3367.3 1980.5 3368.7 1982.4 3370 1984.2 3371.2 1986.1 3372.4 1988 3373.5 1989.9 3374.5 1991.8 3375.5 1993.7 3376.4 1995.6 3377.2 1997.5 3378 1999.4 3378.7 2001.4 3379.4 2003.3 3379.9 2005.3 3380.4 2007.2 3380.9 2009.2 3381.3 2011.2 3381.6 2013.1 3381.8 2015.1 3382 2017.1 3382.1 2019 3382.1 2021 3382.1 2058.7 3382.1 2060.8 3382 2062.9 3381.8 2065 3381.6 2067.1 3381.3 2069.2 3380.9 2071.3 3380.4 2073.4 3379.9 2075.5 3379.4 2077.6 3378.7 2079.6 3378 2081.7 3377.2 2083.8 3376.4 2085.8 3375.5 2087.9 3374.5 2089.9 3373.5 2091.9 3372.4 2094 3371.2 2096 3370 2098 3368.7 2099.9 3367.3 2101.9 3365.9 2103.9 3364.4 2105.8 3362.9 2107.8 3361.2 2109.7 3359.6 2111.6 3357.8 2113.5 3356 2115.3 3354.2 2117.2 3352.3 2119 3350.3 2120.8 3348.3 2122.6 3346.2 2124.4 3344 2126.1 3341.8 2127.9 3339.6 2129.6 3337.3 2131.3 3334.9 2132.9 3332.5 2134.6 3330 2136.2 3327.5 2137.8 3324.9 2139.4 3322.3 2140.9 3319.6 2142.5 3316.9 2144 3314.1 2145.5 3311.3 2146.9 3308.4 2148.3 3305.5 2149.7 3302.6 2151.1 3299.6 2152.4 3296.5 2153.7 3293.5 2155 3290.3 2156.3 3287.2 2157.5 3284 2158.7 3280.7 2159.8 3277.5 2161 3274.1 2162.1 3270.8 2163.1 3267.4 2164.2 3264 2165.2 3260.6 2166.2 3257.1 2167.1 3253.6 2168 3250 2168.9 3246.5 2169.7 3242.9 2170.5 3239.3 2171.3 3235.6 2172 3232 2172.7 3228.3 2173.4 3224.6 2174 3220.9 2174.6 3217.1 2175.2 3213.4 2175.7 3209.6 2176.2 3205.8 2176.7 3202 2177.1 3198.2 2177.5 3194.3 2177.8 3190.5 2178.1 3186.6 2178.4 3182.8 2178.6 3178.9 2178.8 3175 2179 3171.1 2179.1 3167.3 2179.2 3163.4 2179.3 3159.5 2179.3 3155.6 2179.3 3151.7 2179.2 3147.9 2179.1 3144 2179 3140.1 2178.8 3136.2 2178.6 3132.4 2178.4 3128.5 2178.1 3124.7 2177.8 3120.8 2177.5 3117 2177.1 3113.2 2176.7 3109.4 2176.2 3105.6 2175.7 3101.9 2175.2 3098.1 2174.6 3094.4 2174 3090.7 2173.4 3087 2172.7 3083.4 2172 3079.7 2171.3 3076.1 2170.5 3072.5 2169.7 3069 2168.9 3065.4 2168 3061.9 2167.1 3058.4 2166.2 3055 2165.2 3051.6 2164.2 3048.2 2163.1 3044.9 2162.1 3041.5 2161 3038.3 2159.8 3035 2158.7 3031.8 2157.5 3028.7 2156.3 3025.5 2155 3022.5 2153.7 3019.4 2152.4 3016.4 2151.1 3013.5 2149.7 3010.6 2148.3 3007.7 2146.9 3004.9 2145.5 3002.1 2144 2999.4 2142.5 2996.7 2140.9 2994.1 2139.4 2991.5 2137.8 2989 2136.2 2986.5 2134.6 2984.1 2132.9 2981.7 2131.3 2979.4 2129.6 2977.2 2127.9 2975 2126.1 2972.8 2124.4 2970.7 2122.6 2968.7 2120.8 2966.7 2119 2964.8 2117.2 2963 2115.3 2961.2 2113.5 2959.4 2111.6 2957.8 2109.7 2956.1 2107.8 2954.6 2105.8 2953.1 2103.9 2951.7 2101.9 2950.3 2099.9 2949 2098 2947.8 2096 2946.6 2094 2945.5 2091.9 2944.5 2089.9 2943.5 2087.9 2942.6 2085.8 2941.8 2083.8 2941 2081.7 2940.3 2079.6 2939.6 2077.6 2939.1 2075.5 2938.6 2073.4 2938.1 2071.3 2937.7 2069.2 2937.4 2067.1 2937.2 2065 2937 2062.9 2936.9 2060.8Z" stroke-width="2.1" fill="#fff"/>
<ellipse cx="3159.5" cy="2043.6" rx="217.9" ry="88.6" stroke-width="2.3"/>
<ellipse cx="3159.5" cy="2037" rx="202.6" ry="80" stroke-width="1.9"/>
<path d="M3203.8 2022L3208.4 2025.1 3196.5 2027.8 3192 2024.7ZM3154.7 2012.8L3163.9 2012.8 3163.9 2018.3 3154.7 2018.3ZM3110.2 2025.1L3114.8 2022 3126.6 2024.7 3122.1 2027.8ZM3114.8 2046.4L3110.2 2043.3 3122.1 2040.6 3126.6 2043.7ZM3163.9 2055.6L3154.7 2055.6 3154.7 2050.1 3163.9 2050.1ZM3208.4 2043.3L3203.8 2046.4 3192 2043.7 3196.5 2040.6ZM3249.2 2032.4L3249.2 2036 3235.5 2036 3235.5 2032.4ZM3234.9 2014.9L3239.5 2018 3227.6 2020.7 3223 2017.6ZM3200.3 2002.5L3208.2 2004.3 3201.4 2009 3193.4 2007.2ZM3154.7 1998.7L3163.9 1998.7 3163.9 2004.1 3154.7 2004.1ZM3110.4 2004.3L3118.3 2002.5 3125.2 2007.2 3117.2 2009ZM3079.1 2018L3083.7 2014.9 3095.6 2017.6 3091 2020.7ZM3069.4 2036L3069.4 2032.4 3083.1 2032.4 3083.1 2036ZM3083.7 2053.5L3079.1 2050.4 3091 2047.7 3095.6 2050.8ZM3118.3 2065.9L3110.4 2064.1 3117.2 2059.4 3125.2 2061.2ZM3163.9 2069.7L3154.7 2069.7 3154.7 2064.3 3163.9 2064.3ZM3208.2 2064.1L3200.3 2065.9 3193.4 2061.2 3201.4 2059.4ZM3239.5 2050.4L3234.9 2053.5 3223 2050.8 3227.6 2047.7ZM3292.2 2023.1L3293.7 2026.7 3280.2 2027.6 3278.6 2024.1ZM3274.5 2005.8L3279.1 2009 3267.2 2011.7 3262.7 2008.5ZM3243 1992L3250 1994.3 3241.2 1998.4 3234.2 1996.1ZM3201.4 1983.2L3210 1984.4 3205.3 1989.5 3196.7 1988.3ZM3154.7 1980.6L3163.9 1980.6 3163.9 1986 3154.7 1986ZM3108.6 1984.4L3117.2 1983.2 3121.9 1988.3 3113.3 1989.5ZM3068.6 1994.3L3075.6 1992 3084.4 1996.1 3077.4 1998.4ZM3039.5 2009L3044.1 2005.8 3055.9 2008.5 3051.4 2011.7ZM3024.9 2026.7L3026.4 2023.1 3040 2024.1 3038.4 2027.6ZM3026.4 2045.3L3024.9 2041.7 3038.4 2040.8 3040 2044.3ZM3044.1 2062.6L3039.5 2059.4 3051.4 2056.7 3055.9 2059.9ZM3075.6 2076.4L3068.6 2074.1 3077.4 2070 3084.4 2072.3ZM3117.2 2085.2L3108.6 2084 3113.3 2078.9 3121.9 2080.1ZM3163.9 2087.8L3154.7 2087.8 3154.7 2082.4 3163.9 2082.4ZM3210 2084L3201.4 2085.2 3196.7 2080.1 3205.3 2078.9ZM3250 2074.1L3243 2076.4 3234.2 2072.3 3241.2 2070ZM3279.1 2059.4L3274.5 2062.6 3262.7 2059.9 3267.2 2056.7ZM3293.7 2041.7L3292.2 2045.3 3278.6 2044.3 3280.2 2040.8ZM3337.4 2032.4L3337.4 2036 3323.6 2036 3323.6 2032.4ZM3330.1 2014.3L3332.5 2017.7 3319.2 2019.1 3316.9 2015.7ZM3311.2 1997.5L3315.8 2000.6 3303.9 2003.3 3299.3 2000.2ZM3282 1983.2L3288.4 1985.7 3278.7 1989.6 3272.3 1987ZM3244.4 1972.4L3252.3 1974.2 3245.4 1978.9 3237.5 1977.1ZM3201 1965.8L3209.8 1966.7 3206.3 1972 3197.4 1971ZM3154.7 1963.9L3163.9 1963.9 3163.9 1969.3 3154.7 1969.3ZM3108.8 1966.7L3117.6 1965.8 3121.2 1971 3112.3 1972ZM3066.3 1974.2L3074.2 1972.4 3081.1 1977.1 3073.2 1978.9ZM3030.2 1985.7L3036.6 1983.2 3046.3 1987 3039.9 1989.6ZM3002.8 2000.6L3007.4 1997.5 3019.3 2000.2 3014.7 2003.3ZM2986.1 2017.7L2988.5 2014.3 3001.7 2015.7 2999.4 2019.1ZM2981.2 2036L2981.2 2032.4 2995 2032.4 2995 2036ZM2988.5 2054.1L2986.1 2050.7 2999.4 2049.3 3001.7 2052.7ZM3007.4 2070.9L3002.8 2067.8 3014.7 2065.1 3019.3 2068.2ZM3036.6 2085.2L3030.2 2082.7 3039.9 2078.8 3046.3 2081.4ZM3074.2 2096L3066.3 2094.2 3073.2 2089.5 3081.1 2091.3ZM3117.6 2102.6L3108.8 2101.7 3112.3 2096.4 3121.2 2097.4ZM3163.9 2104.5L3154.7 2104.5 3154.7 2099.1 3163.9 2099.1ZM3209.8 2101.7L3201 2102.6 3197.4 2097.4 3206.3 2096.4ZM3252.3 2094.2L3244.4 2096 3237.5 2091.3 3245.4 2089.5ZM3288.4 2082.7L3282 2085.2 3272.3 2081.4 3278.7 2078.8ZM3315.8 2067.8L3311.2 2070.9 3299.3 2068.2 3303.9 2065.1ZM3332.5 2050.7L3330.1 2054.1 3316.9 2052.7 3319.2 2049.3Z" stroke-width="1.6"/>
<path d="M3132 2022 q-2 30 8 62 M3136 2020 q0 30 8 62 M3142 2020 q2 30 6 60" stroke-width="1.2"/>
<ellipse cx="3161" cy="2030" rx="8.5" ry="3" stroke-width="1.1"/>
<ellipse cx="3161" cy="2034.5" rx="8.5" ry="3" stroke-width="1.1"/>
<ellipse cx="3161" cy="2039" rx="8.5" ry="3" stroke-width="1.1"/>
<ellipse cx="3161" cy="2043.5" rx="8.5" ry="3" stroke-width="1.1"/>
<ellipse cx="3161" cy="2048" rx="8.5" ry="3" stroke-width="1.1"/>
<ellipse cx="3161" cy="2052.5" rx="8.5" ry="3" stroke-width="1.1"/>
<path d="M3140 2065L3158 2056 3166 2074 3168 2094 3150 2102 3138 2084Z" stroke-width="1.4" fill="#fff"/>
<path d="M3181 2083L3181 2036" stroke-width="1.9"/>
<path d="M3188 2048L3181 2036 3174 2048" stroke-width="1.9"/>
<path d="M3322.9 1926.8L3322.9 1872.1" stroke-width="1.9"/>
<path d="M3330.9 1884.1L3322.9 1872.1 3314.9 1884.1" stroke-width="1.9"/>
<circle cx="3397.5" cy="1906" r="40" stroke-width="1.9"/>
<text x="3397.5" y="1924.6" font-size="52" text-anchor="middle" fill="#000" stroke="none">6</text>
<circle cx="3390" cy="2179.3" r="40" stroke-width="1.9"/>
<text x="3390" y="2197.9" font-size="52" text-anchor="middle" fill="#000" stroke="none">7</text>
<path d="M2947.1 2459.9L2947.1 2406.8 2947.1 2406 2947.2 2405.3 2947.4 2404.5 2947.6 2403.7 2947.9 2403 2948.3 2402.2 2948.7 2401.4 2949.2 2400.7 2949.8 2399.9 2950.4 2399.2 2951.1 2398.4 2951.9 2397.7 2952.7 2396.9 2953.6 2396.2 2954.5 2395.4 2955.5 2394.7 2956.6 2393.9 2957.8 2393.2 2959 2392.5 2960.2 2391.8 2961.6 2391 2963 2390.3 2964.4 2389.6 2965.9 2388.9 2967.5 2388.2 2969.1 2387.5 2970.8 2386.8 2972.6 2386.1 2974.4 2385.5 2976.3 2384.8 2978.2 2384.1 2980.2 2383.5 2982.2 2382.8 2984.3 2382.2 2986.5 2381.6 2988.7 2380.9 2990.9 2380.3 2993.3 2379.7 2995.6 2379.1 2998 2378.5 3000.5 2377.9 3003 2377.4 3005.6 2376.8 3008.2 2376.2 3010.9 2375.7 3013.6 2375.1 3016.3 2374.6 3019.1 2374.1 3022 2373.6 3024.9 2373.1 3027.8 2372.6 3030.8 2372.1 3033.8 2371.7 3036.8 2371.2 3039.9 2370.8 3043.1 2370.3 3046.2 2369.9 3049.4 2369.5 3052.7 2369.1 3056 2368.7 3059.3 2368.3 3062.6 2368 3066 2367.6 3069.4 2367.3 3072.8 2366.9 3076.3 2366.6 3079.7 2366.3 3083.2 2366 3086.8 2365.7 3090.3 2365.5 3093.9 2365.2 3097.5 2365 3101.2 2364.7 3104.8 2364.5 3108.5 2364.3 3112.1 2364.1 3115.8 2363.9 3119.5 2363.8 3123.3 2363.6 3127 2363.5 3130.7 2363.3 3134.5 2363.2 3138.3 2363.1 3142 2363 3145.8 2363 3149.6 2362.9 3153.4 2362.9 3157.2 2362.8 3161 2362.8 3164.8 2362.8 3168.6 2362.8 3172.4 2362.8 3176.2 2362.9 3180 2362.9 3183.8 2363 3187.6 2363 3191.3 2363.1 3195.1 2363.2 3198.9 2363.3 3202.6 2363.5 3206.3 2363.6 3210.1 2363.8 3213.8 2363.9 3217.5 2364.1 3221.1 2364.3 3224.8 2364.5 3228.4 2364.7 3232.1 2365 3235.7 2365.2 3239.3 2365.5 3242.8 2365.7 3246.4 2366 3249.9 2366.3 3253.3 2366.6 3256.8 2366.9 3260.2 2367.3 3263.6 2367.6 3267 2368 3270.3 2368.3 3273.7 2368.7 3276.9 2369.1 3280.2 2369.5 3283.4 2369.9 3286.5 2370.3 3289.7 2370.8 3292.8 2371.2 3295.8 2371.7 3298.8 2372.1 3301.8 2372.6 3304.7 2373.1 3307.6 2373.6 3310.5 2374.1 3313.3 2374.6 3316 2375.1 3318.7 2375.7 3321.4 2376.2 3324 2376.8 3326.6 2377.4 3329.1 2377.9 3331.6 2378.5 3334 2379.1 3336.3 2379.7 3338.7 2380.3 3340.9 2380.9 3343.1 2381.6 3345.3 2382.2 3347.4 2382.8 3349.4 2383.5 3351.4 2384.1 3353.3 2384.8 3355.2 2385.5 3357 2386.1 3358.8 2386.8 3360.5 2387.5 3362.1 2388.2 3363.7 2388.9 3365.2 2389.6 3366.6 2390.3 3368 2391 3369.4 2391.8 3370.6 2392.5 3371.8 2393.2 3373 2393.9 3374.1 2394.7 3375.1 2395.4 3376 2396.2 3376.9 2396.9 3377.7 2397.7 3378.5 2398.4 3379.2 2399.2 3379.8 2399.9 3380.4 2400.7 3380.9 2401.4 3381.3 2402.2 3381.7 2403 3382 2403.7 3382.2 2404.5 3382.4 2405.3 3382.5 2406 3382.5 2406.8 3382.5 2459.9 3382.5 2460.7 3382.4 2461.4 3382.2 2462.2 3382 2462.9 3381.7 2463.7 3381.3 2464.4 3380.9 2465.2 3380.4 2466 3379.8 2466.7 3379.2 2467.5 3378.5 2468.2 3377.7 2468.9 3376.9 2469.7 3376 2470.4 3375.1 2471.2 3374.1 2471.9 3373 2472.6 3371.8 2473.3 3370.6 2474.1 3369.4 2474.8 3368 2475.5 3366.6 2476.2 3365.2 2476.9 3363.7 2477.6 3362.1 2478.3 3360.5 2479 3358.8 2479.6 3357 2480.3 3355.2 2481 3353.3 2481.7 3351.4 2482.3 3349.4 2483 3347.4 2483.6 3345.3 2484.2 3343.1 2484.9 3340.9 2485.5 3338.7 2486.1 3336.3 2486.7 3334 2487.3 3331.6 2487.9 3329.1 2488.4 3326.6 2489 3324 2489.6 3321.4 2490.1 3318.7 2490.7 3316 2491.2 3313.3 2491.7 3310.5 2492.2 3307.6 2492.7 3304.7 2493.2 3301.8 2493.7 3298.8 2494.2 3295.8 2494.6 3292.8 2495.1 3289.7 2495.5 3286.5 2496 3283.4 2496.4 3280.2 2496.8 3276.9 2497.2 3273.7 2497.6 3270.3 2497.9 3267 2498.3 3263.6 2498.7 3260.2 2499 3256.8 2499.3 3253.3 2499.6 3249.9 2499.9 3246.4 2500.2 3242.8 2500.5 3239.3 2500.8 3235.7 2501 3232.1 2501.3 3228.4 2501.5 3224.8 2501.7 3221.1 2501.9 3217.5 2502.1 3213.8 2502.3 3210.1 2502.4 3206.3 2502.6 3202.6 2502.7 3198.9 2502.9 3195.1 2503 3191.3 2503.1 3187.6 2503.2 3183.8 2503.2 3180 2503.3 3176.2 2503.3 3172.4 2503.4 3168.6 2503.4 3164.8 2503.4 3161 2503.4 3157.2 2503.4 3153.4 2503.3 3149.6 2503.3 3145.8 2503.2 3142 2503.2 3138.3 2503.1 3134.5 2503 3130.7 2502.9 3127 2502.7 3123.3 2502.6 3119.5 2502.4 3115.8 2502.3 3112.1 2502.1 3108.5 2501.9 3104.8 2501.7 3101.2 2501.5 3097.5 2501.3 3093.9 2501 3090.3 2500.8 3086.8 2500.5 3083.2 2500.2 3079.7 2499.9 3076.3 2499.6 3072.8 2499.3 3069.4 2499 3066 2498.7 3062.6 2498.3 3059.3 2497.9 3056 2497.6 3052.7 2497.2 3049.4 2496.8 3046.2 2496.4 3043.1 2496 3039.9 2495.5 3036.8 2495.1 3033.8 2494.6 3030.8 2494.2 3027.8 2493.7 3024.9 2493.2 3022 2492.7 3019.1 2492.2 3016.3 2491.7 3013.6 2491.2 3010.9 2490.7 3008.2 2490.1 3005.6 2489.6 3003 2489 3000.5 2488.4 2998 2487.9 2995.6 2487.3 2993.3 2486.7 2990.9 2486.1 2988.7 2485.5 2986.5 2484.9 2984.3 2484.2 2982.2 2483.6 2980.2 2483 2978.2 2482.3 2976.3 2481.7 2974.4 2481 2972.6 2480.3 2970.8 2479.6 2969.1 2479 2967.5 2478.3 2965.9 2477.6 2964.4 2476.9 2963 2476.2 2961.6 2475.5 2960.2 2474.8 2959 2474.1 2957.8 2473.3 2956.6 2472.6 2955.5 2471.9 2954.5 2471.2 2953.6 2470.4 2952.7 2469.7 2951.9 2468.9 2951.1 2468.2 2950.4 2467.5 2949.8 2466.7 2949.2 2466 2948.7 2465.2 2948.3 2464.4 2947.9 2463.7 2947.6 2462.9 2947.4 2462.2 2947.2 2461.4 2947.1 2460.7Z" stroke-width="1.9" fill="#fff"/>
<ellipse cx="3164.8" cy="2459.9" rx="217.7" ry="43.5" stroke-width="2.3"/>
<path d="M2990.7 2432C3005.6 2434.5 3051.1 2443.8 3080 2447C3108.9 2450.2 3136 2450.9 3164.3 2450.9C3192.6 2450.9 3220.8 2450 3250 2447C3279.2 2444 3324.3 2435.1 3339.2 2432.7" stroke-width="2.3"/>
<path d="M3164.8 2535.2L3164.8 2598.6" stroke-width="1.9"/>
<path d="M3180.3 2544.2Q3169.5 2531.6 3164.8 2516.2Q3160.2 2531.6 3149.3 2544.2" stroke-width="1.9"/>
<circle cx="3018.7" cy="2557.1" r="40" stroke-width="1.9"/>
<text x="3018.7" y="2575.7" font-size="52" text-anchor="middle" fill="#000" stroke="none">8</text>
<ellipse cx="3164.8" cy="2670" rx="217.7" ry="58.7" stroke-width="1.9"/>
<path d="M767.5 1268L2311 1268" stroke-width="1.9"/>
<path d="M761.2 1191.4L826.8 1268M793.9 1191.4L859.5 1268M826.5 1191.4L892.1 1268M859.2 1191.4L924.8 1268M891.8 1191.4L957.4 1268M924.5 1191.4L990.1 1268M957.1 1191.4L1022.7 1268M989.8 1191.4L1055.3 1268M1022.4 1191.4L1088 1268M1055 1191.4L1120.6 1268M1087.7 1191.4L1153.3 1268M1120.3 1191.4L1185.9 1268M1153 1191.4L1218.6 1268M1185.7 1191.4L1251.2 1268M1218.3 1191.4L1283.9 1268M1251 1191.4L1316.5 1268M1283.6 1191.4L1349.2 1268M1316.2 1191.4L1381.8 1268M1348.9 1191.4L1414.5 1268M1381.6 1191.4L1447.2 1268M1414.2 1191.4L1479.8 1268M1446.8 1191.4L1512.4 1268M1479.5 1191.4L1545.1 1268M1512.2 1191.4L1577.8 1268M1544.8 1191.4L1610.4 1268M1577.5 1191.4L1643 1268M1610.1 1191.4L1675.7 1268M1642.8 1191.4L1708.3 1268M1675.4 1191.4L1741 1268M1708 1191.4L1773.6 1268M1740.7 1191.4L1806.3 1268M1773.3 1191.4L1838.9 1268M1806 1191.4L1871.6 1268M1838.7 1191.4L1904.2 1268M1871.3 1191.4L1936.9 1268M1904 1191.4L1969.5 1268M1936.6 1191.4L2002.2 1268M1969.2 1191.4L2034.8 1268M2001.9 1191.4L2067.5 1268M2034.5 1191.4L2100.2 1268M2067.2 1191.4L2132.8 1268M2099.8 1191.4L2165.4 1268M2132.5 1191.4L2198.1 1268M2165.2 1191.4L2230.8 1268M2197.8 1191.4L2263.4 1268M2230.4 1191.4L2296 1268" stroke-width="2"/>
<path d="M1227.2 1269C1226 1279.7 1222.3 1310.3 1219.9 1333.2C1217.4 1356 1213.1 1388.1 1212.5 1406.4C1211.9 1424.7 1212.8 1432.1 1216.2 1443C1219.5 1454 1229.9 1467.5 1232.7 1472.3" stroke-width="1.7"/>
<path d="M1234.5 1269C1233.3 1279.7 1229.3 1310.3 1227.2 1333.2C1225 1356 1222 1386.9 1221.7 1406.4C1221.4 1425.9 1222 1440 1225.3 1450.4C1228.7 1460.7 1239.1 1465.6 1241.8 1468.7" stroke-width="1.7"/>
<path d="M1247.3 1269C1246.1 1279.7 1242.4 1310.3 1240 1333.2C1237.6 1356 1233.6 1388.1 1232.7 1406.4C1231.8 1424.7 1231.8 1433.6 1234.5 1443C1237.3 1452.5 1246.7 1459.8 1249.2 1463.2" stroke-width="1.7"/>
<path d="M1400.4 1322L1400 1330.1 1395.4 1333 1395.1 1341.8 1390.9 1350.8 1391.2 1353.6 1394.8 1354.1 1394.8 1361.4 1390.9 1370.4 1391.5 1372.6 1394.3 1373.2 1393.7 1381 1389.5 1388.8 1390.1 1390.2 1393.4 1390.5 1392 1396 1411.5 1396 1412.4 1391.6 1410.5 1384.9 1409.9 1374.8 1413.3 1375.7 1413.6 1374.3 1410.8 1365.3 1410.2 1355.8 1413.6 1356.4 1413.6 1354.1 1410.8 1343 1410.5 1334 1407 1330.1 1406.6 1322Z" stroke-width="1.6" fill="#fff"/>
<ellipse cx="1401.8" cy="1399.3" rx="10.3" ry="5.6" stroke-width="1.6" fill="#fff"/>
<ellipse cx="1401.8" cy="1398" rx="6.5" ry="3" stroke-width="1.3"/>
<path d="M1397.5 1342L1397.5 1354 1400 1349 1402.5 1354 1402.5 1342" stroke-width="1.3"/>
<path d="M1397.5 1360L1397.5 1372 1400 1367 1402.5 1372 1402.5 1360" stroke-width="1.3"/>
<path d="M1397.5 1378L1397.5 1390 1400 1385 1402.5 1390 1402.5 1378" stroke-width="1.3"/>
<path d="M1396.5 1336L1397 1352" stroke-width="1.2"/>
<path d="M1409 1338L1410 1360" stroke-width="1.2"/>
<path d="M1592.3 1322L1591.9 1330.1 1587.3 1333 1587 1341.8 1582.8 1350.8 1583.1 1353.6 1586.7 1354.1 1586.7 1361.4 1582.8 1370.4 1583.4 1372.6 1586.2 1373.2 1585.6 1381 1581.4 1388.8 1582 1390.2 1585.3 1390.5 1583.9 1396 1603.4 1396 1604.3 1391.6 1602.4 1384.9 1601.8 1374.8 1605.2 1375.7 1605.5 1374.3 1602.7 1365.3 1602.1 1355.8 1605.5 1356.4 1605.5 1354.1 1602.7 1343 1602.4 1334 1598.9 1330.1 1598.5 1322Z" stroke-width="1.6" fill="#fff"/>
<ellipse cx="1593.7" cy="1399.3" rx="10.3" ry="5.6" stroke-width="1.6" fill="#fff"/>
<ellipse cx="1593.7" cy="1398" rx="6.5" ry="3" stroke-width="1.3"/>
<path d="M1589.4 1342L1589.4 1354 1591.9 1349 1594.4 1354 1594.4 1342" stroke-width="1.3"/>
<path d="M1589.4 1360L1589.4 1372 1591.9 1367 1594.4 1372 1594.4 1360" stroke-width="1.3"/>
<path d="M1589.4 1378L1589.4 1390 1591.9 1385 1594.4 1390 1594.4 1378" stroke-width="1.3"/>
<path d="M1588.4 1336L1588.9 1352" stroke-width="1.2"/>
<path d="M1600.9 1338L1601.9 1360" stroke-width="1.2"/>
<path d="M1496.4 1359.1L1496.4 1393.6" stroke-width="1.8"/>
<path d="M1513.4 1368.8Q1501.5 1355.1 1496.4 1338.4Q1491.3 1355.1 1479.4 1368.8" stroke-width="1.8"/>
<path d="M1496.4 1518.2L1496.4 1560" stroke-width="1.8"/>
<path d="M1513.4 1527.9Q1501.5 1514.2 1496.4 1497.5Q1491.3 1514.2 1479.4 1527.9" stroke-width="1.8"/>
<path d="M1327 1425.9L1329.6 1423.6 1660.9 1423.6 1664.5 1425.9 1672.5 1441.1 1672.5 1478.6 1668 1478.6 1660.9 1465.2 1660.9 1442.9 1339.5 1442.9 1339.5 1478.6 1335 1478.6 1327 1464.3Z" stroke-width="1.7" fill="#fff"/>
<path d="M1329.6 1423.6L1338.6 1438.4 1664.5 1438.4 1672.5 1441.1" stroke-width="1.6"/>
<path d="M1327 1425.9L1327 1464.3" stroke-width="1.6"/>
<path d="M1338.6 1438.4L1339.5 1442.9" stroke-width="1.6"/>
<path d="M1664.5 1438.4L1660.9 1442.9" stroke-width="1.6"/>
<path d="M1385 1430L1410 1429.5 1413.2 1435.4 1388.2 1435.7Z" stroke-width="1.5"/>
<path d="M1585 1430L1610 1429.5 1613.2 1435.4 1588.2 1435.7Z" stroke-width="1.5"/>
<ellipse cx="1424.6" cy="1432.5" rx="2.6" ry="2" stroke-width="1" fill="#000"/>
<ellipse cx="1572" cy="1432.5" rx="2.6" ry="2" stroke-width="1" fill="#000"/>
<path d="M1342.1 1452.7L1350.7 1452.7" stroke-width="8"/>
<path d="M1646.6 1452.1L1662.7 1452.1" stroke-width="8"/>
<ellipse cx="1328.8" cy="1453" rx="4.5" ry="7.5" stroke-width="1.6" fill="#fff"/>
<ellipse cx="1670.4" cy="1451.8" rx="4.5" ry="7.5" stroke-width="1.6" fill="#fff"/>
<ellipse cx="1399" cy="1457.5" rx="10" ry="4.8" stroke-width="1.6"/>
<ellipse cx="1399" cy="1457.5" rx="5.5" ry="2.2" stroke-width="1.3"/>
<path d="M1397 1465 L1399 1462 L1401.5 1465 L1402 1495 L1396 1495Z" fill="#111" stroke-width="1"/>
<ellipse cx="1399" cy="1498" rx="7" ry="3.8" stroke-width="1.2" fill="#111"/>
<ellipse cx="1595" cy="1457.5" rx="10" ry="4.8" stroke-width="1.6"/>
<ellipse cx="1595" cy="1457.5" rx="5.5" ry="2.2" stroke-width="1.3"/>
<path d="M1593 1465 L1595 1462 L1597.5 1465 L1598 1495 L1592 1495Z" fill="#111" stroke-width="1"/>
<ellipse cx="1595" cy="1498" rx="7" ry="3.8" stroke-width="1.2" fill="#111"/>
<path d="M1291.2 1493.1C1297.6 1497.1 1317.2 1506.8 1329.7 1516.9C1342.2 1527 1354.6 1538.9 1366.3 1553.6C1378 1568.2 1393.2 1594.2 1400 1604.8C1406.8 1615.4 1406.1 1615.1 1407.3 1617.2" stroke-width="1.7"/>
<path d="M1697.6 1761.7L1697.6 1763.8 1697.5 1765.9 1697.4 1768 1697.3 1770 1697.1 1772.1 1696.8 1774.2 1696.5 1776.3 1696.1 1778.4 1695.7 1780.4 1695.2 1782.5 1694.6 1784.5 1694 1786.6 1693.3 1788.6 1692.6 1790.7 1691.8 1792.7 1691 1794.7 1690.1 1796.7 1689.2 1798.7 1688.2 1800.7 1687.1 1802.7 1686 1804.6 1684.8 1806.6 1683.6 1808.5 1682.3 1810.4 1681 1812.3 1679.6 1814.2 1678.2 1816.1 1676.7 1818 1675.2 1819.8 1673.6 1821.7 1671.9 1823.5 1670.3 1825.3 1668.5 1827 1666.7 1828.8 1664.9 1830.5 1663 1832.2 1661.1 1833.9 1659.1 1835.6 1657.1 1837.2 1655 1838.9 1652.9 1840.5 1650.8 1842 1648.6 1843.6 1646.3 1845.1 1644 1846.6 1641.7 1848.1 1639.3 1849.6 1636.9 1851 1634.5 1852.4 1632 1853.8 1629.5 1855.1 1626.9 1856.4 1624.3 1857.7 1621.7 1859 1619 1860.2 1616.3 1861.4 1613.6 1862.6 1610.8 1863.7 1608 1864.9 1605.2 1865.9 1602.3 1867 1599.4 1868 1596.5 1869 1593.6 1869.9 1590.6 1870.9 1587.6 1871.7 1584.6 1872.6 1581.6 1873.4 1578.5 1874.2 1575.4 1875 1572.3 1875.7 1569.2 1876.4 1566 1877 1562.9 1877.6 1559.7 1878.2 1556.5 1878.8 1553.3 1879.3 1550.1 1879.8 1546.8 1880.2 1543.6 1880.6 1540.3 1881 1537.1 1881.3 1533.8 1881.6 1530.5 1881.9 1527.2 1882.1 1523.9 1882.3 1520.6 1882.4 1517.3 1882.5 1514 1882.6 1510.7 1882.7 1507.4 1882.7 1504.1 1882.6 1500.8 1882.6 1497.4 1882.5 1494.1 1882.3 1490.8 1882.2 1487.5 1882 1484.2 1881.7 1481 1881.4 1477.7 1881.1 1474.4 1880.8 1471.2 1880.4 1467.9 1879.9 1464.7 1879.5 1461.5 1879 1458.3 1878.4 1455.1 1877.9 1451.9 1877.3 1448.7 1876.6 1445.6 1876 1442.5 1875.3 1439.4 1874.5 1436.3 1873.7 1433.2 1872.9 1430.2 1872.1 1427.2 1871.2 1424.2 1870.3 1421.3 1869.4 1418.3 1868.4 1415.4 1867.4 1412.5 1866.3 1409.7 1865.3 1406.9 1864.2 1404.1 1863 1401.3 1861.9 1398.6 1860.7 1395.9 1859.5 1393.2 1858.2 1390.6 1856.9 1388 1855.6 1385.5 1854.3 1383 1852.9 1380.5 1851.5 1378 1850.1 1375.6 1848.7 1373.3 1847.2 1371 1845.7 1368.7 1844.2 1366.5 1842.7 1364.3 1841.1 1362.1 1839.5 1360 1837.9 1358 1836.2 1356 1834.6 1354 1832.9 1352.1 1831.2 1350.2 1829.5 1348.4 1827.7 1346.6 1825.9 1344.9 1824.2 1343.2 1822.4 1341.6 1820.5 1340 1818.7 1338.5 1816.8 1337 1815 1335.6 1813.1 1334.2 1811.2 1332.9 1809.3 1331.6 1807.3 1330.4 1805.4 1329.3 1803.4 1328.2 1801.5 1327.1 1799.5 1326.2 1797.5 1325.2 1795.5 1324.3 1793.5 1323.5 1791.4 1322.8 1789.4 1322 1787.4 1321.4 1785.3 1320.8 1783.3 1320.3 1781.2 1319.8 1779.2 1319.3 1777.1 1319 1775 1318.7 1772.9 1318.4 1770.8 1318.2 1768.8 1315.7 1733.6 1315.6 1731.6 1315.5 1729.5 1315.5 1727.4 1315.5 1725.3 1315.6 1723.2 1315.8 1721.1 1316 1719 1316.2 1717 1316.6 1714.9 1317 1712.8 1317.4 1710.8 1317.9 1708.7 1318.4 1706.6 1319.1 1704.6 1319.7 1702.5 1320.4 1700.5 1321.2 1698.5 1322.1 1696.5 1323 1694.5 1323.9 1692.5 1324.9 1690.5 1326 1688.5 1327.1 1686.5 1328.2 1684.6 1329.5 1682.7 1330.7 1680.7 1332.1 1678.8 1333.4 1676.9 1334.9 1675 1336.4 1673.2 1337.9 1671.3 1339.5 1669.5 1341.1 1667.7 1342.8 1665.9 1344.5 1664.1 1346.3 1662.4 1348.2 1660.7 1350 1658.9 1352 1657.2 1354 1655.6 1356 1653.9 1358 1652.3 1360.2 1650.7 1362.3 1649.1 1364.5 1647.6 1366.8 1646 1369 1644.5 1371.4 1643 1373.7 1641.6 1376.1 1640.2 1378.6 1638.8 1381.1 1637.4 1383.6 1636 1386.2 1634.7 1388.8 1633.4 1391.4 1632.2 1394.1 1630.9 1396.8 1629.7 1399.5 1628.6 1402.3 1627.4 1405.1 1626.3 1407.9 1625.2 1410.7 1624.2 1413.6 1623.2 1416.5 1622.2 1419.5 1621.2 1422.4 1620.3 1425.4 1619.4 1428.5 1618.6 1431.5 1617.7 1434.6 1617 1437.6 1616.2 1440.8 1615.5 1443.9 1614.8 1447 1614.1 1450.2 1613.5 1453.4 1612.9 1456.6 1612.4 1459.8 1611.9 1463 1611.4 1466.2 1611 1469.5 1610.6 1472.7 1610.2 1476 1609.9 1479.3 1609.6 1482.6 1609.3 1485.9 1609.1 1489.1 1608.9 1492.5 1608.7 1495.8 1608.6 1499.1 1608.5 1502.4 1608.5 1505.7 1608.5 1509 1608.5 1512.3 1608.6 1515.6 1608.7 1518.9 1608.8 1522.2 1609 1525.5 1609.2 1528.8 1609.5 1532.1 1609.7 1535.4 1610.1 1538.6 1610.4 1541.9 1610.8 1545.1 1611.2 1548.4 1611.7 1551.6 1612.2 1554.8 1612.7 1558 1613.3 1561.2 1613.9 1564.3 1614.5 1567.5 1615.2 1570.6 1615.9 1573.7 1616.7 1576.8 1617.4 1579.8 1618.2 1582.9 1619.1 1585.9 1620 1588.9 1620.9 1591.8 1621.8 1594.8 1622.8 1597.7 1623.8 1600.5 1624.8 1603.4 1625.9 1606.2 1627 1609 1628.1 1611.8 1629.3 1614.5 1630.5 1617.2 1631.7 1619.8 1632.9 1622.5 1634.2 1625 1635.5 1627.6 1636.9 1630.1 1638.2 1632.6 1639.6 1635 1641 1637.4 1642.5 1639.8 1644 1642.1 1645.4 1644.4 1647 1646.6 1648.5 1648.8 1650.1 1650.9 1651.7 1653 1653.3 1655.1 1654.9 1657.1 1656.6 1659.1 1658.3 1661 1660 1662.9 1661.7 1664.7 1663.5 1666.5 1665.2 1668.2 1667 1669.9 1668.8 1671.5 1670.6 1673.1 1672.5 1674.6 1674.3 1676.1 1676.2 1677.5 1678.1 1678.8 1680 1680.2 1681.9 1681.4 1683.8 1682.6 1685.8 1683.8 1687.7 1684.9 1689.7 1685.9 1691.7 1686.9 1693.7 1687.8 1695.7 1688.7 1697.7 1689.5 1699.7 1690.3 1701.8 1691 1703.8 1691.7 1705.8 1692.3 1707.9 1692.8 1710 1693.3 1712 1693.7 1714.1 1694.1 1716.2 1694.4 1718.2 1694.7 1720.3 1694.9 1722.4 1697.3 1757.5 1697.5 1759.6Z" stroke-width="1.9" fill="#fff"/>
<ellipse cx="0" cy="0" rx="189.8" ry="119.5" transform="translate(1507.8 1763.1) rotate(0.19)" stroke-width="1.9"/>
<path d="M1449.4 1853L1446.2 1772.9" stroke-width="1.9"/>
<path d="M1446.2 1772.9C1449.6 1769.9 1457.3 1759.4 1466.8 1754.6C1476.4 1749.8 1491.2 1744.8 1503.4 1744.1C1515.7 1743.3 1528.8 1746 1540.1 1750C1551.4 1754.1 1566 1765.3 1571.2 1768.3" stroke-width="1.9"/>
<path d="M1571.2 1768.3L1574.9 1853" stroke-width="1.9"/>
<path d="M747 1789.7L853.2 1876.7 1182 1944.6 1272.4 1941.1 1168 1861.8" stroke-width="1.9"/>
<path d="M726.2 1809.6L794 1867 557.4 1880.9" stroke-width="1.9"/>
<path d="M567.8 1911.5L809.7 1901.8 1169.8 1974.2 1115.9 2013.8" stroke-width="1.9"/>
<path d="M1187.2 1842.6L1293.3 1915.7" stroke-width="1.9"/>
<path d="M1150.6 2035.7L1218.5 1972.4 1291.6 1970.3" stroke-width="1.9"/>
<path d="M557.4 1880.9C556.7 1882.5 553.3 1887.2 553.2 1890.6C553.1 1894.1 554.3 1898.3 556.7 1901.8C559.1 1905.3 566 1909.9 567.8 1911.5" stroke-width="1.9"/>
<path d="M1911.4 1809.6L1797.6 1887.9 1673 1892.4" stroke-width="1.9"/>
<path d="M1927.7 1842.6L1847.7 1891.3 2201.9 1969.6 2402 1962.7 2414.2 1988.8 2167.1 2003.7 2191.5 2040.3" stroke-width="1.9"/>
<path d="M1793.1 1988.8L1710.6 1927.9 1827.9 1923.4 2121.9 1992.9 2161.9 2050.7" stroke-width="1.9"/>
<path d="M1693.9 1952.2L1760 2006.2" stroke-width="1.9"/>
<path d="M1010.9 1821.6L1010.9 1778.1 1010.9 1777.1 1010.9 1776.1 1011 1775.1 1011.1 1774.1 1011.3 1773.1 1011.4 1772.1 1011.6 1771.1 1011.9 1770.1 1012.1 1769.2 1012.4 1768.2 1012.7 1767.2 1013 1766.2 1013.4 1765.2 1013.8 1764.2 1014.2 1763.3 1014.6 1762.3 1015.1 1761.3 1015.6 1760.4 1016.1 1759.4 1016.7 1758.4 1017.2 1757.5 1017.8 1756.6 1018.5 1755.6 1019.1 1754.7 1019.8 1753.8 1020.5 1752.9 1021.2 1751.9 1022 1751 1022.8 1750.1 1023.6 1749.3 1024.4 1748.4 1025.3 1747.5 1026.1 1746.7 1027 1745.8 1028 1745 1028.9 1744.1 1029.9 1743.3 1030.9 1742.5 1031.9 1741.7 1032.9 1740.9 1034 1740.1 1035.1 1739.3 1036.2 1738.6 1037.3 1737.8 1038.4 1737.1 1039.6 1736.4 1040.8 1735.6 1041.9 1734.9 1043.2 1734.3 1044.4 1733.6 1045.7 1732.9 1046.9 1732.3 1048.2 1731.6 1049.5 1731 1050.8 1730.4 1052.2 1729.8 1053.5 1729.2 1054.9 1728.7 1056.3 1728.1 1057.7 1727.6 1059.1 1727 1060.5 1726.5 1061.9 1726 1063.4 1725.6 1064.8 1725.1 1066.3 1724.6 1067.8 1724.2 1069.3 1723.8 1070.8 1723.4 1072.3 1723 1073.8 1722.6 1075.4 1722.3 1076.9 1722 1078.5 1721.6 1080 1721.3 1081.6 1721 1083.2 1720.8 1084.7 1720.5 1086.3 1720.3 1087.9 1720.1 1089.5 1719.9 1091.1 1719.7 1092.7 1719.5 1094.3 1719.4 1095.9 1719.2 1097.5 1719.1 1099.1 1719 1100.8 1718.9 1102.4 1718.9 1104 1718.8 1105.6 1718.8 1107.2 1718.8 1108.8 1718.8 1110.4 1718.8 1112 1718.9 1113.6 1718.9 1115.2 1719 1116.8 1719.1 1118.4 1719.2 1120 1719.3 1121.6 1719.5 1123.2 1719.6 1124.8 1719.8 1126.3 1720 1127.9 1720.2 1129.4 1720.5 1131 1720.7 1132.5 1721 1134 1721.2 1135.6 1721.5 1137.1 1721.9 1138.6 1722.2 1140.1 1722.5 1141.5 1722.9 1143 1723.3 1144.4 1723.7 1145.9 1724.1 1147.3 1724.5 1148.7 1725 1150.1 1725.4 1151.5 1725.9 1152.9 1726.4 1154.2 1726.9 1155.6 1727.4 1156.9 1727.9 1158.2 1728.5 1159.5 1729 1160.8 1729.6 1162 1730.2 1163.3 1730.8 1164.5 1731.4 1165.7 1732.1 1166.9 1732.7 1168 1733.4 1169.2 1734.1 1170.3 1734.7 1171.4 1735.4 1172.5 1736.1 1173.5 1736.9 1174.6 1737.6 1175.6 1738.3 1176.6 1739.1 1177.5 1739.9 1178.5 1740.7 1179.4 1741.4 1180.3 1742.2 1181.2 1743.1 1182.1 1743.9 1182.9 1744.7 1183.7 1745.5 1184.5 1746.4 1185.3 1747.3 1186 1748.1 1186.7 1749 1187.4 1749.9 1188 1750.8 1188.7 1751.7 1189.3 1752.6 1189.9 1753.5 1190.4 1754.4 1190.9 1755.3 1191.4 1756.3 1191.9 1757.2 1192.4 1758.2 1192.8 1759.1 1193.2 1760.1 1193.5 1761 1193.9 1762 1194.2 1763 1194.5 1763.9 1194.7 1764.9 1195 1765.9 1195.2 1766.9 1195.3 1767.9 1195.5 1768.9 1195.6 1769.9 1195.7 1770.8 1195.7 1771.8 1195.8 1772.8 1195.8 1773.8 1195.8 1817.3 1195.7 1818.3 1195.7 1819.3 1195.6 1820.3 1195.5 1821.3 1195.3 1822.3 1195.2 1823.3 1195 1824.3 1194.8 1825.3 1194.5 1826.3 1194.2 1827.3 1193.9 1828.3 1193.6 1829.3 1193.2 1830.2 1192.8 1831.2 1192.4 1832.2 1192 1833.2 1191.5 1834.1 1191 1835.1 1190.5 1836.1 1190 1837 1189.4 1838 1188.8 1838.9 1188.1 1839.8 1187.5 1840.8 1186.8 1841.7 1186.1 1842.6 1185.4 1843.5 1184.6 1844.4 1183.8 1845.3 1183 1846.2 1182.2 1847.1 1181.4 1847.9 1180.5 1848.8 1179.6 1849.7 1178.7 1850.5 1177.7 1851.3 1176.7 1852.2 1175.7 1853 1174.7 1853.8 1173.7 1854.6 1172.6 1855.4 1171.6 1856.1 1170.5 1856.9 1169.3 1857.6 1168.2 1858.4 1167 1859.1 1165.9 1859.8 1164.7 1860.5 1163.5 1861.2 1162.2 1861.9 1161 1862.5 1159.7 1863.2 1158.4 1863.8 1157.1 1864.5 1155.8 1865.1 1154.4 1865.7 1153.1 1866.2 1151.7 1866.8 1150.3 1867.4 1149 1867.9 1147.5 1868.4 1146.1 1868.9 1144.7 1869.4 1143.2 1869.9 1141.8 1870.4 1140.3 1870.8 1138.8 1871.3 1137.3 1871.7 1135.8 1872.1 1134.3 1872.5 1132.8 1872.8 1131.2 1873.2 1129.7 1873.5 1128.1 1873.8 1126.6 1874.1 1125 1874.4 1123.4 1874.7 1121.9 1874.9 1120.3 1875.2 1118.7 1875.4 1117.1 1875.6 1115.5 1875.8 1113.9 1875.9 1112.3 1876.1 1110.7 1876.2 1109.1 1876.3 1107.5 1876.4 1105.9 1876.5 1104.2 1876.6 1102.6 1876.6 1101 1876.7 1099.4 1876.7 1097.8 1876.7 1096.2 1876.6 1094.6 1876.6 1093 1876.5 1091.4 1876.5 1089.8 1876.4 1088.2 1876.3 1086.6 1876.1 1085 1876 1083.4 1875.8 1081.9 1875.6 1080.3 1875.5 1078.7 1875.2 1077.2 1875 1075.6 1874.8 1074.1 1874.5 1072.6 1874.2 1071.1 1873.9 1069.6 1873.6 1068.1 1873.3 1066.6 1872.9 1065.1 1872.6 1063.6 1872.2 1062.2 1871.8 1060.7 1871.4 1059.3 1870.9 1057.9 1870.5 1056.5 1870 1055.1 1869.6 1053.7 1869.1 1052.4 1868.6 1051.1 1868.1 1049.7 1867.5 1048.4 1867 1047.1 1866.4 1045.9 1865.8 1044.6 1865.2 1043.4 1864.6 1042.1 1864 1040.9 1863.4 1039.8 1862.7 1038.6 1862.1 1037.5 1861.4 1036.3 1860.7 1035.2 1860 1034.2 1859.3 1033.1 1858.6 1032.1 1857.9 1031 1857.1 1030 1856.4 1029.1 1855.6 1028.1 1854.8 1027.2 1854 1026.3 1853.2 1025.4 1852.4 1024.6 1851.6 1023.7 1850.8 1022.9 1849.9 1022.1 1849.1 1021.4 1848.2 1020.6 1847.3 1019.9 1846.5 1019.2 1845.6 1018.6 1844.7 1017.9 1843.8 1017.3 1842.9 1016.8 1842 1016.2 1841 1015.7 1840.1 1015.2 1839.2 1014.7 1838.2 1014.3 1837.3 1013.8 1836.3 1013.4 1835.4 1013.1 1834.4 1012.7 1833.5 1012.4 1832.5 1012.1 1831.5 1011.9 1830.5 1011.7 1829.6 1011.5 1828.6 1011.3 1827.6 1011.2 1826.6 1011 1825.6 1011 1824.6 1010.9 1823.6 1010.9 1822.6Z" stroke-width="1.9" fill="#fff"/>
<ellipse cx="0" cy="0" rx="92.5" ry="57.1" transform="translate(1103.3 1819.5) rotate(-2.56)" stroke-width="1.9"/>
<path d="M1918.2 2030.6L1918.2 2067.9 1918.2 2068.8 1918.1 2069.6 1918.1 2070.5 1918 2071.4 1917.9 2072.2 1917.8 2073.1 1917.6 2073.9 1917.4 2074.8 1917.2 2075.7 1917 2076.5 1916.7 2077.4 1916.4 2078.2 1916.1 2079.1 1915.7 2079.9 1915.4 2080.8 1915 2081.6 1914.6 2082.4 1914.1 2083.3 1913.7 2084.1 1913.2 2084.9 1912.7 2085.7 1912.1 2086.6 1911.6 2087.4 1911 2088.2 1910.4 2089 1909.8 2089.8 1909.1 2090.6 1908.4 2091.3 1907.7 2092.1 1907 2092.9 1906.3 2093.7 1905.5 2094.4 1904.7 2095.2 1903.9 2095.9 1903.1 2096.6 1902.2 2097.3 1901.3 2098.1 1900.4 2098.8 1899.5 2099.5 1898.6 2100.2 1897.6 2100.8 1896.7 2101.5 1895.7 2102.2 1894.7 2102.8 1893.6 2103.5 1892.6 2104.1 1891.5 2104.7 1890.4 2105.3 1889.3 2105.9 1888.2 2106.5 1887.1 2107.1 1885.9 2107.7 1884.7 2108.2 1883.6 2108.8 1882.4 2109.3 1881.1 2109.8 1879.9 2110.3 1878.7 2110.8 1877.4 2111.3 1876.1 2111.8 1874.9 2112.2 1873.6 2112.7 1872.3 2113.1 1870.9 2113.5 1869.6 2113.9 1868.3 2114.3 1866.9 2114.7 1865.5 2115.1 1864.2 2115.4 1862.8 2115.8 1861.4 2116.1 1860 2116.4 1858.6 2116.7 1857.2 2117 1855.8 2117.2 1854.3 2117.5 1852.9 2117.7 1851.5 2117.9 1850 2118.2 1848.6 2118.4 1847.1 2118.5 1845.6 2118.7 1844.2 2118.9 1842.7 2119 1841.2 2119.1 1839.8 2119.2 1838.3 2119.3 1836.8 2119.4 1835.3 2119.4 1833.9 2119.5 1832.4 2119.5 1830.9 2119.5 1829.4 2119.5 1828 2119.5 1826.5 2119.5 1825 2119.5 1823.5 2119.4 1822.1 2119.3 1820.6 2119.2 1819.2 2119.1 1817.7 2119 1816.3 2118.9 1814.8 2118.7 1813.4 2118.6 1811.9 2118.4 1810.5 2118.2 1809.1 2118 1807.7 2117.8 1806.3 2117.5 1804.9 2117.3 1803.5 2117 1802.1 2116.7 1800.8 2116.4 1799.4 2116.1 1798.1 2115.8 1796.7 2115.5 1795.4 2115.1 1794.1 2114.8 1792.8 2114.4 1791.5 2114 1790.2 2113.6 1789 2113.2 1787.7 2112.7 1786.5 2112.3 1785.3 2111.8 1784 2111.4 1782.9 2110.9 1781.7 2110.4 1780.5 2109.9 1779.4 2109.4 1778.2 2108.8 1777.1 2108.3 1776 2107.7 1775 2107.2 1773.9 2106.6 1772.9 2106 1771.9 2105.4 1770.8 2104.8 1769.9 2104.2 1768.9 2103.6 1768 2102.9 1767 2102.3 1766.1 2101.6 1765.2 2100.9 1764.4 2100.3 1763.5 2099.6 1762.7 2098.9 1761.9 2098.2 1761.1 2097.5 1760.4 2096.7 1759.7 2096 1759 2095.3 1758.3 2094.5 1757.6 2093.8 1757 2093 1756.3 2092.2 1755.7 2091.5 1755.2 2090.7 1754.6 2089.9 1754.1 2089.1 1753.6 2088.3 1753.1 2087.5 1752.7 2086.7 1752.3 2085.9 1751.9 2085.1 1751.5 2084.2 1751.1 2083.4 1750.8 2082.6 1750.5 2081.7 1750.2 2080.9 1750 2080.1 1749.8 2079.2 1749.6 2078.4 1749.4 2077.5 1749.2 2076.7 1749.1 2075.8 1749 2074.9 1749 2074.1 1748.9 2073.2 1748.9 2072.4 1748.9 2035.1 1748.9 2034.2 1748.9 2033.3 1749 2032.5 1749.1 2031.6 1749.2 2030.8 1749.3 2029.9 1749.5 2029 1749.7 2028.2 1749.9 2027.3 1750.1 2026.5 1750.4 2025.6 1750.7 2024.8 1751 2023.9 1751.3 2023.1 1751.7 2022.2 1752.1 2021.4 1752.5 2020.5 1752.9 2019.7 1753.4 2018.9 1753.9 2018 1754.4 2017.2 1754.9 2016.4 1755.5 2015.6 1756.1 2014.8 1756.7 2014 1757.3 2013.2 1758 2012.4 1758.7 2011.6 1759.4 2010.9 1760.1 2010.1 1760.8 2009.3 1761.6 2008.6 1762.4 2007.8 1763.2 2007.1 1764 2006.4 1764.9 2005.6 1765.7 2004.9 1766.6 2004.2 1767.6 2003.5 1768.5 2002.8 1769.4 2002.1 1770.4 2001.5 1771.4 2000.8 1772.4 2000.2 1773.5 1999.5 1774.5 1998.9 1775.6 1998.3 1776.7 1997.6 1777.8 1997 1778.9 1996.5 1780 1995.9 1781.2 1995.3 1782.3 1994.8 1783.5 1994.2 1784.7 1993.7 1785.9 1993.2 1787.2 1992.7 1788.4 1992.2 1789.7 1991.7 1790.9 1991.2 1792.2 1990.8 1793.5 1990.3 1794.8 1989.9 1796.1 1989.5 1797.5 1989 1798.8 1988.7 1800.2 1988.3 1801.5 1987.9 1802.9 1987.6 1804.3 1987.2 1805.7 1986.9 1807.1 1986.6 1808.5 1986.3 1809.9 1986 1811.3 1985.7 1812.8 1985.5 1814.2 1985.3 1815.6 1985 1817.1 1984.8 1818.5 1984.6 1820 1984.4 1821.4 1984.3 1822.9 1984.1 1824.4 1984 1825.8 1983.9 1827.3 1983.8 1828.8 1983.7 1830.3 1983.6 1831.7 1983.5 1833.2 1983.5 1834.7 1983.5 1836.2 1983.4 1837.7 1983.4 1839.1 1983.5 1840.6 1983.5 1842.1 1983.5 1843.5 1983.6 1845 1983.7 1846.5 1983.7 1847.9 1983.8 1849.4 1984 1850.8 1984.1 1852.3 1984.2 1853.7 1984.4 1855.1 1984.6 1856.6 1984.8 1858 1985 1859.4 1985.2 1860.8 1985.5 1862.2 1985.7 1863.6 1986 1865 1986.2 1866.3 1986.5 1867.7 1986.8 1869 1987.2 1870.4 1987.5 1871.7 1987.9 1873 1988.2 1874.3 1988.6 1875.6 1989 1876.9 1989.4 1878.1 1989.8 1879.4 1990.2 1880.6 1990.7 1881.8 1991.1 1883 1991.6 1884.2 1992.1 1885.4 1992.6 1886.6 1993.1 1887.7 1993.6 1888.8 1994.1 1889.9 1994.7 1891 1995.2 1892.1 1995.8 1893.2 1996.4 1894.2 1997 1895.2 1997.6 1896.2 1998.2 1897.2 1998.8 1898.2 1999.4 1899.1 2000.1 1900 2000.7 1900.9 2001.4 1901.8 2002 1902.7 2002.7 1903.5 2003.4 1904.4 2004.1 1905.2 2004.8 1905.9 2005.5 1906.7 2006.2 1907.4 2007 1908.1 2007.7 1908.8 2008.5 1909.5 2009.2 1910.1 2010 1910.7 2010.7 1911.3 2011.5 1911.9 2012.3 1912.4 2013.1 1913 2013.9 1913.5 2014.7 1913.9 2015.5 1914.4 2016.3 1914.8 2017.1 1915.2 2017.9 1915.6 2018.7 1915.9 2019.6 1916.3 2020.4 1916.6 2021.2 1916.8 2022.1 1917.1 2022.9 1917.3 2023.8 1917.5 2024.6 1917.7 2025.5 1917.8 2026.3 1918 2027.2 1918.1 2028 1918.1 2028.9 1918.2 2029.8Z" stroke-width="1.9" fill="#fff"/>
<ellipse cx="0" cy="0" rx="84.7" ry="49.3" transform="translate(1833.5 2070.1) rotate(-2.09)" stroke-width="1.9"/>
<path d="M788.7 1678L788 1680.5 761.3 1761.4 760.4 1763.9 759.4 1766.4 758.3 1768.9 757.2 1771.4 755.9 1773.8 754.7 1776.2 753.3 1778.6 751.9 1780.9 750.3 1783.2 748.8 1785.4 747.1 1787.7 745.4 1789.9 743.6 1792 741.7 1794.1 739.8 1796.2 737.7 1798.3 735.7 1800.3 733.5 1802.2 731.3 1804.2 729 1806 726.7 1807.9 724.3 1809.7 721.8 1811.4 719.2 1813.2 716.6 1814.8 714 1816.5 711.2 1818 708.4 1819.6 705.6 1821.1 702.7 1822.5 699.7 1823.9 696.7 1825.3 693.6 1826.6 690.5 1827.8 687.3 1829 684 1830.2 680.7 1831.3 677.4 1832.4 674 1833.4 670.5 1834.4 667 1835.3 663.5 1836.1 659.9 1836.9 656.3 1837.7 652.6 1838.4 648.9 1839.1 645.1 1839.7 641.3 1840.3 637.4 1840.8 633.6 1841.2 629.6 1841.6 625.7 1842 621.7 1842.3 617.7 1842.5 613.6 1842.7 609.5 1842.8 605.4 1842.9 601.2 1843 597.1 1842.9 592.9 1842.9 588.6 1842.7 584.4 1842.6 580.1 1842.3 575.8 1842.1 571.5 1841.7 567.2 1841.3 562.9 1840.9 558.5 1840.4 554.1 1839.9 549.7 1839.3 545.3 1838.6 540.9 1837.9 536.5 1837.2 532.1 1836.4 527.6 1835.5 523.2 1834.7 518.7 1833.7 514.3 1832.7 509.9 1831.7 505.4 1830.6 501 1829.4 496.5 1828.2 492.1 1827 487.7 1825.7 483.2 1824.3 478.8 1823 474.4 1821.5 470 1820.1 465.7 1818.5 461.3 1817 456.9 1815.3 452.6 1813.7 448.3 1812 444 1810.2 439.7 1808.5 435.5 1806.6 431.2 1804.8 427 1802.8 422.9 1800.9 418.7 1798.9 414.6 1796.9 410.5 1794.8 406.4 1792.7 402.4 1790.6 398.4 1788.4 394.4 1786.2 390.5 1783.9 386.6 1781.6 382.7 1779.3 378.9 1776.9 375.2 1774.6 371.4 1772.1 367.7 1769.7 364.1 1767.2 360.5 1764.7 356.9 1762.2 353.4 1759.6 350 1757 346.6 1754.4 343.2 1751.7 339.9 1749.1 336.6 1746.4 333.4 1743.6 330.3 1740.9 327.2 1738.1 324.1 1735.4 321.2 1732.6 318.2 1729.7 315.4 1726.9 312.6 1724 309.8 1721.2 307.1 1718.3 304.5 1715.4 302 1712.5 299.5 1709.5 297.1 1706.6 294.7 1703.6 292.4 1700.7 290.2 1697.7 288 1694.7 285.9 1691.7 283.9 1688.7 281.9 1685.7 280 1682.7 278.2 1679.7 276.5 1676.7 274.8 1673.7 273.2 1670.7 271.7 1667.7 270.2 1664.7 268.8 1661.6 267.5 1658.6 266.3 1655.6 265.1 1652.6 264.1 1649.6 263 1646.6 262.1 1643.7 261.3 1640.7 260.5 1637.7 259.8 1634.8 259.1 1631.8 258.6 1628.9 258.1 1626 257.7 1623.1 257.4 1620.2 257.2 1617.3 257 1614.4 256.9 1611.6 256.9 1608.7 257 1605.9 257.1 1603.2 257.4 1600.4 257.7 1597.6 258 1594.9 258.5 1592.2 259 1589.5 259.6 1586.9 260.3 1584.2 261.1 1581.6 261.9 1579.1 262.8 1576.5 263.8 1574 264.9 1571.5 266 1569.1 304.5 1486.3 305.9 1484.2 307.4 1482.1 309 1480 310.6 1477.9 312.4 1475.9 314.1 1473.9 316 1472 317.9 1470.1 319.9 1468.2 322 1466.4 324.1 1464.6 326.3 1462.8 328.5 1461.1 330.9 1459.5 333.2 1457.8 335.7 1456.2 338.2 1454.7 340.8 1453.2 343.4 1451.7 346.1 1450.3 348.9 1448.9 351.7 1447.6 354.6 1446.3 357.5 1445.1 360.5 1443.9 363.5 1442.7 366.6 1441.6 369.8 1440.6 373 1439.5 376.2 1438.6 379.5 1437.7 382.9 1436.8 386.3 1436 389.7 1435.2 393.2 1434.5 396.8 1433.8 400.4 1433.2 404 1432.6 407.7 1432.1 411.4 1431.6 415.1 1431.1 418.9 1430.8 422.7 1430.4 426.6 1430.1 430.5 1429.9 434.4 1429.7 438.4 1429.6 442.4 1429.5 446.4 1429.5 450.5 1429.5 454.5 1429.6 458.7 1429.7 462.8 1429.9 466.9 1430.1 471.1 1430.3 475.3 1430.7 479.6 1431 483.8 1431.4 488.1 1431.9 492.3 1432.4 496.6 1433 500.9 1433.6 505.2 1434.3 509.6 1435 513.9 1435.7 518.3 1436.5 522.6 1437.4 527 1438.3 531.3 1439.3 535.7 1440.3 540.1 1441.3 544.4 1442.4 548.8 1443.5 553.2 1444.7 557.5 1445.9 561.9 1447.2 566.2 1448.5 570.6 1449.9 574.9 1451.3 579.3 1452.8 583.6 1454.2 587.9 1455.8 592.1 1457.4 596.4 1459 600.7 1460.6 604.9 1462.3 609.1 1464.1 613.3 1465.9 617.5 1467.7 621.6 1469.5 625.8 1471.4 629.9 1473.4 633.9 1475.3 638 1477.3 642 1479.4 646 1481.5 650 1483.6 653.9 1485.7 657.8 1487.9 661.6 1490.1 665.4 1492.3 669.2 1494.6 672.9 1496.9 676.6 1499.2 680.3 1501.6 683.9 1504 687.5 1506.4 691 1508.8 694.5 1511.3 697.9 1513.8 701.3 1516.3 704.6 1518.9 707.9 1521.4 711.2 1524 714.3 1526.6 717.5 1529.2 720.6 1531.9 723.6 1534.6 726.5 1537.2 729.5 1539.9 732.3 1542.7 735.1 1545.4 737.8 1548.1 740.5 1550.9 743.1 1553.7 745.7 1556.5 748.2 1559.3 750.6 1562.1 753 1564.9 755.3 1567.7 757.5 1570.5 759.7 1573.4 761.8 1576.2 763.8 1579.1 765.8 1581.9 767.7 1584.8 769.5 1587.7 771.3 1590.5 773 1593.4 774.6 1596.3 776.1 1599.1 777.6 1602 779 1604.9 780.4 1607.7 781.6 1610.6 782.8 1613.4 783.9 1616.3 785 1619.1 785.9 1621.9 786.8 1624.7 787.6 1627.6 788.4 1630.4 789 1633.1 789.6 1635.9 790.1 1638.7 790.6 1641.4 790.9 1644.2 791.2 1646.9 791.4 1649.6 791.6 1652.3 791.6 1654.9 791.6 1657.6 791.5 1660.2 791.3 1662.8 791.1 1665.4 790.8 1668 790.4 1670.5 789.9 1673 789.3 1675.5Z" stroke-width="1.9" fill="#fff"/>
<ellipse cx="0" cy="0" rx="265.8" ry="155.1" transform="translate(511.6 1670.2) rotate(20.64)" stroke-width="1.9"/>
<ellipse cx="0" cy="0" rx="251.2" ry="145.1" transform="translate(509.4 1670.8) rotate(18.88)" stroke-width="1.9"/>
<path d="M1907.9 1769.6L1902.8 1657.8 1904.8 1654.1 1907 1650.3 1909.1 1646.6 1911.4 1642.9 1913.7 1639.3 1916.1 1635.7 1918.5 1632 1921.1 1628.5 1923.6 1624.9 1926.3 1621.4 1929 1617.9 1931.8 1614.5 1934.6 1611.1 1937.5 1607.7 1940.4 1604.4 1943.5 1601.1 1946.5 1597.8 1949.6 1594.6 1952.8 1591.4 1956.1 1588.3 1959.4 1585.2 1962.7 1582.1 1966.1 1579.1 1969.5 1576.2 1973 1573.2 1976.6 1570.4 1980.2 1567.6 1983.8 1564.8 1987.5 1562.1 1991.2 1559.4 1995 1556.8 1998.8 1554.2 2002.7 1551.7 2006.6 1549.3 2010.5 1546.9 2014.5 1544.5 2018.5 1542.2 2022.5 1540 2026.6 1537.8 2030.7 1535.7 2034.8 1533.6 2039 1531.6 2043.2 1529.7 2047.4 1527.8 2051.7 1526 2055.9 1524.3 2060.2 1522.6 2064.5 1521 2068.9 1519.4 2073.2 1517.9 2077.6 1516.5 2082 1515.1 2086.4 1513.8 2090.8 1512.6 2095.3 1511.4 2099.7 1510.3 2104.2 1509.2 2108.6 1508.3 2113.1 1507.4 2117.6 1506.5 2122 1505.8 2126.5 1505.1 2131 1504.4 2135.5 1503.9 2140 1503.4 2144.5 1503 2148.9 1502.6 2153.4 1502.3 2157.9 1502.1 2162.3 1502 2166.8 1501.9 2171.2 1501.9 2175.6 1501.9 2180 1502.1 2184.4 1502.3 2188.8 1502.6 2193.1 1502.9 2197.5 1503.3 2201.8 1503.8 2206.1 1504.3 2210.4 1505 2214.6 1505.6 2218.8 1506.4 2223 1507.2 2227.2 1508.1 2231.3 1509.1 2235.5 1510.1 2239.5 1511.2 2243.6 1512.3 2247.6 1513.6 2251.6 1514.9 2255.5 1516.2 2259.4 1517.6 2263.2 1519.1 2267.1 1520.7 2270.8 1522.3 2274.6 1524 2278.2 1525.7 2281.9 1527.5 2285.5 1529.4 2289 1531.3 2292.5 1533.3 2296 1535.3 2299.4 1537.4 2302.7 1539.6 2306 1541.8 2309.3 1544.1 2312.4 1546.4 2315.6 1548.8 2318.6 1551.3 2321.7 1553.8 2324.6 1556.3 2327.5 1558.9 2330.3 1561.6 2333.1 1564.3 2335.8 1567.1 2338.5 1569.9 2341.1 1572.7 2343.6 1575.6 2346 1578.6 2348.4 1581.6 2350.7 1584.6 2353 1587.7 2355.2 1590.8 2357.3 1594 2359.3 1597.2 2361.3 1600.5 2363.2 1603.8 2365.1 1607.1 2366.8 1610.5 2368.5 1613.9 2370.1 1617.3 2371.7 1620.8 2373.1 1624.3 2374.5 1627.8 2375.8 1631.4 2377.1 1635 2378.3 1638.6 2379.3 1642.3 2380.4 1646 2381.3 1649.7 2382.2 1653.4 2382.9 1657.2 2389.8 1692.8 2390.2 1695.5 2390.6 1698.1 2390.9 1700.8 2391.2 1703.5 2391.3 1706.2 2391.4 1708.9 2391.4 1711.6 2391.4 1714.4 2391.3 1717.1 2391.1 1719.8 2390.8 1722.6 2390.4 1725.3 2390 1728.1 2389.5 1730.8 2389 1733.6 2388.3 1736.4 2387.6 1739.1 2386.8 1741.9 2386 1744.6 2385 1747.4 2384 1750.2 2382.9 1752.9 2381.8 1755.7 2380.6 1758.4 2379.3 1761.1 2377.9 1763.9 2376.5 1766.6 2375 1769.3 2373.5 1772 2371.8 1774.7 2370.1 1777.4 2368.4 1780 2366.5 1782.7 2364.6 1785.3 2362.7 1787.9 2360.6 1790.6 2358.5 1793.2 2356.4 1795.7 2354.2 1798.3 2351.9 1800.8 2349.5 1803.4 2347.1 1805.9 2344.7 1808.3 2342.1 1810.8 2339.6 1813.2 2336.9 1815.7 2334.2 1818.1 2331.5 1820.4 2328.7 1822.8 2325.8 1825.1 2322.9 1827.4 2319.9 1829.6 2316.9 1831.9 2313.8 1834.1 2310.7 1836.3 2307.5 1838.4 2304.3 1840.5 2301 1842.6 2297.7 1844.7 2294.3 1846.7 2290.9 1848.7 2287.5 1850.6 2284 1852.5 2280.5 1854.4 2276.9 1856.3 2273.3 1858.1 2269.7 1859.9 2266 1861.6 2262.3 1863.3 2258.5 1865 2254.7 1866.6 2250.9 1868.2 2247.1 1869.7 2243.2 1871.2 2239.3 1872.7 2235.3 1874.1 2231.4 1875.5 2227.4 1876.9 2223.4 1878.2 2219.4 1879.4 2215.3 1880.6 2211.2 1881.8 2207.1 1882.9 2203 1884 2198.9 1885 2194.8 1886 2190.6 1887 2186.4 1887.9 2182.3 1888.7 2178.1 1889.5 2173.9 1890.3 2169.7 1891 2165.5 1891.7 2161.3 1892.3 2157 1892.9 2152.8 1893.4 2148.6 1893.9 2144.4 1894.4 2140.2 1894.7 2135.9 1895.1 2131.7 1895.4 2127.5 1895.6 2123.3 1895.8 2119.1 1896 2115 1896.1 2110.8 1896.1 2106.6 1896.1 2102.5 1896.1 2098.3 1896 2094.2 1895.8 2090.1 1895.6 2086 1895.4 2082 1895.1 2077.9 1894.8 2073.9 1894.4 2069.9 1894 2065.9 1893.5 2062 1893 2058.1 1892.4 2054.2 1891.8 2050.3 1891.1 2046.5 1890.4 2042.7 1889.7 2038.9 1888.8 2035.2 1888 2031.5 1887.1 2027.8 1886.2 2024.2 1885.2 2020.6 1884.1 2017 1883.1 2013.5 1881.9 2010.1 1880.8 2006.6 1879.6 2003.3 1878.3 1999.9 1877 1996.6 1875.7 1993.4 1874.3 1990.2 1872.9 1987 1871.4 1983.9 1869.9 1980.9 1868.4 1977.9 1866.8 1974.9 1865.2 1972 1863.5 1969.2 1861.8 1966.4 1860.1 1963.7 1858.3 1961 1856.5 1958.4 1854.7 1955.9 1852.8 1953.4 1850.9 1950.9 1848.9 1948.5 1846.9 1946.2 1844.9 1944 1842.9 1941.8 1840.8 1939.7 1838.7 1937.6 1836.5 1935.6 1834.4 1933.7 1832.2 1931.8 1829.9 1930 1827.7 1928.3 1825.4 1926.6 1823.1 1925 1820.7 1923.5 1818.4 1922 1816 1920.6 1813.6 1919.3 1811.1 1918 1808.7 1916.9 1806.2 1915.7 1803.7 1914.7 1801.2 1913.7 1798.6 1912.8 1796.1 1912 1793.5 1911.3 1790.9 1910.6 1788.3 1910 1785.7 1909.4 1783 1909 1780.4 1908.6 1777.7 1908.3 1775 1908 1772.3Z" stroke-width="1.9" fill="#fff"/>
<ellipse cx="0" cy="0" rx="244.4" ry="154.3" transform="translate(2149.6 1737.9) rotate(-10.64)" stroke-width="1.9"/>
<ellipse cx="0" cy="0" rx="231.9" ry="144" transform="translate(2152.7 1739.1) rotate(-11.41)" stroke-width="1.9"/>
<path d="M805 2122.3L814.5 2053 815.1 2051.4 815.8 2049.7 816.5 2048 817.3 2046.4 818.2 2044.7 819.1 2043.1 820 2041.5 821.1 2039.9 822.1 2038.3 823.3 2036.7 824.4 2035.2 825.7 2033.7 827 2032.1 828.3 2030.6 829.7 2029.1 831.2 2027.7 832.7 2026.2 834.2 2024.8 835.8 2023.3 837.5 2021.9 839.2 2020.5 840.9 2019.2 842.7 2017.8 844.6 2016.5 846.5 2015.2 848.4 2013.9 850.4 2012.7 852.5 2011.5 854.5 2010.2 856.7 2009 858.8 2007.9 861.1 2006.7 863.3 2005.6 865.6 2004.5 868 2003.5 870.3 2002.4 872.8 2001.4 875.2 2000.4 877.7 1999.4 880.3 1998.5 882.9 1997.6 885.5 1996.7 888.1 1995.8 890.8 1995 893.5 1994.2 896.3 1993.4 899.1 1992.7 901.9 1991.9 904.7 1991.3 907.6 1990.6 910.5 1990 913.4 1989.4 916.4 1988.8 919.4 1988.2 922.4 1987.7 925.4 1987.2 928.5 1986.8 931.5 1986.3 934.6 1985.9 937.7 1985.6 940.9 1985.2 944 1984.9 947.2 1984.7 950.4 1984.4 953.6 1984.2 956.8 1984 960.1 1983.9 963.3 1983.8 966.6 1983.7 969.8 1983.6 973.1 1983.6 976.4 1983.6 979.7 1983.6 983 1983.7 986.3 1983.8 989.6 1983.9 992.9 1984.1 996.2 1984.3 999.6 1984.5 1002.9 1984.8 1006.2 1985.1 1009.5 1985.4 1012.8 1985.7 1016.1 1986.1 1019.4 1986.5 1022.7 1986.9 1026 1987.4 1029.3 1987.9 1032.6 1988.4 1035.8 1989 1039.1 1989.6 1042.3 1990.2 1045.6 1990.8 1048.8 1991.5 1052 1992.2 1055.2 1992.9 1058.3 1993.7 1061.5 1994.5 1064.6 1995.3 1067.7 1996.2 1070.8 1997 1073.9 1997.9 1077 1998.8 1080 1999.8 1083 2000.8 1086 2001.8 1088.9 2002.8 1091.8 2003.9 1094.7 2004.9 1097.6 2006 1100.4 2007.2 1103.2 2008.3 1106 2009.5 1108.7 2010.7 1111.5 2011.9 1114.1 2013.2 1116.8 2014.4 1119.4 2015.7 1121.9 2017 1124.5 2018.4 1127 2019.7 1129.4 2021.1 1131.8 2022.5 1134.2 2023.9 1136.5 2025.3 1138.8 2026.7 1141.1 2028.2 1143.3 2029.7 1145.4 2031.2 1147.6 2032.7 1149.6 2034.2 1151.7 2035.8 1153.6 2037.3 1155.6 2038.9 1157.5 2040.5 1159.3 2042.1 1161.1 2043.7 1162.8 2045.4 1164.5 2047 1166.2 2048.7 1167.7 2050.3 1169.3 2052 1170.8 2053.7 1172.2 2055.4 1173.6 2057.1 1174.9 2058.8 1176.2 2060.5 1177.4 2062.3 1178.6 2064 1179.7 2065.7 1180.7 2067.5 1181.7 2069.2 1182.7 2071 1183.6 2072.8 1184.4 2074.5 1185.2 2076.3 1185.9 2078.1 1186.6 2079.8 1187.2 2081.6 1187.7 2083.4 1188.2 2085.2 1188.7 2087 1189 2088.7 1189.4 2090.5 1189.6 2092.3 1189.8 2094.1 1190 2095.8 1190 2097.6 1190.1 2099.4 1190 2101.1 1187.8 2163.4 1187.8 2165.2 1187.6 2166.9 1187.5 2168.7 1187.2 2170.5 1186.9 2172.2 1186.6 2174 1186.1 2175.7 1185.7 2177.4 1185.1 2179.2 1184.5 2180.9 1183.9 2182.6 1183.2 2184.2 1182.4 2185.9 1181.6 2187.6 1180.7 2189.2 1179.8 2190.9 1178.8 2192.5 1177.8 2194.1 1176.7 2195.7 1175.5 2197.3 1174.3 2198.8 1173 2200.4 1171.7 2201.9 1170.4 2203.4 1168.9 2204.9 1167.5 2206.4 1165.9 2207.9 1164.4 2209.3 1162.7 2210.7 1161 2212.1 1159.3 2213.5 1157.5 2214.8 1155.7 2216.2 1153.8 2217.5 1151.9 2218.8 1149.9 2220.1 1147.9 2221.3 1145.8 2222.5 1143.7 2223.7 1141.6 2224.9 1139.4 2226.1 1137.1 2227.2 1134.8 2228.3 1132.5 2229.4 1130.1 2230.4 1127.7 2231.5 1125.3 2232.5 1122.8 2233.5 1120.2 2234.4 1117.7 2235.3 1115.1 2236.2 1112.4 2237.1 1109.8 2237.9 1107 2238.7 1104.3 2239.5 1101.5 2240.3 1098.7 2241 1095.9 2241.7 1093 2242.4 1090.1 2243 1087.2 2243.6 1084.2 2244.2 1081.2 2244.7 1078.2 2245.2 1075.2 2245.7 1072.1 2246.2 1069 2246.6 1065.9 2247 1062.8 2247.4 1059.7 2247.7 1056.5 2248 1053.3 2248.3 1050.1 2248.5 1046.9 2248.7 1043.7 2248.9 1040.4 2249 1037.2 2249.2 1033.9 2249.2 1030.6 2249.3 1027.3 2249.3 1024 2249.3 1020.7 2249.3 1017.4 2249.2 1014 2249.1 1010.7 2248.9 1007.4 2248.8 1004 2248.6 1000.7 2248.3 997.3 2248.1 994 2247.8 990.6 2247.4 987.3 2247.1 984 2246.7 980.6 2246.3 977.3 2245.8 974 2245.3 970.7 2244.8 967.3 2244.3 964 2243.7 960.8 2243.1 957.5 2242.5 954.2 2241.8 950.9 2241.1 947.7 2240.4 944.5 2239.7 941.3 2238.9 938.1 2238.1 934.9 2237.2 931.7 2236.4 928.6 2235.5 925.5 2234.6 922.4 2233.6 919.3 2232.7 916.3 2231.7 913.2 2230.6 910.2 2229.6 907.2 2228.5 904.3 2227.4 901.4 2226.3 898.5 2225.1 895.6 2224 892.8 2222.8 890 2221.5 887.2 2220.3 884.5 2219 881.8 2217.7 879.1 2216.4 876.5 2215.1 873.9 2213.7 871.4 2212.4 868.8 2211 866.4 2209.6 863.9 2208.1 861.5 2206.7 859.2 2205.2 856.8 2203.7 854.6 2202.2 852.3 2200.7 850.2 2199.1 848 2197.6 845.9 2196 843.9 2194.4 841.9 2192.8 839.9 2191.2 838 2189.5 836.1 2187.9 834.3 2186.2 832.6 2184.6 830.8 2182.9 829.2 2181.2 827.6 2179.5 826 2177.8 824.5 2176 823 2174.3 821.6 2172.5 820.3 2170.8 819 2169 817.7 2167.3 816.5 2165.5 815.4 2163.7 814.3 2161.9 813.3 2160.1 812.3 2158.3 811.4 2156.5 810.6 2154.7 809.8 2152.9 809 2151.1 808.3 2149.3 807.7 2147.5 807.1 2145.7 806.6 2143.9 806.2 2142.1 805.8 2140.3 805.4 2138.5 805.2 2136.6 804.9 2134.8 804.8 2133 804.7 2131.2 804.6 2129.5 804.6 2127.7 804.7 2125.9 804.8 2124.1Z" stroke-width="1.9" fill="#fff"/>
<ellipse cx="0" cy="0" rx="192.6" ry="101.9" transform="translate(996.2 2145.5) rotate(6.91)" stroke-width="1.9"/>
<ellipse cx="0" cy="0" rx="180.6" ry="92" transform="translate(995.8 2147.5) rotate(6.35)" stroke-width="1.9"/>
<path d="M2443.4 2097.4L2458.1 2189.1 2458.4 2191.1 2458.6 2193.1 2458.8 2195.1 2458.9 2197.1 2459 2199.1 2458.9 2201.1 2458.9 2203.2 2458.7 2205.2 2458.6 2207.2 2458.3 2209.3 2458 2211.3 2457.6 2213.3 2457.2 2215.4 2456.7 2217.4 2456.2 2219.4 2455.6 2221.5 2454.9 2223.5 2454.2 2225.5 2453.4 2227.6 2452.6 2229.6 2451.7 2231.6 2450.8 2233.6 2449.8 2235.6 2448.7 2237.6 2447.6 2239.6 2446.4 2241.5 2445.2 2243.5 2443.9 2245.5 2442.6 2247.4 2441.2 2249.4 2439.7 2251.3 2438.2 2253.2 2436.7 2255.1 2435 2257 2433.4 2258.9 2431.7 2260.7 2429.9 2262.6 2428.1 2264.4 2426.2 2266.2 2424.3 2268 2422.4 2269.8 2420.3 2271.6 2418.3 2273.3 2416.2 2275.1 2414 2276.8 2411.8 2278.5 2409.6 2280.1 2407.3 2281.8 2405 2283.4 2402.6 2285 2400.2 2286.6 2397.7 2288.2 2395.2 2289.7 2392.7 2291.2 2390.1 2292.7 2387.5 2294.2 2384.8 2295.6 2382.1 2297 2379.4 2298.4 2376.6 2299.8 2373.8 2301.1 2371 2302.4 2368.1 2303.7 2365.2 2305 2362.3 2306.2 2359.4 2307.4 2356.4 2308.6 2353.4 2309.7 2350.3 2310.8 2347.2 2311.9 2344.1 2313 2341 2314 2337.9 2315 2334.7 2315.9 2331.5 2316.9 2328.3 2317.8 2325.1 2318.6 2321.8 2319.4 2318.6 2320.2 2315.3 2321 2312 2321.7 2308.7 2322.4 2305.4 2323.1 2302 2323.7 2298.7 2324.3 2295.3 2324.9 2292 2325.4 2288.6 2325.9 2285.2 2326.4 2281.8 2326.8 2278.4 2327.2 2275 2327.6 2271.6 2327.9 2268.2 2328.2 2264.8 2328.4 2261.4 2328.6 2258 2328.8 2254.5 2329 2251.1 2329.1 2247.7 2329.1 2244.3 2329.2 2240.9 2329.2 2237.6 2329.2 2234.2 2329.1 2230.8 2329 2227.5 2328.8 2224.1 2328.7 2220.8 2328.5 2217.5 2328.2 2214.2 2327.9 2210.9 2327.6 2207.6 2327.3 2204.3 2326.9 2201.1 2326.5 2197.9 2326 2194.7 2325.5 2191.5 2325 2188.3 2324.4 2185.2 2323.8 2182.1 2323.2 2179 2322.5 2175.9 2321.8 2172.9 2321.1 2169.9 2320.4 2166.9 2319.6 2164 2318.7 2161 2317.9 2158.1 2317 2155.3 2316.1 2152.5 2315.1 2149.7 2314.1 2146.9 2313.1 2144.2 2312.1 2141.5 2311 2138.9 2309.9 2136.3 2308.7 2133.7 2307.6 2131.2 2306.4 2128.7 2305.2 2126.2 2303.9 2123.8 2302.6 2121.5 2301.3 2119.1 2300 2116.9 2298.6 2114.6 2297.2 2112.5 2295.8 2110.3 2294.4 2108.2 2292.9 2106.2 2291.4 2104.2 2289.9 2102.2 2288.4 2100.3 2286.8 2098.5 2285.2 2096.7 2283.6 2094.9 2282 2093.2 2280.4 2091.6 2278.7 2090 2277 2088.4 2275.3 2087 2273.6 2085.5 2271.8 2084.1 2270.1 2082.8 2268.3 2081.6 2266.5 2080.3 2264.7 2079.2 2262.9 2078.1 2261 2077 2259.2 2076 2257.3 2075.1 2255.4 2074.2 2253.5 2073.4 2251.6 2072.7 2249.7 2072 2247.7 2071.3 2245.8 2070.7 2243.8 2070.2 2241.8 2069.7 2239.9 2069.3 2237.9 2069 2235.9 2068.7 2233.9 2068.5 2231.9 2068.3 2229.9 2068.2 2227.9 2068.1 2225.8 2067.6 2133.5 2068.7 2131.2 2069.8 2128.9 2070.9 2126.6 2072.1 2124.3 2073.4 2122 2074.7 2119.7 2076.1 2117.5 2077.6 2115.2 2079.1 2113 2080.7 2110.8 2082.3 2108.6 2084 2106.5 2085.7 2104.3 2087.5 2102.2 2089.4 2100.1 2091.3 2098.1 2093.3 2096 2095.3 2094 2097.3 2092 2099.5 2090 2101.6 2088.1 2103.9 2086.1 2106.2 2084.2 2108.5 2082.4 2110.9 2080.5 2113.3 2078.7 2115.8 2076.9 2118.3 2075.2 2120.9 2073.4 2123.5 2071.7 2126.1 2070.1 2128.8 2068.5 2131.6 2066.9 2134.4 2065.3 2137.2 2063.8 2140.1 2062.3 2143 2060.8 2145.9 2059.4 2148.9 2058 2151.9 2056.6 2155 2055.3 2158.1 2054 2161.2 2052.7 2164.4 2051.5 2167.6 2050.3 2170.8 2049.2 2174 2048.1 2177.3 2047 2180.6 2046 2184 2045 2187.3 2044.1 2190.7 2043.2 2194.2 2042.3 2197.6 2041.5 2201 2040.7 2204.5 2039.9 2208 2039.2 2211.5 2038.6 2215.1 2038 2218.6 2037.4 2222.2 2036.8 2225.8 2036.3 2229.4 2035.9 2233 2035.5 2236.6 2035.1 2240.2 2034.8 2243.9 2034.5 2247.5 2034.3 2251.2 2034.1 2254.8 2033.9 2258.5 2033.8 2262.2 2033.7 2265.8 2033.7 2269.5 2033.7 2273.2 2033.8 2276.8 2033.9 2280.5 2034 2284.2 2034.2 2287.8 2034.4 2291.5 2034.7 2295.1 2035 2298.8 2035.3 2302.4 2035.7 2306 2036.2 2309.6 2036.7 2313.2 2037.2 2316.8 2037.8 2320.4 2038.4 2323.9 2039 2327.4 2039.7 2331 2040.4 2334.4 2041.2 2337.9 2042 2341.4 2042.9 2344.8 2043.8 2348.2 2044.7 2351.6 2045.7 2355 2046.7 2358.3 2047.7 2361.6 2048.8 2364.9 2050 2368.1 2051.1 2371.3 2052.3 2374.5 2053.6 2377.7 2054.8 2380.8 2056.2 2383.9 2057.5 2386.9 2058.9 2390 2060.3 2392.9 2061.8 2395.9 2063.2 2398.8 2064.8 2401.6 2066.3 2404.5 2067.9 2407.2 2069.5 2410 2071.2 2412.7 2072.9 2415.3 2074.6 2417.9 2076.3 2420.5 2078.1 2423 2079.9 2425.5 2081.7 2427.9 2083.6 2430.2 2085.5 2432.6 2087.4 2434.8 2089.4 2437 2091.3 2439.2 2093.3 2441.3 2095.3Z" stroke-width="1.9" fill="#fff"/>
<ellipse cx="0" cy="0" rx="196" ry="115.7" transform="translate(2263.5 2212.5) rotate(-5.68)" stroke-width="1.9"/>
<ellipse cx="0" cy="0" rx="184.8" ry="104.7" transform="translate(2263.6 2213.3) rotate(-6.61)" stroke-width="1.9"/>
<path d="M1287.3 1933.8L1287.3 1931.9 1287.4 1930.1 1287.6 1928.3 1287.8 1926.4 1288 1924.6 1288.4 1922.8 1288.8 1920.9 1289.2 1919.1 1289.8 1917.3 1290.4 1915.5 1291 1913.7 1291.7 1911.9 1292.5 1910.1 1293.3 1908.3 1294.2 1906.5 1295.2 1904.7 1296.2 1903 1297.3 1901.2 1298.4 1899.4 1299.6 1897.7 1300.9 1896 1302.2 1894.3 1303.6 1892.6 1305 1890.9 1306.5 1889.2 1308.1 1887.5 1309.7 1885.9 1311.3 1884.2 1313.1 1882.6 1314.8 1881 1316.7 1879.4 1318.5 1877.8 1320.5 1876.3 1322.5 1874.7 1324.5 1873.2 1326.6 1871.7 1328.8 1870.2 1331 1868.7 1333.2 1867.3 1335.5 1865.8 1337.8 1864.4 1340.2 1863 1342.7 1861.7 1345.2 1860.3 1347.7 1859 1350.3 1857.7 1352.9 1856.4 1355.5 1855.2 1358.3 1853.9 1361 1852.7 1363.8 1851.6 1366.6 1850.4 1369.5 1849.3 1372.4 1848.2 1375.3 1847.1 1378.3 1846 1381.3 1845 1384.4 1844 1387.5 1843 1390.6 1842.1 1393.7 1841.1 1396.9 1840.2 1400.1 1839.4 1403.3 1838.5 1406.6 1837.7 1409.9 1836.9 1413.2 1836.2 1416.6 1835.5 1419.9 1834.8 1423.3 1834.1 1426.7 1833.5 1430.2 1832.9 1433.6 1832.3 1437.1 1831.8 1440.6 1831.3 1444.1 1830.8 1447.6 1830.3 1451.1 1829.9 1454.7 1829.5 1458.2 1829.2 1461.8 1828.9 1465.4 1828.6 1469 1828.3 1472.6 1828.1 1476.2 1827.9 1479.8 1827.7 1483.4 1827.6 1487 1827.5 1490.6 1827.4 1494.2 1827.4 1497.9 1827.4 1501.5 1827.4 1505.1 1827.5 1508.7 1827.6 1512.3 1827.7 1515.9 1827.9 1519.5 1828.1 1523.1 1828.3 1526.7 1828.5 1530.3 1828.8 1533.9 1829.1 1537.4 1829.5 1540.9 1829.9 1544.5 1830.3 1548 1830.7 1551.5 1831.2 1554.9 1831.7 1558.4 1832.2 1561.8 1832.8 1565.3 1833.4 1568.6 1834 1572 1834.7 1575.4 1835.3 1578.7 1836.1 1582 1836.8 1585.3 1837.6 1588.5 1838.4 1591.7 1839.2 1594.9 1840.1 1598.1 1841 1601.2 1841.9 1604.3 1842.8 1607.3 1843.8 1610.4 1844.8 1613.4 1845.8 1616.3 1846.9 1619.2 1848 1622.1 1849.1 1625 1850.2 1627.8 1851.3 1630.5 1852.5 1633.2 1853.7 1635.9 1854.9 1638.5 1856.2 1641.1 1857.5 1643.7 1858.8 1646.2 1860.1 1648.6 1861.4 1651 1862.8 1653.4 1864.2 1655.7 1865.6 1658 1867 1660.2 1868.5 1662.3 1869.9 1664.5 1871.4 1666.5 1872.9 1668.5 1874.4 1670.5 1876 1672.4 1877.5 1674.2 1879.1 1676 1880.7 1677.8 1882.3 1679.4 1883.9 1681.1 1885.6 1682.6 1887.2 1684.1 1888.9 1685.6 1890.6 1687 1892.2 1688.3 1894 1689.6 1895.7 1690.8 1897.4 1692 1899.1 1693.1 1900.9 1694.1 1902.6 1695.1 1904.4 1696 1906.2 1696.9 1908 1697.6 1909.7 1698.4 1911.5 1699 1913.3 1699.7 1915.2 1700.2 1917 1700.7 1918.8 1701.1 1920.6 1701.5 1922.4 1701.8 1924.3 1702 1926.1 1702.2 1927.9 1702.3 1929.8 1702.3 1931.6 1703.8 2043 1703.3 2045.3 1702.7 2047.5 1702 2049.7 1701.3 2051.9 1700.6 2054 1699.8 2056.2 1698.9 2058.4 1697.9 2060.5 1696.9 2062.7 1695.8 2064.8 1694.7 2066.9 1693.5 2069 1692.2 2071.1 1690.9 2073.1 1689.5 2075.2 1688.1 2077.2 1686.6 2079.2 1685 2081.2 1683.4 2083.2 1681.7 2085.1 1680 2087 1678.2 2089 1676.4 2090.8 1674.4 2092.7 1672.5 2094.6 1670.5 2096.4 1668.4 2098.2 1666.3 2100 1664.1 2101.7 1661.9 2103.4 1659.6 2105.1 1657.3 2106.8 1654.9 2108.4 1652.5 2110.1 1650 2111.7 1647.4 2113.2 1644.9 2114.7 1642.3 2116.2 1639.6 2117.7 1636.9 2119.2 1634.1 2120.6 1631.3 2122 1628.5 2123.3 1625.6 2124.6 1622.7 2125.9 1619.7 2127.2 1616.7 2128.4 1613.7 2129.6 1610.6 2130.7 1607.5 2131.8 1604.4 2132.9 1601.2 2134 1598 2135 1594.7 2136 1591.5 2136.9 1588.2 2137.8 1584.8 2138.7 1581.5 2139.5 1578.1 2140.3 1574.7 2141.1 1571.2 2141.8 1567.8 2142.5 1564.3 2143.1 1560.8 2143.7 1557.3 2144.3 1553.7 2144.8 1550.2 2145.3 1546.6 2145.8 1543 2146.2 1539.4 2146.5 1535.7 2146.9 1532.1 2147.2 1528.5 2147.4 1524.8 2147.6 1521.1 2147.8 1517.4 2148 1513.8 2148.1 1510.1 2148.1 1506.4 2148.1 1502.7 2148.1 1499 2148.1 1495.3 2148 1491.6 2147.8 1487.9 2147.6 1484.2 2147.4 1480.5 2147.2 1476.8 2146.9 1473.1 2146.5 1469.4 2146.2 1465.7 2145.7 1462.1 2145.3 1458.4 2144.8 1454.8 2144.3 1451.1 2143.7 1447.5 2143.1 1443.9 2142.5 1440.3 2141.8 1436.7 2141.1 1433.2 2140.3 1429.6 2139.5 1426.1 2138.7 1422.6 2137.8 1419.2 2136.9 1415.7 2136 1412.3 2135 1408.9 2134 1405.5 2132.9 1402.2 2131.8 1398.8 2130.7 1395.5 2129.6 1392.3 2128.4 1389.1 2127.2 1385.9 2125.9 1382.7 2124.6 1379.6 2123.3 1376.5 2121.9 1373.4 2120.6 1370.4 2119.2 1367.4 2117.7 1364.5 2116.2 1361.6 2114.7 1358.7 2113.2 1355.9 2111.6 1353.1 2110.1 1350.4 2108.4 1347.7 2106.8 1345 2105.1 1342.4 2103.4 1339.9 2101.7 1337.4 2099.9 1334.9 2098.2 1332.5 2096.4 1330.1 2094.5 1327.8 2092.7 1325.6 2090.8 1323.4 2088.9 1321.2 2087 1319.1 2085.1 1317.1 2083.1 1315.1 2081.2 1313.1 2079.2 1311.3 2077.2 1309.4 2075.1 1307.7 2073.1 1306 2071 1304.3 2069 1302.7 2066.9 1301.2 2064.8 1299.7 2062.6 1298.3 2060.5 1296.9 2058.4 1295.6 2056.2 1294.4 2054 1293.2 2051.8 1292.1 2049.7 1291.1 2047.4 1290.1 2045.2 1289.1 2043Z" stroke-width="1.9" fill="#fff"/>
<clipPath id="s0clip"><path d="M1287.3 1933.8L1287.3 1931.9 1287.4 1930.1 1287.6 1928.3 1287.8 1926.4 1288 1924.6 1288.4 1922.8 1288.8 1920.9 1289.2 1919.1 1289.8 1917.3 1290.4 1915.5 1291 1913.7 1291.7 1911.9 1292.5 1910.1 1293.3 1908.3 1294.2 1906.5 1295.2 1904.7 1296.2 1903 1297.3 1901.2 1298.4 1899.4 1299.6 1897.7 1300.9 1896 1302.2 1894.3 1303.6 1892.6 1305 1890.9 1306.5 1889.2 1308.1 1887.5 1309.7 1885.9 1311.3 1884.2 1313.1 1882.6 1314.8 1881 1316.7 1879.4 1318.5 1877.8 1320.5 1876.3 1322.5 1874.7 1324.5 1873.2 1326.6 1871.7 1328.8 1870.2 1331 1868.7 1333.2 1867.3 1335.5 1865.8 1337.8 1864.4 1340.2 1863 1342.7 1861.7 1345.2 1860.3 1347.7 1859 1350.3 1857.7 1352.9 1856.4 1355.5 1855.2 1358.3 1853.9 1361 1852.7 1363.8 1851.6 1366.6 1850.4 1369.5 1849.3 1372.4 1848.2 1375.3 1847.1 1378.3 1846 1381.3 1845 1384.4 1844 1387.5 1843 1390.6 1842.1 1393.7 1841.1 1396.9 1840.2 1400.1 1839.4 1403.3 1838.5 1406.6 1837.7 1409.9 1836.9 1413.2 1836.2 1416.6 1835.5 1419.9 1834.8 1423.3 1834.1 1426.7 1833.5 1430.2 1832.9 1433.6 1832.3 1437.1 1831.8 1440.6 1831.3 1444.1 1830.8 1447.6 1830.3 1451.1 1829.9 1454.7 1829.5 1458.2 1829.2 1461.8 1828.9 1465.4 1828.6 1469 1828.3 1472.6 1828.1 1476.2 1827.9 1479.8 1827.7 1483.4 1827.6 1487 1827.5 1490.6 1827.4 1494.2 1827.4 1497.9 1827.4 1501.5 1827.4 1505.1 1827.5 1508.7 1827.6 1512.3 1827.7 1515.9 1827.9 1519.5 1828.1 1523.1 1828.3 1526.7 1828.5 1530.3 1828.8 1533.9 1829.1 1537.4 1829.5 1540.9 1829.9 1544.5 1830.3 1548 1830.7 1551.5 1831.2 1554.9 1831.7 1558.4 1832.2 1561.8 1832.8 1565.3 1833.4 1568.6 1834 1572 1834.7 1575.4 1835.3 1578.7 1836.1 1582 1836.8 1585.3 1837.6 1588.5 1838.4 1591.7 1839.2 1594.9 1840.1 1598.1 1841 1601.2 1841.9 1604.3 1842.8 1607.3 1843.8 1610.4 1844.8 1613.4 1845.8 1616.3 1846.9 1619.2 1848 1622.1 1849.1 1625 1850.2 1627.8 1851.3 1630.5 1852.5 1633.2 1853.7 1635.9 1854.9 1638.5 1856.2 1641.1 1857.5 1643.7 1858.8 1646.2 1860.1 1648.6 1861.4 1651 1862.8 1653.4 1864.2 1655.7 1865.6 1658 1867 1660.2 1868.5 1662.3 1869.9 1664.5 1871.4 1666.5 1872.9 1668.5 1874.4 1670.5 1876 1672.4 1877.5 1674.2 1879.1 1676 1880.7 1677.8 1882.3 1679.4 1883.9 1681.1 1885.6 1682.6 1887.2 1684.1 1888.9 1685.6 1890.6 1687 1892.2 1688.3 1894 1689.6 1895.7 1690.8 1897.4 1692 1899.1 1693.1 1900.9 1694.1 1902.6 1695.1 1904.4 1696 1906.2 1696.9 1908 1697.6 1909.7 1698.4 1911.5 1699 1913.3 1699.7 1915.2 1700.2 1917 1700.7 1918.8 1701.1 1920.6 1701.5 1922.4 1701.8 1924.3 1702 1926.1 1702.2 1927.9 1702.3 1929.8 1702.3 1931.6 1703.8 2043 1703.3 2045.3 1702.7 2047.5 1702 2049.7 1701.3 2051.9 1700.6 2054 1699.8 2056.2 1698.9 2058.4 1697.9 2060.5 1696.9 2062.7 1695.8 2064.8 1694.7 2066.9 1693.5 2069 1692.2 2071.1 1690.9 2073.1 1689.5 2075.2 1688.1 2077.2 1686.6 2079.2 1685 2081.2 1683.4 2083.2 1681.7 2085.1 1680 2087 1678.2 2089 1676.4 2090.8 1674.4 2092.7 1672.5 2094.6 1670.5 2096.4 1668.4 2098.2 1666.3 2100 1664.1 2101.7 1661.9 2103.4 1659.6 2105.1 1657.3 2106.8 1654.9 2108.4 1652.5 2110.1 1650 2111.7 1647.4 2113.2 1644.9 2114.7 1642.3 2116.2 1639.6 2117.7 1636.9 2119.2 1634.1 2120.6 1631.3 2122 1628.5 2123.3 1625.6 2124.6 1622.7 2125.9 1619.7 2127.2 1616.7 2128.4 1613.7 2129.6 1610.6 2130.7 1607.5 2131.8 1604.4 2132.9 1601.2 2134 1598 2135 1594.7 2136 1591.5 2136.9 1588.2 2137.8 1584.8 2138.7 1581.5 2139.5 1578.1 2140.3 1574.7 2141.1 1571.2 2141.8 1567.8 2142.5 1564.3 2143.1 1560.8 2143.7 1557.3 2144.3 1553.7 2144.8 1550.2 2145.3 1546.6 2145.8 1543 2146.2 1539.4 2146.5 1535.7 2146.9 1532.1 2147.2 1528.5 2147.4 1524.8 2147.6 1521.1 2147.8 1517.4 2148 1513.8 2148.1 1510.1 2148.1 1506.4 2148.1 1502.7 2148.1 1499 2148.1 1495.3 2148 1491.6 2147.8 1487.9 2147.6 1484.2 2147.4 1480.5 2147.2 1476.8 2146.9 1473.1 2146.5 1469.4 2146.2 1465.7 2145.7 1462.1 2145.3 1458.4 2144.8 1454.8 2144.3 1451.1 2143.7 1447.5 2143.1 1443.9 2142.5 1440.3 2141.8 1436.7 2141.1 1433.2 2140.3 1429.6 2139.5 1426.1 2138.7 1422.6 2137.8 1419.2 2136.9 1415.7 2136 1412.3 2135 1408.9 2134 1405.5 2132.9 1402.2 2131.8 1398.8 2130.7 1395.5 2129.6 1392.3 2128.4 1389.1 2127.2 1385.9 2125.9 1382.7 2124.6 1379.6 2123.3 1376.5 2121.9 1373.4 2120.6 1370.4 2119.2 1367.4 2117.7 1364.5 2116.2 1361.6 2114.7 1358.7 2113.2 1355.9 2111.6 1353.1 2110.1 1350.4 2108.4 1347.7 2106.8 1345 2105.1 1342.4 2103.4 1339.9 2101.7 1337.4 2099.9 1334.9 2098.2 1332.5 2096.4 1330.1 2094.5 1327.8 2092.7 1325.6 2090.8 1323.4 2088.9 1321.2 2087 1319.1 2085.1 1317.1 2083.1 1315.1 2081.2 1313.1 2079.2 1311.3 2077.2 1309.4 2075.1 1307.7 2073.1 1306 2071 1304.3 2069 1302.7 2066.9 1301.2 2064.8 1299.7 2062.6 1298.3 2060.5 1296.9 2058.4 1295.6 2056.2 1294.4 2054 1293.2 2051.8 1292.1 2049.7 1291.1 2047.4 1290.1 2045.2 1289.1 2043Z"/></clipPath>
<g clip-path="url(#s0clip)">
<ellipse cx="0" cy="0" rx="211.5" ry="128.6" transform="translate(1494.2 2019.2) rotate(3.20)" stroke-width="2.3"/>
</g>
<ellipse cx="0" cy="0" rx="197.3" ry="117.9" transform="translate(1493 2028.2) rotate(0.69)" stroke-width="1.9"/>
<g transform="translate(1209 1593.4) rotate(-29)"><rect x="-61" y="-20.5" width="122" height="41" rx="8" fill="#fff" stroke-width="2"/><rect x="-59" y="-16" width="24" height="24" rx="5" stroke-width="1.8"/><rect x="35" y="-16" width="24" height="24" rx="5" stroke-width="1.8"/></g>
<path d="M1148.4 1621.3C1145 1622.8 1135.2 1625.9 1128.2 1630.5C1121.2 1635.1 1109.9 1643.4 1106.2 1648.8C1102.6 1654.1 1103.2 1659 1106.2 1662.5C1109.3 1666 1110.8 1668.3 1124.5 1669.9C1138.3 1671.4 1178 1671.4 1188.6 1671.7" stroke-width="1.7"/>
<path d="M1152 1627.7C1147.4 1630 1131.4 1637 1124.5 1641.5C1117.7 1645.9 1112 1651.2 1110.8 1654.3C1109.6 1657.3 1112.5 1659 1117.2 1659.8C1121.9 1660.5 1126.8 1660.4 1139.2 1658.9C1151.6 1657.3 1182.7 1652 1191.4 1650.6" stroke-width="1.7"/>
<path d="M1265.6 1557.2C1269.8 1553.6 1286.2 1542.6 1291.2 1535.2C1296.2 1527.9 1296.7 1518.8 1295.8 1513.3C1294.9 1507.8 1290.1 1504.4 1285.7 1502.3C1281.3 1500.1 1272 1500.7 1269.2 1500.4" stroke-width="1.7"/>
<path d="M1270.1 1564.5C1275.2 1559.7 1293.2 1544.7 1300.4 1535.2C1307.5 1525.8 1312.6 1514.5 1313.2 1507.8C1313.8 1501.1 1307.8 1497.5 1304 1494.9C1300.2 1492.4 1292.6 1492.7 1290.3 1492.2" stroke-width="1.7"/>
<path d="M1263.7 1653.4C1268.6 1654.1 1282.4 1654.4 1293 1657.9C1303.7 1661.5 1322 1671.7 1327.8 1674.4" stroke-width="1.7"/>
<path d="M1259.2 1675.3C1264.8 1675.8 1281.6 1678.1 1293 1678.1C1304.5 1678.1 1322 1675.8 1327.8 1675.3" stroke-width="1.7"/>
<path d="M1263.7 1656.1C1268.6 1656.9 1282.4 1657.6 1293 1660.7C1303.7 1663.8 1322 1672.6 1327.8 1675" stroke-width="1.7"/>
<path d="M1259.2 1677.2C1264.8 1677.6 1281.6 1680.2 1293 1679.9C1304.5 1679.7 1322 1676.4 1327.8 1675.7" stroke-width="1.7"/>
<path d="M1149.5 1623.2C1146.1 1624.7 1136 1628.4 1129.1 1632.7C1122.3 1636.9 1111.9 1644 1108.4 1648.8C1105 1653.6 1105.4 1658 1108.4 1661.2C1111.4 1664.5 1113 1666.7 1126.4 1668C1139.7 1669.4 1178.3 1669.1 1188.6 1669.3" stroke-width="1.1"/>
<path d="M1153.1 1629.6C1148.7 1631.8 1133 1639.2 1126.4 1643.3C1119.7 1647.4 1114.4 1651.5 1113.2 1653.9C1112 1656.4 1114.7 1657.4 1119 1657.9C1123.4 1658.5 1127.1 1657.8 1139.2 1657C1151.3 1656.3 1182.7 1654 1191.4 1653.4" stroke-width="1.1"/>
<rect x="1191.4" y="1646" width="28.4" height="11.9" stroke-width="1.6" fill="#fff"/>
<rect x="1194.2" y="1648.4" width="12.8" height="2.1" fill="#000" stroke="none"/>
<rect x="1194.2" y="1653.2" width="12.8" height="2.1" fill="#000" stroke="none"/>
<path d="M1212.7 1646L1212.7 1657.9" stroke-width="1.4"/>
<rect x="1188.6" y="1664.4" width="33" height="13.7" stroke-width="1.6" fill="#fff"/>
<path d="M1205.1 1664.4L1205.1 1678.1" stroke-width="1.4"/>
<rect x="1229.9" y="1647" width="33.9" height="14.7" stroke-width="1.6" fill="#fff"/>
<path d="M1246.8 1647L1246.8 1661.6" stroke-width="1.4"/>
<rect x="1229.9" y="1667.1" width="29.3" height="12.8" stroke-width="1.6" fill="#fff"/>
<rect x="1243" y="1669.7" width="13.2" height="2.3" fill="#000" stroke="none"/>
<rect x="1243" y="1674.8" width="13.2" height="2.3" fill="#000" stroke="none"/>
<path d="M1237.2 1667.1L1237.2 1679.9" stroke-width="1.4"/>
<path d="M1234.4 1616.7L1203.3 1632.3 1228.9 1647" stroke-width="1.7"/>
<path d="M1224.4 1633.2L1272 1636" stroke-width="1.7"/>
<path d="M1236.3 1679.9L1263.7 1695.5 1232.6 1711.1" stroke-width="1.7"/>
<path d="M1196 1692.7L1242.7 1694.6" stroke-width="1.7"/>
<path d="M1237.2 1489.5L1265.6 1473 1291.2 1488.5 1261.9 1504.1Z" stroke-width="1.7" fill="#fff"/>
<path d="M1246.5 1484L1271.6 1499" stroke-width="1.6"/>
<path d="M1255.9 1478.6L1281.2 1493.8" stroke-width="1.6"/>
<path d="M1206 1505.9L1244.5 1532.5" stroke-width="1.7"/>
<path d="M1204.2 1525.2C1203.4 1522.6 1202.2 1514.8 1199.6 1509.6C1197 1504.4 1190.5 1496.6 1188.6 1494" stroke-width="1.7"/>
<path d="M1188.6 1494C1191.4 1494.7 1199.3 1497.6 1205.1 1498.2C1210.9 1498.9 1220.4 1497.8 1223.4 1497.7" stroke-width="1.7"/>
<circle cx="1734" cy="1369" r="40" stroke-width="1.9"/>
<text x="1734" y="1387.6" font-size="52" text-anchor="middle" fill="#000" stroke="none">9</text>
<circle cx="1734.2" cy="1532.1" r="40" stroke-width="1.9"/>
<path d="M1721.8 1513.6L1721.8 1550.6 1717.6 1550.6 1717.6 1517.2 1709.3 1522.4 1709.3 1518.6 1717 1513.6Z" fill="#000" stroke="none"/>
<ellipse cx="1746.2" cy="1531.8" rx="13.1" ry="16.5" stroke-width="3.6"/>
<circle cx="1054.8" cy="1587.4" r="40" stroke-width="1.9"/>
<path d="M1048.8 1568.9L1048.8 1605.9 1044.6 1605.9 1044.6 1572.5 1036.3 1577.7 1036.3 1573.9 1044 1568.9Z" fill="#000" stroke="none"/>
<path d="M1069 1568.9L1069 1605.9 1064.8 1605.9 1064.8 1572.5 1056.5 1577.7 1056.5 1573.9 1064.2 1568.9Z" fill="#000" stroke="none"/>
<circle cx="1497.2" cy="2327" r="40" stroke-width="1.9"/>
<path d="M1486.9 2308.5L1486.9 2345.5 1482.7 2345.5 1482.7 2312.1 1474.4 2317.3 1474.4 2313.5 1482.1 2308.5Z" fill="#000" stroke="none"/>
<text x="1506.8" y="2345.6" font-size="52" text-anchor="middle" fill="#000" stroke="none">2</text>
</svg></body></html>
